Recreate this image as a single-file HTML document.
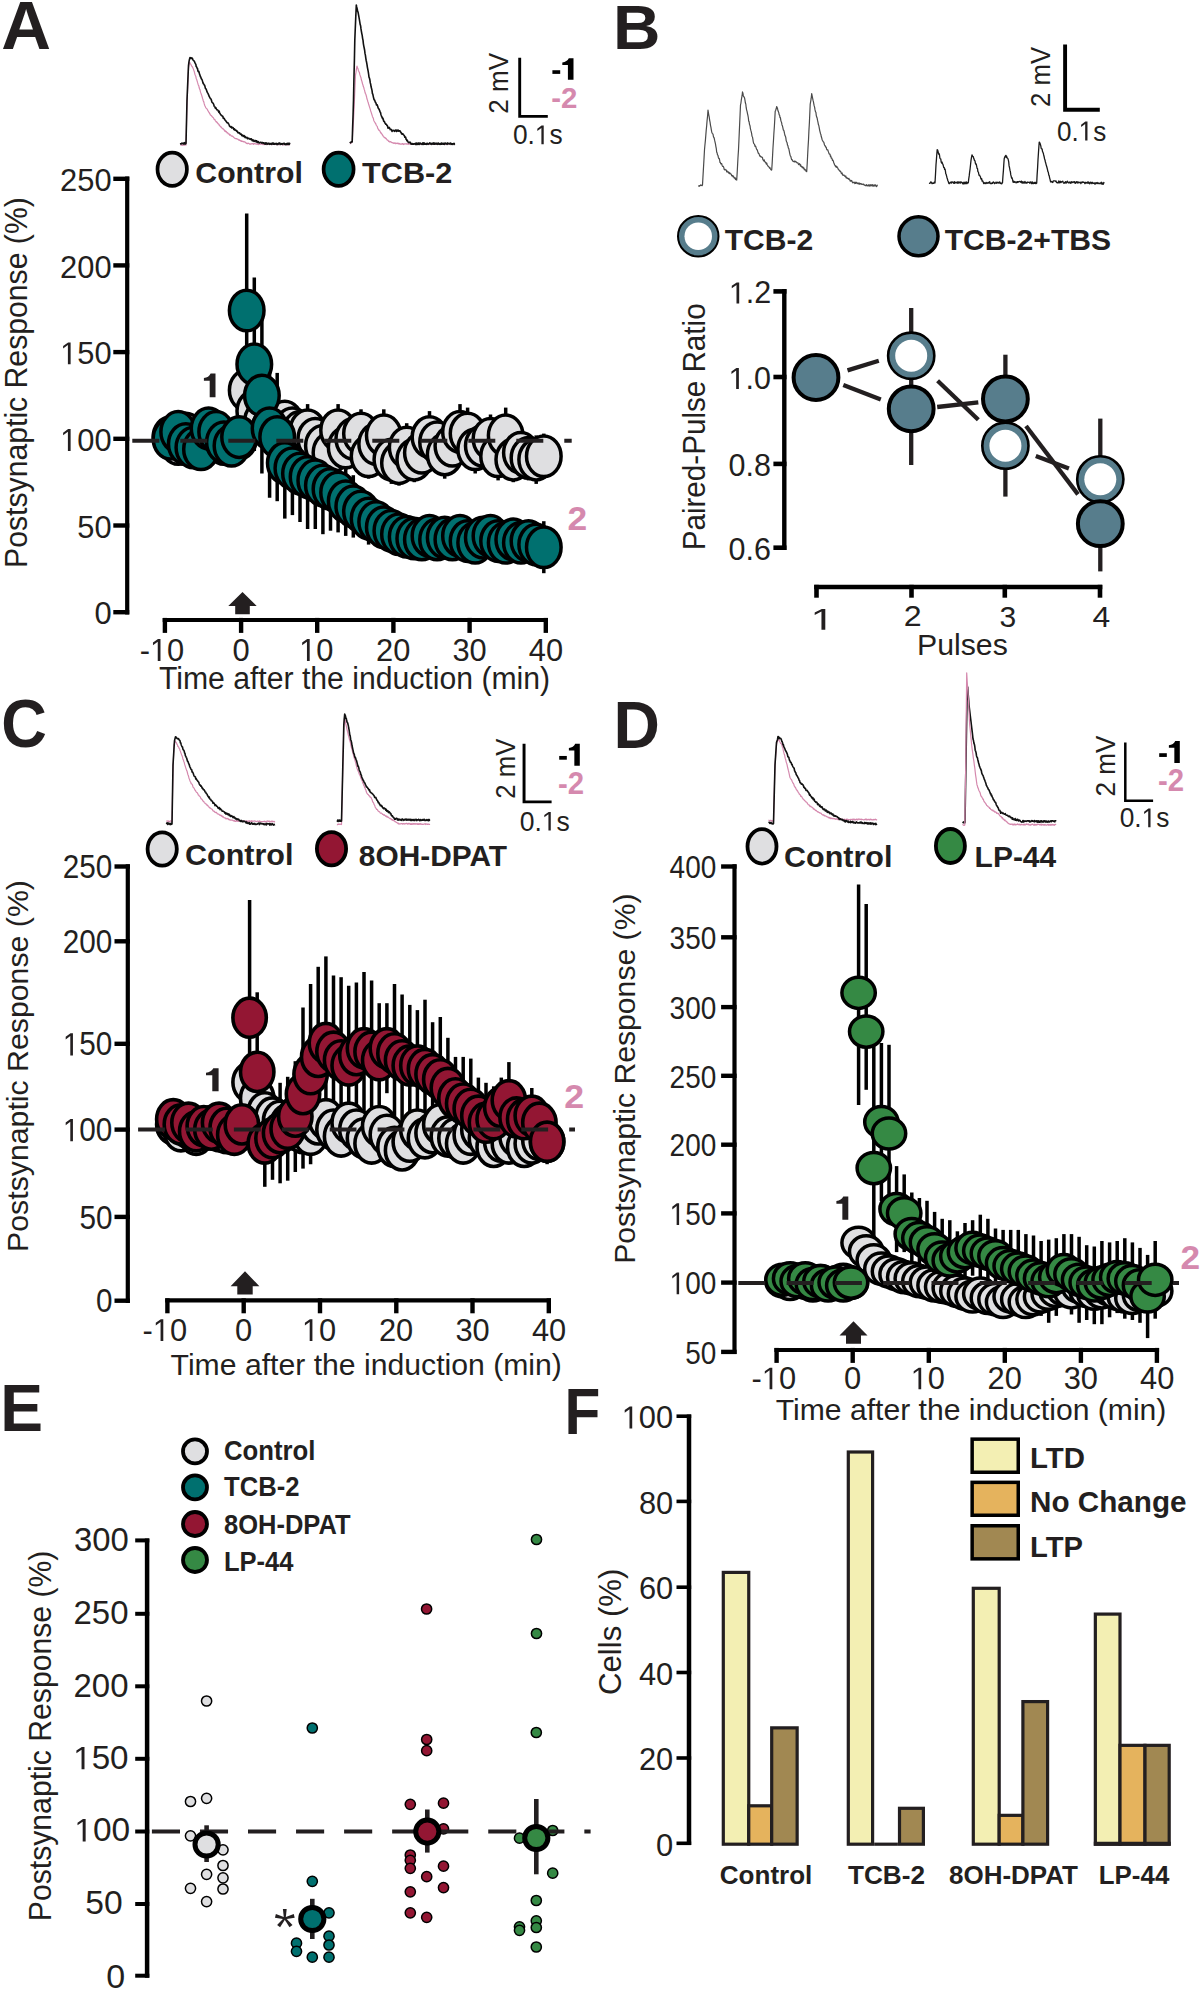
<!DOCTYPE html>
<html><head><meta charset="utf-8"><style>
html,body{margin:0;padding:0;background:#fff;}
svg{display:block;font-family:"Liberation Sans",sans-serif;}
</style></head><body>
<svg width="1200" height="1991" viewBox="0 0 1200 1991">
<rect width="1200" height="1991" fill="#fff"/>
<text x="1.3" y="49.2" font-size="68" font-weight="bold" textLength="49.8" lengthAdjust="spacingAndGlyphs" fill="#231f20">A</text>
<path d="M180.5,145.5 L180.9,145.4 L181.3,144.6 L181.8,144.6 L182.2,145.3 L182.6,145.2 L183.0,145.2 L183.5,144.8 L183.9,145.1 L184.3,145.1 L184.7,145.1 L185.2,144.7 L185.6,144.9 L186.0,145.0 L186.5,125.0 L187.0,105.1 L187.5,92.8 L188.0,80.3 L188.5,67.9 L189.0,65.0 L189.5,62.0 L189.9,62.7 L190.4,63.8 L190.8,64.2 L191.2,65.0 L191.6,66.1 L192.1,66.4 L192.5,67.1 L192.9,67.9 L193.3,68.9 L193.8,70.3 L194.2,71.3 L194.6,72.8 L195.0,74.5 L195.4,75.5 L195.8,76.3 L196.2,78.4 L196.7,79.6 L197.1,80.9 L197.5,82.4 L197.9,83.6 L198.3,85.0 L198.8,85.9 L199.2,87.8 L199.6,89.1 L200.0,89.7 L200.4,91.6 L200.8,92.9 L201.2,94.0 L201.7,95.4 L202.1,96.7 L202.5,98.4 L202.9,99.3 L203.3,101.0 L203.8,101.9 L204.2,103.7 L204.6,105.1 L205.0,106.0 L205.4,106.7 L205.8,107.8 L206.2,108.2 L206.7,108.7 L207.1,109.1 L207.5,109.8 L207.9,110.9 L208.3,111.0 L208.8,112.4 L209.2,112.4 L209.6,113.7 L210.0,113.8 L210.4,115.0 L210.8,115.2 L211.2,115.5 L211.7,116.0 L212.1,116.7 L212.5,117.1 L212.9,117.3 L213.3,117.7 L213.8,118.5 L214.2,119.4 L214.6,119.6 L215.0,119.6 L215.4,120.8 L215.8,121.2 L216.2,121.9 L216.7,121.7 L217.1,122.7 L217.5,122.6 L217.9,123.7 L218.3,123.8 L218.8,124.2 L219.2,125.4 L219.6,125.1 L220.0,126.0 L220.4,126.8 L220.8,126.6 L221.2,127.0 L221.7,128.0 L222.1,128.0 L222.5,128.7 L222.9,128.4 L223.3,129.2 L223.8,129.4 L224.2,130.3 L224.6,130.2 L225.0,131.5 L225.4,130.9 L225.8,131.9 L226.2,131.5 L226.7,132.1 L227.1,133.0 L227.5,132.7 L227.9,133.0 L228.3,133.9 L228.8,133.9 L229.2,133.9 L229.6,135.2 L230.0,134.7 L230.4,134.8 L230.8,135.3 L231.2,135.9 L231.7,136.2 L232.1,135.9 L232.5,136.3 L232.9,136.3 L233.3,136.9 L233.8,137.5 L234.2,137.7 L234.6,138.2 L235.0,138.3 L235.4,138.6 L235.8,138.6 L236.2,138.6 L236.7,138.6 L237.1,139.2 L237.5,139.1 L237.9,139.1 L238.3,139.6 L238.8,140.2 L239.2,139.7 L239.6,140.4 L240.0,140.4 L240.4,140.7 L240.8,140.5 L241.2,141.5 L241.7,140.9 L242.1,141.4 L242.5,141.4 L242.9,141.2 L243.3,141.9 L243.8,141.6 L244.2,141.7 L244.6,141.9 L245.0,142.2 L245.4,142.2 L245.8,142.9 L246.2,142.9 L246.7,143.5 L247.1,143.6 L247.5,143.7 L247.9,143.1 L248.3,143.4 L248.8,143.4 L249.2,143.8 L249.6,144.0 L250.0,144.3 L250.4,144.2 L250.8,143.8 L251.2,143.9 L251.6,144.0 L252.0,143.5 L252.4,143.6 L252.8,143.9 L253.2,143.7 L253.6,144.3 L254.0,143.8 L254.4,143.7 L254.8,143.7 L255.2,143.8 L255.6,143.8 L256.0,144.1 L256.4,144.0 L256.8,143.9 L257.2,144.2 L257.6,143.8 L258.0,144.5 L258.4,144.6 L258.8,144.3 L259.2,144.0 L259.6,144.1 L260.0,144.2 L260.4,143.7 L260.8,144.1 L261.2,144.2 L261.6,143.8 L262.0,143.7 L262.4,144.5 L262.8,144.0 L263.2,144.2 L263.6,144.6 L264.0,144.3 L264.4,144.0 L264.8,144.7 L265.2,144.1 L265.6,143.7 L266.0,144.4 L266.4,143.8 L266.8,144.0 L267.2,144.6 L267.6,144.4 L268.0,143.7 L268.4,144.2 L268.8,144.1 L269.2,144.2 L269.6,144.0 L270.0,144.3 L270.4,143.8 L270.8,144.0 L271.2,144.1 L271.6,144.7 L272.0,143.9 L272.4,144.5 L272.8,144.0 L273.2,144.4 L273.6,144.2 L274.0,144.3 L274.4,144.6 L274.8,144.2 L275.2,143.9 L275.6,143.9 L276.0,143.9 L276.4,144.7 L276.8,144.5 L277.2,144.8 L277.6,144.5 L278.0,143.9 L278.4,144.5 L278.8,144.6 L279.2,144.6 L279.6,144.4 L280.0,144.2 L280.4,144.3 L280.8,144.7 L281.2,144.2 L281.6,144.4 L282.0,144.4 L282.4,144.9 L282.8,144.7 L283.2,144.8 L283.6,144.8 L284.0,144.2 L284.4,144.2 L284.8,144.4 L285.2,144.2 L285.6,144.4 L286.0,144.6 L286.4,144.9 L286.8,144.5 L287.2,144.8 L287.6,144.1 L288.0,144.3 L288.4,145.0 L288.8,144.1 L289.2,144.4 L289.6,144.1 L290.0,144.5" fill="none" stroke="#d589ae" stroke-width="1.2" stroke-linejoin="round"/>
<path d="M180.5,142.9 L180.9,144.1 L181.3,143.9 L181.8,143.1 L182.2,143.5 L182.6,143.4 L183.0,143.7 L183.5,144.0 L183.9,142.9 L184.3,142.7 L184.7,144.0 L185.2,143.4 L185.6,143.9 L186.0,143.3 L186.5,121.7 L187.0,100.1 L187.5,88.2 L188.0,76.8 L188.5,65.6 L189.0,61.7 L189.5,59.2 L190.0,57.6 L190.4,58.5 L190.8,57.8 L191.2,57.8 L191.7,58.4 L192.1,58.0 L192.5,58.6 L192.9,59.6 L193.3,60.3 L193.8,60.6 L194.2,61.2 L194.6,61.9 L195.0,62.9 L195.4,63.7 L195.8,64.2 L196.2,66.5 L196.7,67.1 L197.1,68.2 L197.5,68.5 L197.9,70.8 L198.3,71.6 L198.8,71.4 L199.2,72.7 L199.6,74.4 L200.0,75.3 L200.4,76.7 L200.8,76.9 L201.2,78.5 L201.7,79.3 L202.1,79.7 L202.5,81.1 L202.9,82.6 L203.3,83.6 L203.8,84.0 L204.2,85.1 L204.6,85.3 L205.0,86.6 L205.4,88.4 L205.8,88.7 L206.2,89.2 L206.7,90.7 L207.1,91.9 L207.5,92.8 L207.9,93.2 L208.3,94.2 L208.8,95.3 L209.2,96.6 L209.6,97.1 L210.0,97.8 L210.4,98.7 L210.8,98.7 L211.2,99.5 L211.7,101.3 L212.1,102.5 L212.5,102.6 L212.9,103.1 L213.3,103.5 L213.8,104.8 L214.2,106.3 L214.6,106.7 L215.0,107.1 L215.4,108.1 L215.8,107.6 L216.2,108.5 L216.7,109.7 L217.1,109.6 L217.5,109.9 L217.9,110.1 L218.3,111.1 L218.8,112.2 L219.2,111.2 L219.6,113.0 L220.0,113.5 L220.4,114.2 L220.8,114.6 L221.2,115.2 L221.7,115.4 L222.1,116.0 L222.5,116.4 L222.9,116.4 L223.3,118.3 L223.8,118.4 L224.2,118.4 L224.6,119.4 L225.0,120.0 L225.4,120.3 L225.8,120.8 L226.2,121.6 L226.7,122.2 L227.1,122.7 L227.5,122.9 L227.9,122.7 L228.3,123.6 L228.8,124.0 L229.2,125.1 L229.6,126.1 L230.0,126.5 L230.4,126.8 L230.8,127.2 L231.2,126.6 L231.7,127.9 L232.1,127.9 L232.5,127.3 L232.9,127.6 L233.3,127.9 L233.8,129.4 L234.2,128.9 L234.6,129.0 L235.0,130.2 L235.4,130.1 L235.8,130.0 L236.2,130.5 L236.7,131.4 L237.1,131.1 L237.5,131.6 L237.9,132.7 L238.3,132.6 L238.8,132.7 L239.2,133.3 L239.6,132.9 L240.0,133.8 L240.4,134.1 L240.8,134.0 L241.2,134.1 L241.7,135.6 L242.1,135.3 L242.5,135.0 L242.9,135.9 L243.3,136.5 L243.8,135.5 L244.2,135.7 L244.6,136.2 L245.0,137.4 L245.4,136.6 L245.8,137.7 L246.2,137.8 L246.7,137.7 L247.1,137.4 L247.5,138.8 L247.9,138.6 L248.3,138.4 L248.8,138.1 L249.2,138.9 L249.6,138.7 L250.0,139.1 L250.4,138.9 L250.8,139.5 L251.2,138.8 L251.7,139.3 L252.1,140.6 L252.5,140.6 L252.9,139.9 L253.3,140.9 L253.8,140.2 L254.2,141.4 L254.6,141.2 L255.0,140.9 L255.4,140.7 L255.8,140.5 L256.2,142.0 L256.7,140.8 L257.1,142.1 L257.5,142.5 L257.9,142.0 L258.3,141.5 L258.8,142.7 L259.2,143.0 L259.6,142.7 L260.0,142.5 L260.4,142.4 L260.8,142.4 L261.2,142.3 L261.7,143.1 L262.1,142.8 L262.5,142.5 L262.9,142.5 L263.3,143.4 L263.8,142.9 L264.2,143.3 L264.6,143.1 L265.0,144.1 L265.4,144.1 L265.8,142.7 L266.2,143.0 L266.6,143.3 L267.0,144.3 L267.4,144.0 L267.8,143.3 L268.2,143.1 L268.6,143.9 L269.0,144.1 L269.4,144.3 L269.8,143.3 L270.2,144.2 L270.6,143.9 L271.0,143.6 L271.5,144.4 L271.9,143.2 L272.3,144.0 L272.7,143.0 L273.1,143.1 L273.5,144.3 L273.9,143.2 L274.3,144.1 L274.7,143.9 L275.1,144.2 L275.5,143.5 L275.9,143.5 L276.3,143.4 L276.7,144.3 L277.1,143.9 L277.5,144.5 L277.9,144.4 L278.3,143.2 L278.7,143.9 L279.1,143.1 L279.5,143.1 L279.9,143.1 L280.3,144.4 L280.7,144.3 L281.1,144.3 L281.5,143.6 L281.9,144.0 L282.3,144.3 L282.7,143.7 L283.1,144.0 L283.5,143.4 L284.0,143.2 L284.4,143.5 L284.8,144.5 L285.2,144.0 L285.6,144.6 L286.0,143.9 L286.4,143.6 L286.8,144.4 L287.2,144.5 L287.6,143.2 L288.0,144.2 L288.4,143.3 L288.8,143.4 L289.2,144.6 L289.6,143.3 L290.0,144.0" fill="none" stroke="#111" stroke-width="1.6" stroke-linejoin="round"/>
<path d="M349.8,143.7 L350.2,143.7 L350.6,143.2 L351.0,143.1 L351.4,142.8 L351.8,141.9 L352.2,141.9 L352.6,134.1 L353.1,126.0 L353.6,117.9 L354.0,110.1 L354.5,98.3 L355.0,86.7 L355.5,75.0 L356.0,72.2 L356.5,68.7 L357.0,66.2 L357.5,67.8 L358.0,68.8 L358.4,70.4 L358.9,71.6 L359.4,72.4 L359.8,74.4 L360.2,75.6 L360.6,76.7 L361.0,77.8 L361.4,80.0 L361.8,80.9 L362.2,82.5 L362.6,84.0 L363.0,85.2 L363.4,86.8 L363.8,87.6 L364.2,89.4 L364.6,90.4 L365.0,92.3 L365.4,93.6 L365.8,94.1 L366.2,95.5 L366.6,97.0 L367.0,99.1 L367.4,99.9 L367.8,101.5 L368.2,102.5 L368.6,104.0 L369.0,105.3 L369.4,106.6 L369.9,108.1 L370.3,109.4 L370.7,111.0 L371.1,112.1 L371.6,113.7 L372.0,114.9 L372.4,116.4 L372.8,117.4 L373.3,118.2 L373.7,120.2 L374.1,121.1 L374.5,121.8 L374.9,122.3 L375.3,123.2 L375.7,123.5 L376.1,124.9 L376.5,125.5 L376.9,126.0 L377.3,126.6 L377.7,128.2 L378.1,129.1 L378.5,129.0 L378.9,130.3 L379.3,130.4 L379.7,130.7 L380.1,131.4 L380.5,132.5 L380.9,133.1 L381.3,132.9 L381.7,134.0 L382.1,134.0 L382.5,135.2 L382.9,135.4 L383.3,136.5 L383.7,137.0 L384.1,136.9 L384.5,137.8 L384.9,137.5 L385.3,137.7 L385.7,138.6 L386.1,138.4 L386.5,139.0 L386.9,139.6 L387.3,140.2 L387.7,140.2 L388.1,140.4 L388.5,141.4 L389.0,141.1 L389.4,141.9 L389.8,142.0 L390.3,141.6 L390.7,141.9 L391.2,142.1 L391.6,142.4 L392.0,142.6 L392.5,142.7 L392.9,142.9 L393.3,143.3 L393.7,142.9 L394.2,142.9 L394.6,143.3 L395.0,142.9 L395.4,143.0 L395.8,143.8 L396.2,143.4 L396.7,143.5 L397.1,143.0 L397.5,143.5 L397.9,143.7 L398.3,143.2 L398.7,143.9 L399.2,144.0 L399.6,143.5 L400.0,144.1 L400.4,144.0 L400.8,144.2 L401.2,143.9 L401.6,144.2 L402.0,144.2 L402.4,143.5 L402.8,143.6 L403.2,144.2 L403.6,144.5 L404.0,143.8 L404.4,144.0 L404.8,144.1 L405.2,143.8 L405.6,143.9 L406.0,143.8 L406.4,143.9 L406.8,144.1 L407.2,143.8 L407.6,143.9 L408.0,144.3 L408.4,143.5 L408.8,144.1 L409.2,144.2 L409.6,143.8 L410.0,143.7 L410.4,144.3 L410.8,143.7 L411.2,143.7 L411.6,143.9 L412.0,144.2 L412.4,143.6 L412.8,143.8 L413.2,143.8 L413.6,144.3 L414.1,143.9 L414.5,144.4 L414.9,143.7 L415.3,143.8 L415.7,144.2 L416.1,144.4 L416.5,144.0 L416.9,143.7 L417.3,143.6 L417.7,144.0 L418.1,143.7 L418.5,144.3 L418.9,144.3 L419.3,143.7 L419.7,143.8 L420.1,144.3 L420.5,144.1 L420.9,144.3 L421.3,143.8 L421.7,143.6 L422.1,143.8 L422.5,144.3 L422.9,143.8 L423.3,143.8 L423.7,143.9 L424.1,143.9 L424.5,143.9 L424.9,144.4 L425.3,143.7 L425.7,143.5 L426.1,144.4 L426.5,144.4 L426.9,144.5 L427.3,143.9 L427.7,144.5 L428.1,144.4 L428.5,143.7 L428.9,144.2 L429.3,144.3 L429.7,144.2 L430.1,144.0 L430.5,143.8 L430.9,143.8 L431.3,143.7 L431.7,143.6 L432.1,144.1 L432.5,143.8 L432.9,144.3 L433.3,143.5 L433.7,144.4 L434.1,144.2 L434.5,144.4 L434.9,144.4 L435.3,144.4 L435.7,144.1 L436.1,143.5 L436.5,144.2 L436.9,143.7 L437.3,143.8 L437.7,144.2 L438.1,144.0 L438.5,143.9 L438.9,144.4 L439.3,144.1 L439.7,143.8 L440.1,143.8 L440.5,144.4 L440.9,144.0 L441.4,144.3 L441.8,143.9 L442.2,143.7 L442.6,144.0 L443.0,144.3 L443.4,143.7 L443.8,144.3 L444.2,144.4 L444.6,144.3 L445.0,144.3 L445.4,143.5 L445.8,144.1 L446.2,144.4 L446.6,143.5 L447.0,143.8 L447.4,143.8 L447.8,144.0 L448.2,143.9 L448.6,144.0 L449.0,144.3 L449.4,143.5 L449.8,143.6 L450.2,143.6 L450.6,143.6 L451.0,143.6 L451.4,144.5 L451.8,144.4 L452.2,143.6 L452.6,144.0 L453.0,143.8 L453.4,143.8 L453.8,143.9 L454.2,144.1 L454.6,144.1 L455.0,144.0" fill="none" stroke="#d589ae" stroke-width="1.2" stroke-linejoin="round"/>
<path d="M349.8,143.1 L350.2,142.6 L350.6,142.8 L351.0,142.1 L351.4,141.7 L351.8,141.9 L352.2,141.9 L352.6,128.0 L353.1,114.0 L353.5,99.9 L353.9,80.0 L354.4,59.9 L354.8,39.9 L355.3,28.0 L355.8,16.1 L356.3,5.0 L356.7,7.0 L357.2,9.0 L357.6,11.2 L358.1,12.3 L358.5,14.6 L359.0,17.3 L359.4,19.6 L359.8,22.2 L360.2,24.6 L360.6,25.7 L361.0,28.9 L361.4,31.4 L361.8,33.6 L362.2,35.4 L362.6,38.3 L363.0,40.1 L363.4,43.8 L363.8,46.1 L364.2,48.0 L364.6,50.0 L365.0,53.4 L365.4,55.2 L365.8,58.1 L366.2,60.5 L366.6,62.3 L367.0,64.6 L367.4,67.3 L367.8,69.4 L368.2,71.4 L368.6,74.0 L369.0,77.2 L369.4,78.0 L369.9,80.0 L370.3,82.9 L370.7,84.3 L371.1,86.8 L371.6,88.7 L372.0,90.4 L372.4,93.5 L372.8,94.2 L373.3,96.6 L373.7,98.2 L374.1,99.7 L374.5,99.9 L374.9,100.9 L375.3,102.3 L375.7,102.4 L376.1,103.6 L376.5,104.9 L376.9,104.5 L377.3,105.2 L377.7,106.3 L378.1,107.9 L378.5,108.5 L378.9,108.8 L379.3,109.9 L379.7,110.7 L380.1,112.1 L380.5,112.4 L380.9,114.4 L381.3,115.6 L381.7,116.7 L382.1,117.3 L382.5,118.6 L382.9,118.1 L383.3,119.5 L383.7,121.2 L384.1,121.5 L384.5,121.6 L384.9,123.1 L385.3,123.2 L385.7,124.2 L386.1,124.0 L386.5,124.4 L386.9,125.5 L387.3,125.6 L387.7,126.7 L388.1,128.2 L388.5,127.6 L389.0,127.4 L389.4,127.8 L389.8,128.4 L390.3,129.7 L390.7,129.4 L391.2,129.6 L391.6,129.6 L392.0,131.4 L392.5,130.8 L392.9,130.8 L393.3,130.5 L393.7,130.4 L394.1,130.6 L394.6,131.3 L395.0,130.4 L395.4,130.1 L395.8,130.8 L396.2,130.3 L396.6,131.5 L397.0,130.0 L397.5,130.6 L397.9,130.9 L398.3,130.2 L398.7,131.1 L399.1,130.7 L399.5,130.7 L399.9,131.4 L400.3,131.2 L400.7,132.2 L401.1,132.4 L401.5,133.8 L402.0,134.1 L402.4,134.0 L402.8,133.7 L403.2,134.5 L403.6,134.9 L404.0,135.2 L404.4,135.7 L404.8,137.3 L405.2,136.8 L405.7,137.3 L406.1,139.3 L406.5,139.4 L406.9,140.7 L407.4,140.4 L407.8,141.8 L408.2,142.0 L408.6,142.5 L409.0,142.6 L409.5,142.4 L409.9,142.0 L410.3,142.4 L410.7,143.7 L411.2,143.9 L411.6,144.2 L412.0,143.4 L412.4,144.0 L412.8,144.2 L413.2,143.9 L413.6,144.2 L414.0,143.7 L414.4,143.9 L414.8,144.0 L415.2,143.3 L415.6,144.4 L416.0,144.4 L416.4,143.0 L416.8,144.5 L417.2,144.4 L417.6,144.0 L418.0,143.0 L418.4,144.3 L418.8,143.1 L419.2,144.4 L419.6,144.0 L420.0,143.0 L420.4,143.2 L420.8,143.9 L421.2,143.8 L421.6,144.1 L422.0,144.4 L422.4,143.2 L422.9,142.9 L423.3,144.4 L423.7,142.9 L424.1,144.3 L424.5,143.1 L424.9,144.2 L425.3,144.2 L425.7,144.3 L426.1,143.8 L426.5,144.3 L426.9,143.2 L427.3,144.0 L427.7,143.4 L428.1,144.3 L428.5,144.1 L428.9,143.7 L429.3,143.7 L429.7,142.9 L430.1,143.0 L430.5,143.9 L430.9,143.7 L431.3,144.3 L431.7,143.9 L432.1,143.1 L432.5,143.5 L432.9,144.1 L433.3,143.7 L433.7,142.9 L434.1,144.2 L434.5,144.2 L434.9,143.0 L435.3,143.8 L435.7,143.5 L436.1,144.2 L436.5,143.4 L436.9,143.3 L437.3,143.7 L437.7,144.4 L438.1,143.1 L438.5,143.1 L438.9,143.9 L439.3,144.3 L439.7,143.7 L440.1,143.6 L440.5,144.3 L440.9,144.1 L441.3,143.0 L441.7,144.3 L442.1,143.2 L442.5,143.4 L442.9,144.2 L443.3,143.6 L443.7,144.2 L444.1,143.2 L444.6,144.3 L445.0,143.2 L445.4,143.1 L445.8,143.7 L446.2,143.4 L446.6,143.8 L447.0,144.3 L447.4,144.0 L447.8,142.9 L448.2,143.4 L448.6,143.8 L449.0,143.7 L449.4,144.0 L449.8,143.7 L450.2,143.0 L450.6,143.3 L451.0,144.3 L451.4,143.5 L451.8,144.1 L452.2,144.5 L452.6,143.9 L453.0,144.0 L453.4,143.9 L453.8,143.4 L454.2,144.4 L454.6,143.6 L455.0,143.7" fill="none" stroke="#111" stroke-width="1.6" stroke-linejoin="round"/>
<path d="M519.7,57.8 L519.7,116.4 L547.8,116.4" fill="none" stroke="#000" stroke-width="2.9"/>
<text x="508.0" y="113.7" font-size="28" transform="rotate(-90 508.0 113.7)" textLength="60.7" lengthAdjust="spacingAndGlyphs" fill="#231f20">2 mV</text>
<text x="512.9" y="144.2" font-size="27" textLength="49.7" lengthAdjust="spacingAndGlyphs" fill="#231f20">0. s</text>
<path d="M541.40,144.20 L541.40,127.89 L537.32,130.88 L537.32,128.64 L541.59,125.62 L543.72,125.62 L543.72,144.20 Z" fill="#231f20"/>
<rect x="552.40" y="70.23" width="7.81" height="3.66" fill="#000"/>
<path d="M573.50,58.30 L573.50,79.80 L567.91,79.80 L567.91,64.97 L562.32,64.97 L562.32,62.49 Q567.01,61.95 568.80,58.30 Z" fill="#000"/>
<text x="551.2" y="108.2" font-size="30" font-weight="bold" textLength="26.2" lengthAdjust="spacingAndGlyphs" fill="#d589ae">-2</text>
<ellipse cx="172.2" cy="169.2" rx="14.7" ry="16.6" fill="#dfdfe1" stroke="#000" stroke-width="3.7"/>
<text x="195.3" y="182.5" font-size="30" font-weight="bold" textLength="107.5" lengthAdjust="spacingAndGlyphs" fill="#231f20">Control</text>
<ellipse cx="338.6" cy="169.2" rx="15.0" ry="16.6" fill="#00706f" stroke="#000" stroke-width="3.7"/>
<text x="362.1" y="182.5" font-size="30" font-weight="bold" textLength="90.2" lengthAdjust="spacingAndGlyphs" fill="#231f20">TCB-2</text>
<line x1="127.2" y1="176.6" x2="127.2" y2="614.4" stroke="#000" stroke-width="4.2"/>
<line x1="113.3" y1="178.8" x2="129.3" y2="178.8" stroke="#000" stroke-width="4.4"/>
<line x1="113.3" y1="265.4" x2="129.3" y2="265.4" stroke="#000" stroke-width="4.4"/>
<line x1="113.3" y1="352.1" x2="129.3" y2="352.1" stroke="#000" stroke-width="4.4"/>
<line x1="113.3" y1="438.8" x2="129.3" y2="438.8" stroke="#000" stroke-width="4.4"/>
<line x1="113.3" y1="525.5" x2="129.3" y2="525.5" stroke="#000" stroke-width="4.4"/>
<line x1="113.3" y1="612.2" x2="129.3" y2="612.2" stroke="#000" stroke-width="4.4"/>
<line x1="162.7" y1="620.0" x2="548.0" y2="620.0" stroke="#000" stroke-width="4.2"/>
<line x1="164.9" y1="617.9" x2="164.9" y2="632.9" stroke="#000" stroke-width="4.4"/>
<line x1="241.1" y1="617.9" x2="241.1" y2="632.9" stroke="#000" stroke-width="4.4"/>
<line x1="317.2" y1="617.9" x2="317.2" y2="632.9" stroke="#000" stroke-width="4.4"/>
<line x1="393.4" y1="617.9" x2="393.4" y2="632.9" stroke="#000" stroke-width="4.4"/>
<line x1="469.6" y1="617.9" x2="469.6" y2="632.9" stroke="#000" stroke-width="4.4"/>
<line x1="545.8" y1="617.9" x2="545.8" y2="632.9" stroke="#000" stroke-width="4.4"/>
<text x="60.1" y="190.9" font-size="31.8" textLength="51.5" lengthAdjust="spacingAndGlyphs" fill="#231f20">250</text>
<text x="60.1" y="277.6" font-size="31.8" textLength="51.5" lengthAdjust="spacingAndGlyphs" fill="#231f20">200</text>
<text x="60.1" y="364.3" font-size="31.8" textLength="51.5" lengthAdjust="spacingAndGlyphs" fill="#231f20"> 50</text>
<path d="M67.90,364.27 L67.90,345.06 L63.11,348.59 L63.11,345.95 L68.12,342.39 L70.62,342.39 L70.62,364.27 Z" fill="#231f20"/>
<text x="60.1" y="451.0" font-size="31.8" textLength="51.5" lengthAdjust="spacingAndGlyphs" fill="#231f20"> 00</text>
<path d="M67.90,450.96 L67.90,431.75 L63.11,435.28 L63.11,432.64 L68.12,429.08 L70.62,429.08 L70.62,450.96 Z" fill="#231f20"/>
<text x="77.3" y="537.6" font-size="31.8" textLength="34.3" lengthAdjust="spacingAndGlyphs" fill="#231f20">50</text>
<text x="94.4" y="624.3" font-size="31.8" textLength="17.2" lengthAdjust="spacingAndGlyphs" fill="#231f20">0</text>
<text x="139.7" y="660.9" font-size="31.8" textLength="44.6" lengthAdjust="spacingAndGlyphs" fill="#231f20">- 0</text>
<path d="M157.75,660.90 L157.75,641.69 L152.97,645.22 L152.97,642.58 L157.98,639.02 L160.48,639.02 L160.48,660.90 Z" fill="#231f20"/>
<text x="232.5" y="660.9" font-size="31.8" textLength="17.2" lengthAdjust="spacingAndGlyphs" fill="#231f20">0</text>
<text x="299.2" y="660.9" font-size="31.8" textLength="34.3" lengthAdjust="spacingAndGlyphs" fill="#231f20"> 0</text>
<path d="M306.96,660.90 L306.96,641.69 L302.17,645.22 L302.17,642.58 L307.19,639.02 L309.69,639.02 L309.69,660.90 Z" fill="#231f20"/>
<text x="376.1" y="660.9" font-size="31.8" textLength="34.3" lengthAdjust="spacingAndGlyphs" fill="#231f20">20</text>
<text x="452.4" y="660.9" font-size="31.8" textLength="34.3" lengthAdjust="spacingAndGlyphs" fill="#231f20">30</text>
<text x="528.8" y="660.9" font-size="31.8" textLength="34.3" lengthAdjust="spacingAndGlyphs" fill="#231f20">40</text>
<text x="27.4" y="567.9" font-size="32" transform="rotate(-90 27.4 567.9)" textLength="370.7" lengthAdjust="spacingAndGlyphs" fill="#231f20">Postsynaptic Response (%)</text>
<text x="158.9" y="688.8" font-size="30.8" textLength="391.2" lengthAdjust="spacingAndGlyphs" fill="#231f20">Time after the induction (min)</text>
<path d="M242.5,592.0 L256.7,606.0 L249.8,606.0 L249.8,614.3 L235.2,614.3 L235.2,606.0 L228.3,606.0 Z" fill="#231f20"/>
<line x1="170.5" y1="430.2" x2="170.5" y2="444.0" stroke="#000" stroke-width="3.5"/>
<line x1="178.2" y1="437.1" x2="178.2" y2="451.0" stroke="#000" stroke-width="3.5"/>
<line x1="185.8" y1="426.7" x2="185.8" y2="440.6" stroke="#000" stroke-width="3.5"/>
<line x1="193.4" y1="433.6" x2="193.4" y2="447.5" stroke="#000" stroke-width="3.5"/>
<line x1="201.0" y1="438.8" x2="201.0" y2="452.7" stroke="#000" stroke-width="3.5"/>
<line x1="208.6" y1="424.9" x2="208.6" y2="438.8" stroke="#000" stroke-width="3.5"/>
<line x1="216.2" y1="431.9" x2="216.2" y2="445.8" stroke="#000" stroke-width="3.5"/>
<line x1="223.9" y1="437.1" x2="223.9" y2="451.0" stroke="#000" stroke-width="3.5"/>
<line x1="231.5" y1="433.6" x2="231.5" y2="447.5" stroke="#000" stroke-width="3.5"/>
<line x1="239.1" y1="431.9" x2="239.1" y2="445.8" stroke="#000" stroke-width="3.5"/>
<line x1="246.7" y1="369.5" x2="246.7" y2="411.1" stroke="#000" stroke-width="3.5"/>
<line x1="254.3" y1="393.7" x2="254.3" y2="428.4" stroke="#000" stroke-width="3.5"/>
<line x1="261.9" y1="405.9" x2="261.9" y2="437.1" stroke="#000" stroke-width="3.5"/>
<line x1="269.6" y1="411.1" x2="269.6" y2="445.8" stroke="#000" stroke-width="3.5"/>
<line x1="277.2" y1="405.9" x2="277.2" y2="444.0" stroke="#000" stroke-width="3.5"/>
<line x1="284.8" y1="400.7" x2="284.8" y2="442.3" stroke="#000" stroke-width="3.5"/>
<line x1="292.4" y1="405.9" x2="292.4" y2="451.0" stroke="#000" stroke-width="3.5"/>
<line x1="300.0" y1="409.3" x2="300.0" y2="454.4" stroke="#000" stroke-width="3.5"/>
<line x1="307.6" y1="404.1" x2="307.6" y2="456.2" stroke="#000" stroke-width="3.5"/>
<line x1="315.3" y1="416.3" x2="315.3" y2="461.4" stroke="#000" stroke-width="3.5"/>
<line x1="322.9" y1="424.9" x2="322.9" y2="466.6" stroke="#000" stroke-width="3.5"/>
<line x1="330.5" y1="430.2" x2="330.5" y2="475.2" stroke="#000" stroke-width="3.5"/>
<line x1="338.1" y1="404.1" x2="338.1" y2="456.2" stroke="#000" stroke-width="3.5"/>
<line x1="345.7" y1="424.9" x2="345.7" y2="470.0" stroke="#000" stroke-width="3.5"/>
<line x1="353.3" y1="418.0" x2="353.3" y2="459.6" stroke="#000" stroke-width="3.5"/>
<line x1="361.0" y1="409.3" x2="361.0" y2="457.9" stroke="#000" stroke-width="3.5"/>
<line x1="368.6" y1="433.6" x2="368.6" y2="478.7" stroke="#000" stroke-width="3.5"/>
<line x1="376.2" y1="423.2" x2="376.2" y2="464.8" stroke="#000" stroke-width="3.5"/>
<line x1="383.8" y1="409.3" x2="383.8" y2="461.4" stroke="#000" stroke-width="3.5"/>
<line x1="391.4" y1="435.4" x2="391.4" y2="483.9" stroke="#000" stroke-width="3.5"/>
<line x1="399.0" y1="440.6" x2="399.0" y2="485.6" stroke="#000" stroke-width="3.5"/>
<line x1="406.7" y1="423.2" x2="406.7" y2="471.8" stroke="#000" stroke-width="3.5"/>
<line x1="414.3" y1="437.1" x2="414.3" y2="482.2" stroke="#000" stroke-width="3.5"/>
<line x1="421.9" y1="428.4" x2="421.9" y2="477.0" stroke="#000" stroke-width="3.5"/>
<line x1="429.5" y1="411.1" x2="429.5" y2="463.1" stroke="#000" stroke-width="3.5"/>
<line x1="437.1" y1="419.7" x2="437.1" y2="464.8" stroke="#000" stroke-width="3.5"/>
<line x1="444.7" y1="430.2" x2="444.7" y2="478.7" stroke="#000" stroke-width="3.5"/>
<line x1="452.4" y1="423.2" x2="452.4" y2="468.3" stroke="#000" stroke-width="3.5"/>
<line x1="460.0" y1="404.1" x2="460.0" y2="459.6" stroke="#000" stroke-width="3.5"/>
<line x1="467.6" y1="407.6" x2="467.6" y2="459.6" stroke="#000" stroke-width="3.5"/>
<line x1="475.2" y1="424.9" x2="475.2" y2="473.5" stroke="#000" stroke-width="3.5"/>
<line x1="482.8" y1="423.2" x2="482.8" y2="468.3" stroke="#000" stroke-width="3.5"/>
<line x1="490.5" y1="414.5" x2="490.5" y2="463.1" stroke="#000" stroke-width="3.5"/>
<line x1="498.1" y1="431.9" x2="498.1" y2="480.4" stroke="#000" stroke-width="3.5"/>
<line x1="505.7" y1="407.6" x2="505.7" y2="463.1" stroke="#000" stroke-width="3.5"/>
<line x1="513.3" y1="437.1" x2="513.3" y2="482.2" stroke="#000" stroke-width="3.5"/>
<line x1="520.9" y1="428.4" x2="520.9" y2="477.0" stroke="#000" stroke-width="3.5"/>
<line x1="528.5" y1="435.4" x2="528.5" y2="480.4" stroke="#000" stroke-width="3.5"/>
<line x1="536.2" y1="435.4" x2="536.2" y2="483.9" stroke="#000" stroke-width="3.5"/>
<line x1="543.8" y1="433.6" x2="543.8" y2="478.7" stroke="#000" stroke-width="3.5"/>
<line x1="170.5" y1="431.9" x2="170.5" y2="445.8" stroke="#000" stroke-width="3.5"/>
<line x1="178.2" y1="424.9" x2="178.2" y2="438.8" stroke="#000" stroke-width="3.5"/>
<line x1="185.8" y1="437.1" x2="185.8" y2="451.0" stroke="#000" stroke-width="3.5"/>
<line x1="193.4" y1="440.6" x2="193.4" y2="454.4" stroke="#000" stroke-width="3.5"/>
<line x1="201.0" y1="442.3" x2="201.0" y2="456.2" stroke="#000" stroke-width="3.5"/>
<line x1="208.6" y1="421.5" x2="208.6" y2="435.4" stroke="#000" stroke-width="3.5"/>
<line x1="216.2" y1="424.9" x2="216.2" y2="438.8" stroke="#000" stroke-width="3.5"/>
<line x1="223.9" y1="435.4" x2="223.9" y2="449.2" stroke="#000" stroke-width="3.5"/>
<line x1="231.5" y1="438.8" x2="231.5" y2="452.7" stroke="#000" stroke-width="3.5"/>
<line x1="239.1" y1="430.2" x2="239.1" y2="444.0" stroke="#000" stroke-width="3.5"/>
<line x1="246.7" y1="213.4" x2="246.7" y2="407.6" stroke="#000" stroke-width="3.5"/>
<line x1="254.3" y1="277.6" x2="254.3" y2="451.0" stroke="#000" stroke-width="3.5"/>
<line x1="261.9" y1="317.5" x2="261.9" y2="473.5" stroke="#000" stroke-width="3.5"/>
<line x1="269.6" y1="359.1" x2="269.6" y2="497.8" stroke="#000" stroke-width="3.5"/>
<line x1="277.2" y1="372.9" x2="277.2" y2="501.2" stroke="#000" stroke-width="3.5"/>
<line x1="284.8" y1="407.6" x2="284.8" y2="518.6" stroke="#000" stroke-width="3.5"/>
<line x1="292.4" y1="421.5" x2="292.4" y2="515.1" stroke="#000" stroke-width="3.5"/>
<line x1="300.0" y1="424.9" x2="300.0" y2="522.0" stroke="#000" stroke-width="3.5"/>
<line x1="307.6" y1="424.9" x2="307.6" y2="529.0" stroke="#000" stroke-width="3.5"/>
<line x1="315.3" y1="431.9" x2="315.3" y2="529.0" stroke="#000" stroke-width="3.5"/>
<line x1="322.9" y1="437.1" x2="322.9" y2="534.2" stroke="#000" stroke-width="3.5"/>
<line x1="330.5" y1="447.5" x2="330.5" y2="530.7" stroke="#000" stroke-width="3.5"/>
<line x1="338.1" y1="452.7" x2="338.1" y2="532.4" stroke="#000" stroke-width="3.5"/>
<line x1="345.7" y1="466.6" x2="345.7" y2="535.9" stroke="#000" stroke-width="3.5"/>
<line x1="353.3" y1="475.2" x2="353.3" y2="537.6" stroke="#000" stroke-width="3.5"/>
<line x1="361.0" y1="487.4" x2="361.0" y2="535.9" stroke="#000" stroke-width="3.5"/>
<line x1="368.6" y1="492.6" x2="368.6" y2="544.6" stroke="#000" stroke-width="3.5"/>
<line x1="376.2" y1="501.2" x2="376.2" y2="542.8" stroke="#000" stroke-width="3.5"/>
<line x1="383.8" y1="508.2" x2="383.8" y2="546.3" stroke="#000" stroke-width="3.5"/>
<line x1="391.4" y1="511.6" x2="391.4" y2="549.8" stroke="#000" stroke-width="3.5"/>
<line x1="399.0" y1="516.8" x2="399.0" y2="551.5" stroke="#000" stroke-width="3.5"/>
<line x1="406.7" y1="519.4" x2="406.7" y2="554.1" stroke="#000" stroke-width="3.5"/>
<line x1="414.3" y1="521.2" x2="414.3" y2="555.9" stroke="#000" stroke-width="3.5"/>
<line x1="421.9" y1="523.8" x2="421.9" y2="555.0" stroke="#000" stroke-width="3.5"/>
<line x1="429.5" y1="520.3" x2="429.5" y2="551.5" stroke="#000" stroke-width="3.5"/>
<line x1="437.1" y1="525.5" x2="437.1" y2="553.3" stroke="#000" stroke-width="3.5"/>
<line x1="444.7" y1="523.8" x2="444.7" y2="551.5" stroke="#000" stroke-width="3.5"/>
<line x1="452.4" y1="525.5" x2="452.4" y2="553.3" stroke="#000" stroke-width="3.5"/>
<line x1="460.0" y1="522.0" x2="460.0" y2="549.8" stroke="#000" stroke-width="3.5"/>
<line x1="467.6" y1="529.0" x2="467.6" y2="553.3" stroke="#000" stroke-width="3.5"/>
<line x1="475.2" y1="530.7" x2="475.2" y2="555.0" stroke="#000" stroke-width="3.5"/>
<line x1="482.8" y1="525.5" x2="482.8" y2="549.8" stroke="#000" stroke-width="3.5"/>
<line x1="490.5" y1="523.8" x2="490.5" y2="548.0" stroke="#000" stroke-width="3.5"/>
<line x1="498.1" y1="529.0" x2="498.1" y2="553.3" stroke="#000" stroke-width="3.5"/>
<line x1="505.7" y1="530.7" x2="505.7" y2="555.0" stroke="#000" stroke-width="3.5"/>
<line x1="513.3" y1="527.2" x2="513.3" y2="551.5" stroke="#000" stroke-width="3.5"/>
<line x1="520.9" y1="530.7" x2="520.9" y2="555.0" stroke="#000" stroke-width="3.5"/>
<line x1="528.5" y1="529.0" x2="528.5" y2="553.3" stroke="#000" stroke-width="3.5"/>
<line x1="536.2" y1="527.2" x2="536.2" y2="561.9" stroke="#000" stroke-width="3.5"/>
<line x1="543.8" y1="521.2" x2="543.8" y2="573.2" stroke="#000" stroke-width="3.5"/>
<ellipse cx="170.5" cy="437.1" rx="17.3" ry="20.3" fill="#dfdfe1" stroke="#000" stroke-width="3.5"/>
<ellipse cx="178.2" cy="444.0" rx="17.3" ry="20.3" fill="#dfdfe1" stroke="#000" stroke-width="3.5"/>
<ellipse cx="185.8" cy="433.6" rx="17.3" ry="20.3" fill="#dfdfe1" stroke="#000" stroke-width="3.5"/>
<ellipse cx="193.4" cy="440.6" rx="17.3" ry="20.3" fill="#dfdfe1" stroke="#000" stroke-width="3.5"/>
<ellipse cx="201.0" cy="445.8" rx="17.3" ry="20.3" fill="#dfdfe1" stroke="#000" stroke-width="3.5"/>
<ellipse cx="208.6" cy="431.9" rx="17.3" ry="20.3" fill="#dfdfe1" stroke="#000" stroke-width="3.5"/>
<ellipse cx="216.2" cy="438.8" rx="17.3" ry="20.3" fill="#dfdfe1" stroke="#000" stroke-width="3.5"/>
<ellipse cx="223.9" cy="444.0" rx="17.3" ry="20.3" fill="#dfdfe1" stroke="#000" stroke-width="3.5"/>
<ellipse cx="231.5" cy="440.6" rx="17.3" ry="20.3" fill="#dfdfe1" stroke="#000" stroke-width="3.5"/>
<ellipse cx="239.1" cy="438.8" rx="17.3" ry="20.3" fill="#dfdfe1" stroke="#000" stroke-width="3.5"/>
<ellipse cx="246.7" cy="390.3" rx="17.3" ry="20.3" fill="#dfdfe1" stroke="#000" stroke-width="3.5"/>
<ellipse cx="254.3" cy="411.1" rx="17.3" ry="20.3" fill="#dfdfe1" stroke="#000" stroke-width="3.5"/>
<ellipse cx="261.9" cy="421.5" rx="17.3" ry="20.3" fill="#dfdfe1" stroke="#000" stroke-width="3.5"/>
<ellipse cx="269.6" cy="428.4" rx="17.3" ry="20.3" fill="#dfdfe1" stroke="#000" stroke-width="3.5"/>
<ellipse cx="277.2" cy="424.9" rx="17.3" ry="20.3" fill="#dfdfe1" stroke="#000" stroke-width="3.5"/>
<ellipse cx="284.8" cy="421.5" rx="17.3" ry="20.3" fill="#dfdfe1" stroke="#000" stroke-width="3.5"/>
<ellipse cx="292.4" cy="428.4" rx="17.3" ry="20.3" fill="#dfdfe1" stroke="#000" stroke-width="3.5"/>
<ellipse cx="300.0" cy="431.9" rx="17.3" ry="20.3" fill="#dfdfe1" stroke="#000" stroke-width="3.5"/>
<ellipse cx="307.6" cy="430.2" rx="17.3" ry="20.3" fill="#dfdfe1" stroke="#000" stroke-width="3.5"/>
<ellipse cx="315.3" cy="438.8" rx="17.3" ry="20.3" fill="#dfdfe1" stroke="#000" stroke-width="3.5"/>
<ellipse cx="322.9" cy="445.8" rx="17.3" ry="20.3" fill="#dfdfe1" stroke="#000" stroke-width="3.5"/>
<ellipse cx="330.5" cy="452.7" rx="17.3" ry="20.3" fill="#dfdfe1" stroke="#000" stroke-width="3.5"/>
<ellipse cx="338.1" cy="430.2" rx="17.3" ry="20.3" fill="#dfdfe1" stroke="#000" stroke-width="3.5"/>
<ellipse cx="345.7" cy="447.5" rx="17.3" ry="20.3" fill="#dfdfe1" stroke="#000" stroke-width="3.5"/>
<ellipse cx="353.3" cy="438.8" rx="17.3" ry="20.3" fill="#dfdfe1" stroke="#000" stroke-width="3.5"/>
<ellipse cx="361.0" cy="433.6" rx="17.3" ry="20.3" fill="#dfdfe1" stroke="#000" stroke-width="3.5"/>
<ellipse cx="368.6" cy="456.2" rx="17.3" ry="20.3" fill="#dfdfe1" stroke="#000" stroke-width="3.5"/>
<ellipse cx="376.2" cy="444.0" rx="17.3" ry="20.3" fill="#dfdfe1" stroke="#000" stroke-width="3.5"/>
<ellipse cx="383.8" cy="435.4" rx="17.3" ry="20.3" fill="#dfdfe1" stroke="#000" stroke-width="3.5"/>
<ellipse cx="391.4" cy="459.6" rx="17.3" ry="20.3" fill="#dfdfe1" stroke="#000" stroke-width="3.5"/>
<ellipse cx="399.0" cy="463.1" rx="17.3" ry="20.3" fill="#dfdfe1" stroke="#000" stroke-width="3.5"/>
<ellipse cx="406.7" cy="447.5" rx="17.3" ry="20.3" fill="#dfdfe1" stroke="#000" stroke-width="3.5"/>
<ellipse cx="414.3" cy="459.6" rx="17.3" ry="20.3" fill="#dfdfe1" stroke="#000" stroke-width="3.5"/>
<ellipse cx="421.9" cy="452.7" rx="17.3" ry="20.3" fill="#dfdfe1" stroke="#000" stroke-width="3.5"/>
<ellipse cx="429.5" cy="437.1" rx="17.3" ry="20.3" fill="#dfdfe1" stroke="#000" stroke-width="3.5"/>
<ellipse cx="437.1" cy="442.3" rx="17.3" ry="20.3" fill="#dfdfe1" stroke="#000" stroke-width="3.5"/>
<ellipse cx="444.7" cy="454.4" rx="17.3" ry="20.3" fill="#dfdfe1" stroke="#000" stroke-width="3.5"/>
<ellipse cx="452.4" cy="445.8" rx="17.3" ry="20.3" fill="#dfdfe1" stroke="#000" stroke-width="3.5"/>
<ellipse cx="460.0" cy="431.9" rx="17.3" ry="20.3" fill="#dfdfe1" stroke="#000" stroke-width="3.5"/>
<ellipse cx="467.6" cy="433.6" rx="17.3" ry="20.3" fill="#dfdfe1" stroke="#000" stroke-width="3.5"/>
<ellipse cx="475.2" cy="449.2" rx="17.3" ry="20.3" fill="#dfdfe1" stroke="#000" stroke-width="3.5"/>
<ellipse cx="482.8" cy="445.8" rx="17.3" ry="20.3" fill="#dfdfe1" stroke="#000" stroke-width="3.5"/>
<ellipse cx="490.5" cy="438.8" rx="17.3" ry="20.3" fill="#dfdfe1" stroke="#000" stroke-width="3.5"/>
<ellipse cx="498.1" cy="456.2" rx="17.3" ry="20.3" fill="#dfdfe1" stroke="#000" stroke-width="3.5"/>
<ellipse cx="505.7" cy="435.4" rx="17.3" ry="20.3" fill="#dfdfe1" stroke="#000" stroke-width="3.5"/>
<ellipse cx="513.3" cy="459.6" rx="17.3" ry="20.3" fill="#dfdfe1" stroke="#000" stroke-width="3.5"/>
<ellipse cx="520.9" cy="452.7" rx="17.3" ry="20.3" fill="#dfdfe1" stroke="#000" stroke-width="3.5"/>
<ellipse cx="528.5" cy="457.9" rx="17.3" ry="20.3" fill="#dfdfe1" stroke="#000" stroke-width="3.5"/>
<ellipse cx="536.2" cy="459.6" rx="17.3" ry="20.3" fill="#dfdfe1" stroke="#000" stroke-width="3.5"/>
<ellipse cx="543.8" cy="456.2" rx="17.3" ry="20.3" fill="#dfdfe1" stroke="#000" stroke-width="3.5"/>
<ellipse cx="170.5" cy="438.8" rx="17.3" ry="20.3" fill="#00706f" stroke="#000" stroke-width="3.5"/>
<ellipse cx="178.2" cy="431.9" rx="17.3" ry="20.3" fill="#00706f" stroke="#000" stroke-width="3.5"/>
<ellipse cx="185.8" cy="444.0" rx="17.3" ry="20.3" fill="#00706f" stroke="#000" stroke-width="3.5"/>
<ellipse cx="193.4" cy="447.5" rx="17.3" ry="20.3" fill="#00706f" stroke="#000" stroke-width="3.5"/>
<ellipse cx="201.0" cy="449.2" rx="17.3" ry="20.3" fill="#00706f" stroke="#000" stroke-width="3.5"/>
<ellipse cx="208.6" cy="428.4" rx="17.3" ry="20.3" fill="#00706f" stroke="#000" stroke-width="3.5"/>
<ellipse cx="216.2" cy="431.9" rx="17.3" ry="20.3" fill="#00706f" stroke="#000" stroke-width="3.5"/>
<ellipse cx="223.9" cy="442.3" rx="17.3" ry="20.3" fill="#00706f" stroke="#000" stroke-width="3.5"/>
<ellipse cx="231.5" cy="445.8" rx="17.3" ry="20.3" fill="#00706f" stroke="#000" stroke-width="3.5"/>
<ellipse cx="239.1" cy="437.1" rx="17.3" ry="20.3" fill="#00706f" stroke="#000" stroke-width="3.5"/>
<ellipse cx="246.7" cy="310.5" rx="17.3" ry="20.3" fill="#00706f" stroke="#000" stroke-width="3.5"/>
<ellipse cx="254.3" cy="364.3" rx="17.3" ry="20.3" fill="#00706f" stroke="#000" stroke-width="3.5"/>
<ellipse cx="261.9" cy="395.5" rx="17.3" ry="20.3" fill="#00706f" stroke="#000" stroke-width="3.5"/>
<ellipse cx="269.6" cy="428.4" rx="17.3" ry="20.3" fill="#00706f" stroke="#000" stroke-width="3.5"/>
<ellipse cx="277.2" cy="437.1" rx="17.3" ry="20.3" fill="#00706f" stroke="#000" stroke-width="3.5"/>
<ellipse cx="284.8" cy="463.1" rx="17.3" ry="20.3" fill="#00706f" stroke="#000" stroke-width="3.5"/>
<ellipse cx="292.4" cy="468.3" rx="17.3" ry="20.3" fill="#00706f" stroke="#000" stroke-width="3.5"/>
<ellipse cx="300.0" cy="473.5" rx="17.3" ry="20.3" fill="#00706f" stroke="#000" stroke-width="3.5"/>
<ellipse cx="307.6" cy="477.0" rx="17.3" ry="20.3" fill="#00706f" stroke="#000" stroke-width="3.5"/>
<ellipse cx="315.3" cy="480.4" rx="17.3" ry="20.3" fill="#00706f" stroke="#000" stroke-width="3.5"/>
<ellipse cx="322.9" cy="485.6" rx="17.3" ry="20.3" fill="#00706f" stroke="#000" stroke-width="3.5"/>
<ellipse cx="330.5" cy="489.1" rx="17.3" ry="20.3" fill="#00706f" stroke="#000" stroke-width="3.5"/>
<ellipse cx="338.1" cy="492.6" rx="17.3" ry="20.3" fill="#00706f" stroke="#000" stroke-width="3.5"/>
<ellipse cx="345.7" cy="501.2" rx="17.3" ry="20.3" fill="#00706f" stroke="#000" stroke-width="3.5"/>
<ellipse cx="353.3" cy="506.4" rx="17.3" ry="20.3" fill="#00706f" stroke="#000" stroke-width="3.5"/>
<ellipse cx="361.0" cy="511.6" rx="17.3" ry="20.3" fill="#00706f" stroke="#000" stroke-width="3.5"/>
<ellipse cx="368.6" cy="518.6" rx="17.3" ry="20.3" fill="#00706f" stroke="#000" stroke-width="3.5"/>
<ellipse cx="376.2" cy="522.0" rx="17.3" ry="20.3" fill="#00706f" stroke="#000" stroke-width="3.5"/>
<ellipse cx="383.8" cy="527.2" rx="17.3" ry="20.3" fill="#00706f" stroke="#000" stroke-width="3.5"/>
<ellipse cx="391.4" cy="530.7" rx="17.3" ry="20.3" fill="#00706f" stroke="#000" stroke-width="3.5"/>
<ellipse cx="399.0" cy="534.2" rx="17.3" ry="20.3" fill="#00706f" stroke="#000" stroke-width="3.5"/>
<ellipse cx="406.7" cy="536.8" rx="17.3" ry="20.3" fill="#00706f" stroke="#000" stroke-width="3.5"/>
<ellipse cx="414.3" cy="538.5" rx="17.3" ry="20.3" fill="#00706f" stroke="#000" stroke-width="3.5"/>
<ellipse cx="421.9" cy="539.4" rx="17.3" ry="20.3" fill="#00706f" stroke="#000" stroke-width="3.5"/>
<ellipse cx="429.5" cy="535.9" rx="17.3" ry="20.3" fill="#00706f" stroke="#000" stroke-width="3.5"/>
<ellipse cx="437.1" cy="539.4" rx="17.3" ry="20.3" fill="#00706f" stroke="#000" stroke-width="3.5"/>
<ellipse cx="444.7" cy="537.6" rx="17.3" ry="20.3" fill="#00706f" stroke="#000" stroke-width="3.5"/>
<ellipse cx="452.4" cy="539.4" rx="17.3" ry="20.3" fill="#00706f" stroke="#000" stroke-width="3.5"/>
<ellipse cx="460.0" cy="535.9" rx="17.3" ry="20.3" fill="#00706f" stroke="#000" stroke-width="3.5"/>
<ellipse cx="467.6" cy="541.1" rx="17.3" ry="20.3" fill="#00706f" stroke="#000" stroke-width="3.5"/>
<ellipse cx="475.2" cy="542.8" rx="17.3" ry="20.3" fill="#00706f" stroke="#000" stroke-width="3.5"/>
<ellipse cx="482.8" cy="537.6" rx="17.3" ry="20.3" fill="#00706f" stroke="#000" stroke-width="3.5"/>
<ellipse cx="490.5" cy="535.9" rx="17.3" ry="20.3" fill="#00706f" stroke="#000" stroke-width="3.5"/>
<ellipse cx="498.1" cy="541.1" rx="17.3" ry="20.3" fill="#00706f" stroke="#000" stroke-width="3.5"/>
<ellipse cx="505.7" cy="542.8" rx="17.3" ry="20.3" fill="#00706f" stroke="#000" stroke-width="3.5"/>
<ellipse cx="513.3" cy="539.4" rx="17.3" ry="20.3" fill="#00706f" stroke="#000" stroke-width="3.5"/>
<ellipse cx="520.9" cy="542.8" rx="17.3" ry="20.3" fill="#00706f" stroke="#000" stroke-width="3.5"/>
<ellipse cx="528.5" cy="541.1" rx="17.3" ry="20.3" fill="#00706f" stroke="#000" stroke-width="3.5"/>
<ellipse cx="536.2" cy="544.6" rx="17.3" ry="20.3" fill="#00706f" stroke="#000" stroke-width="3.5"/>
<ellipse cx="543.8" cy="547.2" rx="17.3" ry="20.3" fill="#00706f" stroke="#000" stroke-width="3.5"/>
<line x1="132.3" y1="440.8" x2="571.7" y2="440.8" stroke="#231f20" stroke-width="3.9" stroke-dasharray="27 21"/>
<path d="M215.50,373.50 L215.50,397.20 L209.70,397.20 L209.70,380.85 L203.90,380.85 L203.90,378.12 Q208.77,377.53 210.63,373.50 Z" fill="#231f20"/>
<text x="567.5" y="529.6" font-size="34" font-weight="bold" textLength="19.7" lengthAdjust="spacingAndGlyphs" fill="#d589ae">2</text>
<text x="613.1" y="48.5" font-size="63" font-weight="bold" textLength="47.4" lengthAdjust="spacingAndGlyphs" fill="#231f20">B</text>
<path d="M698.3,185.7 L698.7,185.8 L699.1,186.4 L699.6,185.5 L700.0,185.5 L700.4,185.6 L700.8,184.8 L701.2,185.3 L701.7,185.4 L702.1,185.6 L702.5,184.9 L702.9,177.9 L703.3,170.9 L703.7,164.1 L704.1,157.1 L704.5,149.8 L704.9,145.3 L705.4,140.4 L705.8,135.4 L706.2,130.4 L706.7,125.4 L707.1,120.4 L707.6,115.7 L708.0,110.0 L708.4,112.6 L708.8,115.0 L709.2,116.9 L709.6,120.0 L710.1,122.3 L710.5,125.3 L710.9,127.1 L711.3,129.6 L711.7,131.7 L712.1,133.0 L712.5,133.6 L713.0,134.2 L713.4,136.5 L713.8,137.4 L714.2,138.1 L714.6,140.2 L715.0,141.9 L715.5,144.1 L715.9,146.6 L716.3,148.6 L716.7,152.2 L717.1,152.8 L717.5,154.8 L717.9,155.2 L718.4,157.5 L718.8,158.6 L719.2,158.3 L719.6,159.9 L720.0,162.4 L720.4,162.3 L720.8,163.9 L721.2,163.6 L721.7,163.7 L722.1,165.4 L722.5,166.4 L722.9,166.1 L723.3,166.5 L723.8,167.6 L724.2,169.5 L724.6,169.8 L725.0,169.3 L725.4,169.9 L725.8,169.9 L726.3,170.1 L726.7,171.8 L727.1,171.0 L727.5,172.0 L727.9,172.1 L728.4,171.9 L728.8,173.2 L729.2,172.5 L729.6,173.7 L730.0,173.1 L730.4,173.9 L730.9,173.9 L731.3,174.3 L731.7,175.8 L732.1,176.0 L732.5,175.5 L733.0,176.9 L733.4,176.1 L733.8,176.9 L734.2,178.1 L734.6,178.2 L735.0,177.6 L735.5,179.6 L735.9,178.7 L736.3,179.1 L736.7,180.1 L737.2,172.4 L737.6,164.9 L738.0,157.3 L738.5,149.9 L738.9,141.0 L739.3,131.9 L739.7,123.0 L740.1,114.0 L740.5,104.9 L740.9,103.3 L741.3,100.0 L741.7,97.6 L742.1,95.7 L742.5,91.9 L742.9,93.1 L743.3,95.7 L743.8,96.8 L744.2,97.0 L744.6,98.2 L745.0,100.4 L745.4,103.1 L745.8,104.0 L746.2,107.7 L746.6,109.8 L747.1,111.6 L747.5,113.6 L747.9,115.3 L748.3,117.5 L748.7,121.1 L749.1,121.7 L749.5,124.5 L750.0,125.7 L750.4,128.6 L750.8,130.2 L751.2,131.6 L751.6,133.3 L752.0,136.2 L752.5,137.0 L752.9,139.3 L753.3,141.8 L753.7,143.3 L754.1,143.8 L754.5,144.2 L755.0,146.3 L755.4,146.0 L755.8,146.6 L756.2,148.1 L756.6,149.3 L757.0,149.6 L757.5,150.8 L757.9,152.1 L758.3,153.4 L758.7,153.2 L759.1,154.1 L759.6,155.6 L760.0,156.3 L760.4,156.2 L760.8,156.8 L761.2,157.1 L761.6,156.9 L762.1,157.2 L762.5,157.7 L762.9,159.8 L763.3,160.0 L763.7,161.0 L764.2,159.8 L764.6,161.4 L765.0,161.7 L765.4,162.6 L765.8,162.4 L766.3,164.2 L766.7,163.0 L767.1,164.4 L767.5,165.2 L767.9,166.1 L768.4,166.3 L768.8,166.7 L769.2,167.4 L769.6,168.2 L770.0,167.7 L770.4,168.8 L770.9,169.7 L771.3,170.1 L771.7,170.0 L772.2,162.6 L772.6,155.1 L773.0,147.5 L773.5,140.0 L773.9,133.0 L774.4,126.0 L774.8,119.0 L775.2,111.2 L775.7,110.2 L776.2,108.8 L776.7,106.5 L777.1,107.6 L777.5,108.4 L777.9,110.5 L778.3,111.6 L778.8,112.8 L779.2,114.9 L779.6,115.0 L780.0,117.6 L780.4,117.7 L780.8,120.2 L781.2,121.5 L781.6,122.6 L782.0,124.9 L782.5,126.1 L782.9,127.8 L783.3,129.9 L783.7,130.2 L784.1,131.3 L784.5,133.4 L785.0,135.6 L785.4,136.2 L785.8,137.7 L786.2,140.6 L786.6,141.7 L787.1,142.8 L787.5,145.2 L787.9,145.7 L788.3,147.9 L788.8,148.6 L789.2,150.6 L789.6,152.8 L790.0,154.5 L790.4,156.0 L790.9,156.7 L791.3,158.6 L791.7,159.7 L792.1,159.6 L792.5,160.4 L792.9,161.2 L793.4,161.5 L793.8,161.4 L794.2,162.0 L794.6,161.0 L795.0,161.1 L795.4,161.8 L795.8,161.7 L796.2,161.8 L796.6,162.3 L797.1,162.9 L797.5,162.9 L797.9,162.8 L798.3,163.9 L798.7,164.6 L799.1,164.0 L799.5,163.7 L799.9,164.1 L800.3,166.0 L800.7,164.9 L801.1,166.5 L801.5,166.6 L801.9,166.6 L802.3,167.8 L802.7,166.8 L803.1,167.4 L803.5,168.4 L803.9,168.0 L804.3,169.9 L804.7,169.2 L805.1,169.5 L805.5,169.7 L805.9,171.1 L806.3,171.2 L806.7,171.7 L807.2,163.8 L807.6,156.0 L808.0,148.1 L808.5,140.1 L808.9,131.1 L809.4,122.5 L809.8,113.6 L810.2,104.1 L810.7,101.3 L811.2,98.2 L811.7,93.6 L812.1,95.7 L812.5,97.7 L813.0,100.2 L813.4,101.7 L813.8,103.8 L814.2,105.9 L814.6,107.1 L815.0,109.7 L815.5,111.8 L815.9,112.2 L816.3,115.6 L816.7,117.1 L817.1,117.8 L817.5,120.2 L818.0,122.3 L818.4,124.6 L818.8,125.5 L819.2,127.6 L819.6,130.0 L820.0,131.6 L820.5,133.7 L820.9,134.6 L821.3,136.8 L821.7,137.8 L822.1,139.5 L822.5,140.5 L822.9,141.1 L823.4,142.0 L823.8,142.0 L824.2,144.0 L824.6,145.0 L825.0,145.9 L825.4,145.9 L825.8,147.2 L826.2,147.2 L826.6,149.1 L827.1,149.8 L827.5,149.8 L827.9,150.1 L828.3,151.6 L828.7,152.6 L829.1,153.8 L829.6,154.2 L830.0,154.2 L830.4,156.4 L830.8,155.9 L831.2,158.1 L831.6,157.8 L832.1,158.9 L832.5,160.5 L832.9,160.2 L833.3,161.0 L833.7,162.5 L834.2,163.7 L834.6,164.8 L835.0,165.3 L835.4,166.3 L835.8,166.0 L836.2,167.3 L836.7,166.3 L837.1,167.0 L837.5,168.0 L837.9,168.1 L838.3,169.4 L838.7,169.7 L839.1,170.0 L839.6,171.1 L840.0,171.1 L840.4,171.2 L840.8,171.8 L841.2,173.1 L841.6,173.7 L842.1,173.0 L842.5,174.6 L842.9,175.3 L843.3,175.0 L843.7,175.4 L844.1,175.1 L844.5,176.0 L844.9,176.2 L845.3,176.7 L845.7,175.9 L846.1,177.9 L846.5,177.4 L846.9,177.5 L847.3,178.5 L847.7,178.4 L848.1,178.6 L848.5,179.2 L848.9,178.4 L849.3,179.6 L849.7,179.6 L850.1,180.9 L850.5,181.2 L850.9,180.3 L851.3,181.0 L851.7,180.6 L852.1,181.5 L852.5,182.5 L852.9,182.9 L853.3,182.5 L853.7,182.3 L854.1,182.1 L854.5,183.0 L854.9,183.6 L855.3,182.3 L855.7,183.5 L856.1,182.2 L856.5,182.6 L856.9,182.8 L857.3,183.7 L857.7,183.1 L858.1,183.3 L858.5,183.8 L858.9,183.0 L859.4,184.2 L859.8,183.2 L860.2,184.0 L860.6,183.6 L861.0,183.6 L861.4,184.3 L861.8,184.2 L862.2,184.2 L862.6,184.3 L863.0,184.6 L863.4,184.0 L863.8,184.2 L864.2,185.1 L864.6,185.2 L865.0,185.1 L865.4,185.7 L865.8,185.3 L866.2,185.7 L866.6,184.6 L867.0,185.6 L867.4,185.7 L867.8,185.9 L868.2,184.9 L868.6,184.9 L869.0,186.0 L869.4,184.8 L869.8,186.2 L870.2,186.0 L870.6,184.7 L871.0,184.9 L871.5,185.8 L871.9,185.0 L872.3,184.7 L872.7,186.1 L873.1,185.4 L873.5,186.1 L873.9,184.9 L874.3,185.4 L874.7,186.0 L875.1,184.8 L875.5,185.1 L875.9,186.0 L876.3,186.5 L876.7,186.6 L877.1,185.1 L877.5,185.8" fill="none" stroke="#4a4a4a" stroke-width="1.2" stroke-linejoin="round"/>
<path d="M929.2,182.9 L929.6,183.3 L930.0,183.4 L930.4,182.2 L930.9,181.9 L931.3,182.7 L931.7,182.5 L932.1,183.7 L932.5,183.4 L932.9,183.2 L933.3,183.1 L933.8,183.4 L934.2,182.2 L934.6,182.9 L935.0,182.9 L935.5,174.2 L936.0,164.8 L936.4,159.9 L936.8,154.3 L937.2,149.6 L937.7,150.2 L938.1,151.7 L938.5,154.0 L939.0,153.5 L939.5,155.0 L939.9,158.2 L940.3,158.7 L940.8,159.1 L941.2,162.1 L941.6,163.0 L942.1,162.1 L942.5,163.8 L942.9,164.2 L943.3,165.6 L943.7,167.3 L944.2,167.3 L944.6,169.4 L945.0,169.0 L945.4,170.8 L945.8,173.8 L946.2,174.5 L946.6,176.1 L947.1,178.0 L947.5,179.3 L947.9,180.7 L948.3,181.5 L948.7,183.0 L949.1,183.5 L949.5,183.6 L949.9,182.9 L950.3,182.2 L950.7,182.3 L951.1,183.0 L951.5,183.0 L951.9,181.7 L952.3,182.0 L952.7,182.3 L953.1,182.6 L953.5,183.3 L953.9,182.6 L954.3,181.6 L954.7,183.4 L955.1,182.5 L955.5,182.7 L955.9,182.1 L956.3,182.5 L956.7,182.5 L957.1,183.3 L957.5,181.9 L957.9,182.8 L958.3,182.0 L958.7,183.2 L959.1,181.8 L959.5,182.3 L959.9,182.4 L960.3,183.1 L960.7,181.8 L961.1,182.7 L961.5,182.2 L961.9,182.4 L962.3,182.8 L962.7,183.9 L963.1,182.8 L963.5,183.9 L963.9,182.2 L964.3,183.8 L964.7,182.6 L965.1,182.2 L965.5,183.5 L965.9,183.8 L966.3,181.9 L966.7,182.5 L967.1,183.6 L967.5,182.6 L967.9,182.4 L968.3,182.8 L968.7,179.2 L969.2,175.9 L969.6,172.4 L970.1,168.8 L970.5,165.0 L971.0,160.4 L971.5,157.4 L972.0,154.8 L972.4,155.9 L972.8,156.5 L973.3,156.6 L973.7,158.3 L974.1,159.2 L974.5,160.5 L975.0,160.8 L975.4,163.3 L975.8,164.2 L976.2,164.0 L976.6,165.8 L977.1,168.5 L977.5,168.7 L977.9,171.6 L978.4,172.1 L978.8,174.0 L979.2,175.5 L979.6,175.1 L980.0,176.0 L980.4,176.7 L980.8,178.4 L981.2,179.2 L981.7,178.7 L982.1,181.1 L982.5,180.8 L982.9,181.2 L983.3,182.4 L983.7,183.6 L984.1,182.7 L984.5,182.8 L984.9,183.5 L985.3,183.6 L985.7,183.1 L986.1,182.4 L986.5,182.8 L986.9,183.5 L987.3,183.2 L987.7,182.8 L988.1,182.3 L988.5,182.3 L988.9,183.2 L989.3,182.8 L989.7,181.6 L990.1,183.1 L990.5,183.6 L990.9,183.4 L991.3,183.6 L991.7,183.6 L992.1,182.8 L992.5,183.4 L992.9,182.5 L993.3,181.9 L993.7,182.4 L994.1,182.4 L994.5,183.7 L994.9,183.2 L995.3,182.9 L995.7,183.1 L996.1,182.0 L996.5,182.9 L996.9,183.3 L997.3,182.6 L997.7,182.3 L998.1,182.7 L998.5,182.5 L998.9,183.3 L999.3,182.1 L999.7,182.0 L1000.1,182.5 L1000.5,183.4 L1000.9,183.5 L1001.3,183.3 L1001.7,183.9 L1002.1,182.7 L1002.5,182.8 L1002.9,176.8 L1003.4,170.6 L1003.8,164.3 L1004.2,158.7 L1004.7,157.1 L1005.3,156.1 L1005.8,155.4 L1006.2,157.5 L1006.6,156.1 L1007.0,157.6 L1007.5,158.1 L1007.9,158.6 L1008.3,159.9 L1008.7,161.9 L1009.1,165.9 L1009.5,167.5 L1010.0,170.4 L1010.4,171.8 L1010.8,174.9 L1011.2,176.4 L1011.6,178.0 L1012.0,177.8 L1012.5,179.4 L1012.9,181.4 L1013.3,182.4 L1013.7,181.1 L1014.1,181.8 L1014.5,182.3 L1014.9,181.6 L1015.3,182.2 L1015.7,182.2 L1016.1,182.9 L1016.5,182.0 L1016.9,182.3 L1017.3,181.6 L1017.7,182.5 L1018.1,181.6 L1018.5,182.0 L1018.9,181.7 L1019.4,181.6 L1019.8,181.3 L1020.2,181.5 L1020.6,182.2 L1021.0,181.6 L1021.4,181.1 L1021.8,182.8 L1022.2,181.7 L1022.6,183.2 L1023.0,182.5 L1023.4,182.0 L1023.8,183.1 L1024.2,183.2 L1024.6,181.9 L1025.0,181.5 L1025.4,182.7 L1025.8,183.1 L1026.2,182.7 L1026.6,183.1 L1027.0,182.3 L1027.4,182.7 L1027.8,182.0 L1028.2,182.3 L1028.6,182.3 L1029.0,182.3 L1029.4,182.4 L1029.8,183.3 L1030.2,181.9 L1030.6,182.0 L1031.1,182.1 L1031.5,183.7 L1031.9,182.8 L1032.3,181.8 L1032.7,183.5 L1033.1,183.6 L1033.5,183.5 L1033.9,182.5 L1034.3,183.4 L1034.7,182.5 L1035.1,182.1 L1035.5,183.7 L1035.9,183.7 L1036.3,182.3 L1036.7,183.2 L1037.1,175.1 L1037.6,167.6 L1038.0,159.8 L1038.4,153.8 L1038.8,147.7 L1039.2,142.2 L1039.6,142.4 L1040.0,143.3 L1040.4,144.5 L1040.8,145.9 L1041.2,148.3 L1041.7,148.9 L1042.1,148.9 L1042.5,151.4 L1042.9,152.2 L1043.3,153.2 L1043.7,155.0 L1044.2,157.0 L1044.6,159.0 L1045.0,160.0 L1045.4,162.0 L1045.8,163.3 L1046.3,165.3 L1046.7,166.5 L1047.1,168.0 L1047.5,169.7 L1047.9,171.7 L1048.3,172.2 L1048.8,175.1 L1049.2,175.7 L1049.6,178.0 L1050.0,179.1 L1050.4,181.2 L1050.8,182.1 L1051.2,181.6 L1051.6,181.5 L1052.0,182.0 L1052.4,182.3 L1052.8,182.5 L1053.2,181.0 L1053.6,180.8 L1054.0,180.9 L1054.4,180.9 L1054.8,180.8 L1055.2,180.8 L1055.6,181.3 L1056.0,181.0 L1056.4,182.3 L1056.8,182.1 L1057.2,182.9 L1057.6,182.9 L1058.0,182.5 L1058.4,182.9 L1058.8,180.9 L1059.2,181.4 L1059.6,182.9 L1060.0,181.9 L1060.4,181.3 L1060.8,182.6 L1061.2,181.8 L1061.6,182.1 L1062.0,181.6 L1062.4,181.5 L1062.8,181.2 L1063.2,182.3 L1063.6,183.1 L1064.0,183.2 L1064.5,182.7 L1064.9,183.1 L1065.3,181.8 L1065.7,181.7 L1066.1,183.1 L1066.5,182.4 L1066.9,182.6 L1067.3,181.1 L1067.7,181.6 L1068.1,182.2 L1068.5,182.7 L1068.9,183.0 L1069.3,182.8 L1069.7,181.9 L1070.1,182.0 L1070.5,183.1 L1070.9,183.4 L1071.3,182.3 L1071.7,181.7 L1072.1,182.6 L1072.5,182.4 L1072.9,182.1 L1073.3,181.8 L1073.7,182.1 L1074.1,182.6 L1074.5,181.6 L1074.9,182.5 L1075.3,183.4 L1075.7,183.0 L1076.1,181.9 L1076.5,182.3 L1076.9,181.6 L1077.3,183.0 L1077.7,182.8 L1078.1,181.8 L1078.5,182.6 L1078.9,182.8 L1079.3,182.7 L1079.7,182.3 L1080.1,182.2 L1080.5,182.3 L1080.9,183.7 L1081.3,182.2 L1081.7,182.6 L1082.1,182.6 L1082.5,181.9 L1082.9,182.4 L1083.3,182.0 L1083.7,182.3 L1084.1,182.4 L1084.5,182.4 L1084.9,183.7 L1085.3,182.3 L1085.7,182.4 L1086.1,183.1 L1086.5,182.5 L1086.9,182.8 L1087.3,183.1 L1087.7,181.9 L1088.1,183.2 L1088.5,182.0 L1088.9,182.3 L1089.3,183.5 L1089.7,183.9 L1090.1,183.3 L1090.5,182.2 L1091.0,182.8 L1091.4,182.4 L1091.8,183.7 L1092.2,182.4 L1092.6,182.3 L1093.0,183.3 L1093.4,183.3 L1093.8,183.2 L1094.2,183.0 L1094.6,184.0 L1095.0,182.9 L1095.4,184.0 L1095.8,182.8 L1096.2,183.0 L1096.6,182.8 L1097.0,183.6 L1097.4,183.6 L1097.8,182.5 L1098.2,183.2 L1098.6,183.6 L1099.0,183.1 L1099.4,183.5 L1099.8,183.4 L1100.2,183.7 L1100.6,182.9 L1101.0,182.8 L1101.4,182.2 L1101.8,184.1 L1102.2,183.9 L1102.6,183.0 L1103.0,184.3 L1103.4,184.2 L1103.8,182.5 L1104.2,183.3" fill="none" stroke="#1a1a1a" stroke-width="1.3" stroke-linejoin="round"/>
<path d="M1065.1,44.6 L1065.1,109.8 L1099.8,109.8" fill="none" stroke="#000" stroke-width="3.9"/>
<text x="1050.0" y="107.1" font-size="28" transform="rotate(-90 1050.0 107.1)" textLength="60.2" lengthAdjust="spacingAndGlyphs" fill="#231f20">2 mV</text>
<text x="1056.9" y="140.5" font-size="27.5" textLength="49.3" lengthAdjust="spacingAndGlyphs" fill="#231f20">0. s</text>
<path d="M1085.17,140.50 L1085.17,123.89 L1081.12,126.94 L1081.12,124.66 L1085.36,121.58 L1087.47,121.58 L1087.47,140.50 Z" fill="#231f20"/>
<circle cx="698.25" cy="236.25" r="20.25" fill="#577d8c" stroke="#000" stroke-width="2"/>
<circle cx="698.25" cy="236.25" r="13.75" fill="#fff"/>
<text x="724.7" y="249.5" font-size="30" font-weight="bold" textLength="88.5" lengthAdjust="spacingAndGlyphs" fill="#231f20">TCB-2</text>
<circle cx="918.5" cy="236.25" r="19.5" fill="#577d8c" stroke="#000" stroke-width="3.5"/>
<text x="944.7" y="249.5" font-size="30" font-weight="bold" textLength="166.5" lengthAdjust="spacingAndGlyphs" fill="#231f20">TCB-2+TBS</text>
<line x1="784.3" y1="289.1" x2="784.3" y2="550.0" stroke="#000" stroke-width="4.4"/>
<line x1="773.4" y1="291.4" x2="786.5" y2="291.4" stroke="#000" stroke-width="4.6"/>
<line x1="773.4" y1="377.0" x2="786.5" y2="377.0" stroke="#000" stroke-width="4.6"/>
<line x1="773.4" y1="463.9" x2="786.5" y2="463.9" stroke="#000" stroke-width="4.6"/>
<line x1="773.4" y1="547.7" x2="786.5" y2="547.7" stroke="#000" stroke-width="4.6"/>
<line x1="814.2" y1="587.0" x2="1102.3" y2="587.0" stroke="#000" stroke-width="4.4"/>
<line x1="816.5" y1="584.8" x2="816.5" y2="597.7" stroke="#000" stroke-width="4.6"/>
<line x1="911.5" y1="584.8" x2="911.5" y2="597.7" stroke="#000" stroke-width="4.6"/>
<line x1="1004.8" y1="584.8" x2="1004.8" y2="597.7" stroke="#000" stroke-width="4.6"/>
<line x1="1100.0" y1="584.8" x2="1100.0" y2="597.7" stroke="#000" stroke-width="4.6"/>
<text x="728.8" y="303.4" font-size="30.5" textLength="42.4" lengthAdjust="spacingAndGlyphs" fill="#231f20"> .2</text>
<path d="M736.50,303.39 L736.50,284.97 L731.77,288.35 L731.77,285.82 L736.73,282.41 L739.20,282.41 L739.20,303.39 Z" fill="#231f20"/>
<text x="728.5" y="389.0" font-size="30.5" textLength="42.4" lengthAdjust="spacingAndGlyphs" fill="#231f20"> .0</text>
<path d="M736.16,388.99 L736.16,370.57 L731.43,373.95 L731.43,371.42 L736.39,368.01 L738.86,368.01 L738.86,388.99 Z" fill="#231f20"/>
<text x="728.6" y="475.9" font-size="30.5" textLength="42.4" lengthAdjust="spacingAndGlyphs" fill="#231f20">0.8</text>
<text x="728.6" y="559.7" font-size="30.5" textLength="42.4" lengthAdjust="spacingAndGlyphs" fill="#231f20">0.6</text>
<text x="705.0" y="550.3" font-size="31.8" transform="rotate(-90 705.0 550.3)" textLength="246.9" lengthAdjust="spacingAndGlyphs" fill="#231f20">Paired-Pulse Ratio</text>
<text x="810.5" y="629.7" font-size="30" textLength="24.2" lengthAdjust="spacingAndGlyphs" fill="#231f20"> </text>
<path d="M821.46,629.70 L821.46,611.58 L814.70,614.91 L814.70,612.41 L821.77,609.06 L825.30,609.06 L825.30,629.70 Z" fill="#231f20"/>
<text x="903.7" y="625.7" font-size="30" textLength="17.9" lengthAdjust="spacingAndGlyphs" fill="#231f20">2</text>
<text x="999.4" y="626.7" font-size="30" textLength="16.7" lengthAdjust="spacingAndGlyphs" fill="#231f20">3</text>
<text x="1092.6" y="627.0" font-size="30" textLength="17.7" lengthAdjust="spacingAndGlyphs" fill="#231f20">4</text>
<text x="917.0" y="655.0" font-size="30" textLength="90.8" lengthAdjust="spacingAndGlyphs" fill="#231f20">Pulses</text>
<line x1="847.5" y1="370.4" x2="878.8" y2="360.8" stroke="#231f20" stroke-width="4.3"/>
<line x1="843.3" y1="385.0" x2="880.8" y2="399.6" stroke="#231f20" stroke-width="4.3"/>
<line x1="937.6" y1="380.7" x2="978.3" y2="419.7" stroke="#231f20" stroke-width="4.3"/>
<line x1="937.2" y1="407.0" x2="978.3" y2="402.3" stroke="#231f20" stroke-width="4.3"/>
<line x1="1035.8" y1="456.0" x2="1068.9" y2="468.6" stroke="#231f20" stroke-width="4.3"/>
<line x1="1026.0" y1="426.0" x2="1078.0" y2="494.4" stroke="#231f20" stroke-width="4.3"/>
<line x1="911.2" y1="308.0" x2="911.2" y2="355.8" stroke="#231f20" stroke-width="4.3"/>
<line x1="911.2" y1="355.8" x2="911.2" y2="465.0" stroke="#231f20" stroke-width="4.3"/>
<line x1="1005.4" y1="354.7" x2="1005.4" y2="445.7" stroke="#231f20" stroke-width="4.3"/>
<line x1="1005.4" y1="399.0" x2="1005.4" y2="496.6" stroke="#231f20" stroke-width="4.3"/>
<line x1="1100.3" y1="418.6" x2="1100.3" y2="523.7" stroke="#231f20" stroke-width="4.3"/>
<line x1="1100.3" y1="479.3" x2="1100.3" y2="571.4" stroke="#231f20" stroke-width="4.3"/>
<circle cx="911.2" cy="355.75" r="23.1" fill="#577d8c" stroke="#000" stroke-width="2.6"/>
<circle cx="911.2" cy="355.75" r="16" fill="#fff"/>
<circle cx="1005.4" cy="445.7" r="23.1" fill="#577d8c" stroke="#000" stroke-width="2.6"/>
<circle cx="1005.4" cy="445.7" r="16" fill="#fff"/>
<circle cx="1100.3" cy="479.3" r="23.1" fill="#577d8c" stroke="#000" stroke-width="2.6"/>
<circle cx="1100.3" cy="479.3" r="16" fill="#fff"/>
<circle cx="816" cy="377.5" r="22.4" fill="#577d8c" stroke="#000" stroke-width="4"/>
<circle cx="911.2" cy="408.8" r="22.4" fill="#577d8c" stroke="#000" stroke-width="4"/>
<circle cx="1005.4" cy="399" r="22.4" fill="#577d8c" stroke="#000" stroke-width="4"/>
<circle cx="1100.3" cy="523.7" r="22.4" fill="#577d8c" stroke="#000" stroke-width="4"/>
<text x="1.2" y="747.3" font-size="68" font-weight="bold" textLength="45.6" lengthAdjust="spacingAndGlyphs" fill="#231f20">C</text>
<path d="M166.5,820.7 L166.9,821.2 L167.3,821.2 L167.8,821.1 L168.2,820.9 L168.6,821.5 L169.0,821.5 L169.5,821.3 L169.9,821.3 L170.3,821.1 L170.7,820.9 L171.2,821.3 L171.6,821.5 L172.0,821.4 L172.5,795.8 L173.0,769.9 L173.5,757.4 L174.0,744.5 L174.5,743.2 L175.0,740.7 L175.4,741.7 L175.8,742.2 L176.2,742.4 L176.7,743.5 L177.1,744.5 L177.5,744.9 L177.9,746.5 L178.3,746.7 L178.8,747.3 L179.2,748.7 L179.6,748.8 L180.0,750.4 L180.4,751.2 L180.8,752.6 L181.2,753.6 L181.7,755.0 L182.1,755.9 L182.5,757.0 L182.9,759.1 L183.3,759.7 L183.8,761.5 L184.2,762.2 L184.6,764.2 L185.0,765.4 L185.4,766.6 L185.8,767.9 L186.2,769.1 L186.7,770.6 L187.1,771.3 L187.5,773.0 L187.9,774.7 L188.3,775.4 L188.8,777.4 L189.2,778.7 L189.6,779.6 L190.0,780.9 L190.4,781.7 L190.8,782.4 L191.2,783.7 L191.7,783.9 L192.1,784.3 L192.5,785.1 L192.9,786.5 L193.3,787.5 L193.8,787.7 L194.2,788.5 L194.6,789.3 L195.0,790.2 L195.4,790.3 L195.8,791.3 L196.2,791.8 L196.7,792.5 L197.1,792.6 L197.5,793.2 L197.9,793.9 L198.3,795.1 L198.8,795.1 L199.2,795.9 L199.6,796.2 L200.0,796.6 L200.4,797.1 L200.8,798.3 L201.2,798.8 L201.7,798.9 L202.1,799.7 L202.5,800.2 L202.9,800.9 L203.3,801.5 L203.8,801.4 L204.2,802.5 L204.6,803.0 L205.0,803.1 L205.4,803.8 L205.8,803.8 L206.2,804.1 L206.7,804.4 L207.1,805.5 L207.5,805.2 L207.9,805.5 L208.3,806.6 L208.8,807.0 L209.2,807.1 L209.6,807.9 L210.0,807.6 L210.4,808.1 L210.8,808.5 L211.2,808.9 L211.7,809.0 L212.1,809.2 L212.5,809.8 L212.9,810.7 L213.3,811.2 L213.8,811.2 L214.2,811.3 L214.6,811.4 L215.0,812.5 L215.4,812.3 L215.8,812.7 L216.2,812.3 L216.7,812.7 L217.1,813.6 L217.5,813.8 L217.9,814.1 L218.3,814.1 L218.8,814.2 L219.2,814.6 L219.6,815.1 L220.0,814.8 L220.4,815.3 L220.8,815.3 L221.2,816.0 L221.7,815.5 L222.1,816.4 L222.5,817.0 L222.9,816.3 L223.3,817.1 L223.8,817.4 L224.2,817.9 L224.6,817.8 L225.0,817.8 L225.4,818.1 L225.8,818.8 L226.2,818.9 L226.7,818.3 L227.1,818.4 L227.5,818.6 L227.9,818.7 L228.3,819.3 L228.8,819.1 L229.2,820.0 L229.6,820.0 L230.0,819.6 L230.4,820.1 L230.8,820.0 L231.2,820.2 L231.7,820.1 L232.1,820.1 L232.5,820.2 L232.9,820.5 L233.3,820.9 L233.8,820.8 L234.2,820.4 L234.6,821.1 L235.0,821.4 L235.4,821.3 L235.8,821.3 L236.2,820.5 L236.6,821.0 L237.0,820.6 L237.4,821.3 L237.8,820.7 L238.2,821.3 L238.6,820.8 L239.0,821.2 L239.4,820.9 L239.8,820.6 L240.2,821.0 L240.6,820.9 L241.0,821.5 L241.4,820.9 L241.8,821.1 L242.2,821.1 L242.6,821.5 L243.0,820.7 L243.4,821.2 L243.8,821.1 L244.2,821.3 L244.6,821.6 L245.0,820.9 L245.4,821.3 L245.8,821.2 L246.2,821.2 L246.6,820.7 L247.0,821.5 L247.4,821.6 L247.8,821.0 L248.2,821.0 L248.6,821.7 L249.0,820.8 L249.4,820.8 L249.8,820.8 L250.2,821.5 L250.6,821.5 L251.0,821.1 L251.4,821.3 L251.8,820.7 L252.2,821.4 L252.6,821.2 L253.0,821.2 L253.4,821.1 L253.8,821.1 L254.2,821.0 L254.6,820.8 L255.0,821.2 L255.4,821.0 L255.8,821.5 L256.2,821.6 L256.6,821.5 L257.0,821.2 L257.4,821.0 L257.8,821.2 L258.2,821.3 L258.6,821.4 L259.0,821.8 L259.4,820.9 L259.8,821.3 L260.2,821.3 L260.6,821.5 L261.0,821.7 L261.4,821.6 L261.8,821.5 L262.2,821.6 L262.6,821.5 L263.0,821.7 L263.4,821.6 L263.8,821.5 L264.2,821.1 L264.6,821.8 L265.0,821.3 L265.4,821.5 L265.8,821.7 L266.2,821.9 L266.6,821.9 L267.0,820.9 L267.4,821.2 L267.8,821.2 L268.2,821.3 L268.6,821.1 L269.0,821.5 L269.4,821.0 L269.8,821.2 L270.2,821.9 L270.6,821.7 L271.0,821.4 L271.4,821.1 L271.8,821.9 L272.2,821.7 L272.6,821.2 L273.0,821.3 L273.4,821.6 L273.8,821.7 L274.2,821.3 L274.6,821.9 L275.0,821.5" fill="none" stroke="#d589ae" stroke-width="1.2" stroke-linejoin="round"/>
<path d="M166.5,824.2 L166.9,823.0 L167.3,822.8 L167.8,824.4 L168.2,823.1 L168.6,823.1 L169.0,824.0 L169.5,823.5 L169.9,824.4 L170.3,823.4 L170.7,824.6 L171.2,823.6 L171.6,824.1 L172.0,824.1 L172.5,794.6 L173.0,765.1 L173.5,756.7 L174.0,748.2 L174.5,740.6 L175.0,738.6 L175.5,736.7 L175.9,736.7 L176.4,738.0 L176.8,737.8 L177.2,738.6 L177.6,738.5 L178.1,739.0 L178.5,738.6 L179.0,739.7 L179.5,740.3 L180.0,740.6 L180.4,742.8 L180.8,742.9 L181.2,744.7 L181.7,746.1 L182.1,746.7 L182.5,746.9 L182.9,749.1 L183.3,749.9 L183.8,750.2 L184.2,751.1 L184.6,753.0 L185.0,753.3 L185.4,755.8 L185.8,756.2 L186.2,757.3 L186.7,758.2 L187.1,759.7 L187.5,761.2 L187.9,761.3 L188.3,762.5 L188.8,763.9 L189.2,764.5 L189.6,766.1 L190.0,767.1 L190.4,767.7 L190.8,768.9 L191.2,769.5 L191.7,769.7 L192.1,772.0 L192.5,771.8 L192.9,772.7 L193.3,773.5 L193.8,775.2 L194.2,776.1 L194.6,776.2 L195.0,776.8 L195.4,777.0 L195.8,779.0 L196.2,778.5 L196.7,779.7 L197.1,780.1 L197.5,780.7 L197.9,781.4 L198.3,781.8 L198.8,782.3 L199.2,783.7 L199.6,784.8 L200.0,785.2 L200.4,785.0 L200.8,786.3 L201.2,785.8 L201.7,786.9 L202.1,788.0 L202.5,788.7 L202.9,788.4 L203.3,789.6 L203.8,789.5 L204.2,790.0 L204.6,790.6 L205.0,791.8 L205.4,792.1 L205.8,792.3 L206.2,793.4 L206.7,793.9 L207.1,794.1 L207.5,795.5 L207.9,796.2 L208.3,796.5 L208.8,797.7 L209.2,796.9 L209.6,798.3 L210.0,799.2 L210.4,799.2 L210.8,799.5 L211.2,800.8 L211.7,800.9 L212.1,801.1 L212.5,801.3 L212.9,803.2 L213.3,802.8 L213.8,802.9 L214.2,803.5 L214.6,804.1 L215.0,805.6 L215.4,804.8 L215.8,805.3 L216.2,805.4 L216.7,806.3 L217.1,806.2 L217.5,806.8 L217.9,807.7 L218.3,808.3 L218.8,808.5 L219.2,807.6 L219.6,808.5 L220.0,809.6 L220.4,808.6 L220.8,809.2 L221.2,810.0 L221.7,810.1 L222.1,811.1 L222.5,811.3 L222.9,811.3 L223.3,811.3 L223.8,811.6 L224.2,812.0 L224.6,812.0 L225.0,813.3 L225.4,812.7 L225.8,814.0 L226.2,813.9 L226.7,813.1 L227.1,814.0 L227.5,814.4 L227.9,813.7 L228.3,814.6 L228.8,814.1 L229.2,815.5 L229.6,814.5 L230.0,815.7 L230.4,816.5 L230.8,816.5 L231.2,815.7 L231.7,816.4 L232.1,816.0 L232.5,816.5 L232.9,817.5 L233.3,817.7 L233.8,816.6 L234.2,817.4 L234.6,818.0 L235.0,817.5 L235.4,818.7 L235.8,819.0 L236.2,818.7 L236.7,818.6 L237.1,819.6 L237.5,819.3 L237.9,819.0 L238.3,819.3 L238.8,819.3 L239.2,820.6 L239.6,820.3 L240.0,820.8 L240.4,821.1 L240.8,821.5 L241.2,820.4 L241.7,820.8 L242.1,821.7 L242.5,821.7 L242.9,821.2 L243.3,821.7 L243.8,821.1 L244.2,821.2 L244.6,821.2 L245.0,821.8 L245.4,821.7 L245.8,822.3 L246.2,823.1 L246.7,821.9 L247.1,822.7 L247.5,823.3 L247.9,823.0 L248.3,823.0 L248.8,823.6 L249.2,822.5 L249.6,824.1 L250.0,823.8 L250.4,824.0 L250.8,824.1 L251.2,822.9 L251.6,822.9 L252.0,823.1 L252.4,823.6 L252.8,824.3 L253.2,824.3 L253.6,823.5 L254.0,823.9 L254.4,824.1 L254.8,823.4 L255.2,824.5 L255.6,824.4 L256.0,824.1 L256.5,824.4 L256.9,824.3 L257.3,824.0 L257.7,823.5 L258.1,823.5 L258.5,823.4 L258.9,823.1 L259.3,824.6 L259.7,823.6 L260.1,823.1 L260.5,823.6 L260.9,823.3 L261.3,823.9 L261.7,823.7 L262.1,823.5 L262.5,824.0 L262.9,823.9 L263.3,823.8 L263.7,824.5 L264.1,823.8 L264.5,824.1 L264.9,824.7 L265.3,824.8 L265.7,823.9 L266.1,823.4 L266.5,824.9 L266.9,824.2 L267.3,823.7 L267.7,823.6 L268.1,823.8 L268.5,823.9 L269.0,823.7 L269.4,823.6 L269.8,825.1 L270.2,824.8 L270.6,823.7 L271.0,824.3 L271.4,824.8 L271.8,824.4 L272.2,823.7 L272.6,824.1 L273.0,824.2 L273.4,825.1 L273.8,824.6 L274.2,824.4 L274.6,824.7 L275.0,824.5" fill="none" stroke="#111" stroke-width="1.6" stroke-linejoin="round"/>
<path d="M336.9,824.6 L337.3,824.7 L337.7,824.6 L338.2,823.9 L338.6,824.4 L339.0,824.3 L339.4,824.4 L339.8,824.0 L340.2,824.1 L340.7,824.4 L341.1,824.2 L341.5,824.5 L342.0,802.2 L342.5,779.9 L343.1,755.0 L343.7,730.0 L344.1,724.0 L344.5,718.1 L344.9,719.6 L345.3,721.2 L345.8,723.8 L346.2,725.5 L346.6,727.4 L347.0,729.3 L347.5,731.5 L347.9,732.8 L348.3,735.1 L348.7,736.3 L349.1,738.2 L349.6,740.0 L350.0,741.3 L350.4,742.7 L350.8,744.8 L351.2,746.7 L351.6,748.3 L352.1,749.8 L352.5,751.7 L352.9,752.9 L353.3,754.4 L353.7,756.0 L354.2,758.0 L354.6,758.9 L355.0,760.3 L355.4,761.8 L355.8,763.2 L356.2,765.0 L356.7,766.8 L357.1,768.5 L357.5,769.5 L357.9,770.6 L358.3,771.5 L358.8,772.5 L359.2,774.0 L359.6,774.7 L360.0,775.5 L360.4,776.3 L360.8,778.0 L361.3,778.9 L361.7,780.0 L362.1,780.4 L362.5,781.8 L362.9,783.3 L363.4,784.0 L363.8,785.5 L364.2,785.8 L364.6,787.7 L365.0,787.8 L365.4,789.3 L365.9,790.0 L366.3,791.8 L366.7,792.8 L367.1,793.6 L367.5,793.9 L367.9,794.5 L368.4,794.6 L368.8,795.6 L369.2,795.8 L369.6,795.9 L370.0,797.1 L370.4,797.0 L370.8,797.3 L371.2,797.7 L371.7,799.0 L372.1,799.6 L372.5,801.3 L372.9,802.2 L373.3,802.4 L373.7,803.2 L374.1,804.6 L374.6,805.1 L375.0,806.4 L375.4,807.6 L375.8,808.0 L376.2,808.5 L376.6,809.4 L377.1,809.4 L377.5,809.7 L377.9,810.7 L378.3,811.0 L378.7,811.5 L379.1,811.7 L379.6,811.8 L380.0,812.5 L380.4,813.1 L380.8,813.1 L381.2,813.0 L381.7,813.3 L382.1,813.7 L382.5,814.3 L382.9,814.3 L383.3,814.5 L383.7,815.1 L384.2,814.6 L384.6,815.4 L385.0,815.3 L385.4,815.8 L385.8,816.3 L386.3,816.0 L386.7,817.0 L387.1,816.3 L387.5,817.1 L387.9,817.3 L388.3,817.2 L388.8,817.8 L389.2,818.0 L389.6,818.2 L390.0,818.7 L390.4,818.3 L390.9,818.9 L391.3,819.5 L391.7,819.1 L392.1,820.1 L392.5,819.7 L392.9,820.4 L393.4,820.2 L393.8,820.7 L394.2,820.9 L394.6,820.8 L395.0,821.7 L395.4,821.7 L395.9,822.2 L396.3,822.3 L396.7,822.6 L397.1,822.8 L397.5,822.8 L397.9,823.6 L398.3,823.1 L398.8,824.1 L399.2,824.1 L399.6,823.8 L400.0,824.0 L400.4,823.9 L400.8,823.9 L401.2,823.6 L401.6,823.6 L402.0,823.6 L402.4,823.6 L402.8,824.3 L403.2,823.7 L403.6,823.7 L404.0,823.7 L404.4,824.1 L404.8,823.8 L405.2,823.9 L405.6,823.6 L406.0,823.6 L406.4,823.4 L406.8,823.6 L407.2,823.6 L407.6,824.2 L408.0,823.9 L408.4,823.5 L408.8,823.9 L409.2,823.5 L409.6,824.0 L410.0,823.9 L410.4,824.3 L410.8,823.7 L411.2,824.3 L411.6,823.7 L412.0,824.4 L412.4,824.1 L412.8,823.5 L413.2,824.3 L413.6,823.7 L414.0,823.8 L414.4,823.6 L414.8,824.3 L415.2,823.6 L415.6,824.2 L416.0,823.9 L416.4,824.2 L416.8,823.8 L417.2,823.6 L417.6,824.4 L418.0,824.2 L418.4,823.7 L418.8,824.5 L419.2,824.5 L419.6,823.7 L420.0,823.6 L420.4,824.2 L420.8,823.7 L421.2,824.3 L421.6,824.0 L422.0,824.3 L422.4,824.2 L422.8,824.4 L423.2,824.4 L423.6,824.2 L424.0,824.2 L424.4,823.9 L424.8,823.8 L425.2,823.7 L425.6,824.5 L426.0,823.8 L426.4,824.1 L426.8,824.0 L427.2,824.3 L427.6,824.2 L428.0,824.5 L428.4,824.1 L428.8,824.0 L429.2,824.3 L429.6,824.4 L430.0,824.2" fill="none" stroke="#d589ae" stroke-width="1.2" stroke-linejoin="round"/>
<path d="M336.9,820.8 L337.3,821.1 L337.7,820.1 L338.2,821.4 L338.6,820.2 L339.0,821.0 L339.4,820.1 L339.8,821.2 L340.2,820.3 L340.7,821.2 L341.1,821.3 L341.5,821.1 L342.0,800.5 L342.5,780.1 L342.9,761.8 L343.4,743.2 L343.8,725.0 L344.2,719.5 L344.7,714.1 L345.1,715.0 L345.5,716.1 L345.9,718.5 L346.3,718.4 L346.7,720.8 L347.1,722.3 L347.5,722.5 L347.9,724.1 L348.3,725.4 L348.7,728.0 L349.1,729.9 L349.5,733.0 L349.9,735.3 L350.3,736.5 L350.7,739.7 L351.1,740.6 L351.6,742.6 L352.0,745.5 L352.5,747.7 L352.9,749.7 L353.4,752.0 L353.8,753.8 L354.2,754.0 L354.6,756.0 L355.0,757.5 L355.4,757.4 L355.9,759.3 L356.3,760.0 L356.7,761.2 L357.1,762.9 L357.5,764.5 L357.9,766.2 L358.3,766.1 L358.8,767.9 L359.2,770.0 L359.6,770.9 L360.0,771.7 L360.4,772.5 L360.8,774.4 L361.3,775.0 L361.7,776.9 L362.1,778.1 L362.5,778.6 L362.9,780.0 L363.4,780.3 L363.8,781.2 L364.2,782.6 L364.6,782.5 L365.0,783.3 L365.4,784.7 L365.9,785.3 L366.3,786.9 L366.7,786.7 L367.1,787.4 L367.5,787.4 L367.9,788.5 L368.4,788.8 L368.8,789.5 L369.2,790.5 L369.6,789.9 L370.0,791.9 L370.4,791.9 L370.8,792.6 L371.2,792.7 L371.7,793.2 L372.1,793.5 L372.5,793.9 L372.9,794.2 L373.3,794.8 L373.7,795.3 L374.1,795.8 L374.6,797.3 L375.0,797.6 L375.4,797.8 L375.8,797.3 L376.2,798.4 L376.6,799.5 L377.1,800.4 L377.5,800.6 L377.9,801.6 L378.3,802.7 L378.7,802.4 L379.1,803.2 L379.6,804.5 L380.0,804.4 L380.4,805.8 L380.8,805.6 L381.2,805.3 L381.7,806.3 L382.1,806.1 L382.5,807.5 L382.9,808.0 L383.3,807.8 L383.7,808.7 L384.2,808.0 L384.6,808.7 L385.0,808.6 L385.4,808.7 L385.8,810.3 L386.3,809.4 L386.7,811.1 L387.1,810.8 L387.5,811.4 L387.9,810.7 L388.3,812.4 L388.8,812.6 L389.2,811.8 L389.6,812.2 L390.0,812.7 L390.4,813.8 L390.9,813.6 L391.3,815.2 L391.7,815.2 L392.1,816.1 L392.5,815.9 L392.9,817.0 L393.4,817.2 L393.8,818.0 L394.2,818.1 L394.6,819.2 L395.0,819.0 L395.4,819.2 L395.9,818.5 L396.3,818.4 L396.7,818.4 L397.1,818.5 L397.5,820.0 L397.9,819.0 L398.3,820.1 L398.8,819.2 L399.2,819.8 L399.6,819.2 L400.0,819.3 L400.4,820.0 L400.8,819.8 L401.2,820.4 L401.6,819.2 L402.0,819.3 L402.4,819.0 L402.8,819.2 L403.2,820.4 L403.6,819.8 L404.0,819.6 L404.4,819.4 L404.8,820.1 L405.2,820.0 L405.6,819.2 L406.0,819.0 L406.4,819.2 L406.8,820.2 L407.2,820.1 L407.6,819.3 L408.0,819.3 L408.4,819.4 L408.8,820.0 L409.2,820.2 L409.6,819.4 L410.0,819.5 L410.4,819.4 L410.8,820.5 L411.2,819.9 L411.6,820.5 L412.0,819.4 L412.4,820.0 L412.8,819.9 L413.2,820.5 L413.6,819.6 L414.0,819.4 L414.4,820.4 L414.8,820.6 L415.2,819.9 L415.6,819.6 L416.0,819.2 L416.4,819.8 L416.8,820.6 L417.2,819.7 L417.6,819.8 L418.0,820.0 L418.4,819.5 L418.8,819.3 L419.2,820.0 L419.6,820.7 L420.0,820.5 L420.4,819.6 L420.8,820.4 L421.2,820.5 L421.6,820.1 L422.0,819.7 L422.4,819.5 L422.8,820.3 L423.2,820.3 L423.6,819.5 L424.0,819.4 L424.4,819.4 L424.8,820.5 L425.2,820.6 L425.6,820.1 L426.0,820.2 L426.4,820.4 L426.8,819.5 L427.2,820.1 L427.6,820.0 L428.0,820.7 L428.4,819.5 L428.8,820.6 L429.2,819.5 L429.6,820.3 L430.0,820.1" fill="none" stroke="#111" stroke-width="1.6" stroke-linejoin="round"/>
<path d="M524.05,743.75 L524.05,801.85 L551.6,801.85" fill="none" stroke="#000" stroke-width="2.95"/>
<text x="514.8" y="798.7" font-size="28" transform="rotate(-90 514.8 798.7)" textLength="60.1" lengthAdjust="spacingAndGlyphs" fill="#231f20">2 mV</text>
<text x="519.7" y="830.5" font-size="27" textLength="50.1" lengthAdjust="spacingAndGlyphs" fill="#231f20">0. s</text>
<path d="M548.43,830.50 L548.43,814.19 L544.32,817.18 L544.32,814.94 L548.63,811.92 L550.77,811.92 L550.77,830.50 Z" fill="#231f20"/>
<rect x="559.20" y="755.96" width="7.62" height="3.74" fill="#000"/>
<path d="M579.80,743.75 L579.80,765.75 L574.34,765.75 L574.34,750.57 L568.88,750.57 L568.88,748.04 Q573.47,747.49 575.21,743.75 Z" fill="#000"/>
<text x="558.1" y="794.2" font-size="31" font-weight="bold" textLength="26.1" lengthAdjust="spacingAndGlyphs" fill="#d589ae">-2</text>
<ellipse cx="162.2" cy="849.0" rx="14.6" ry="16.6" fill="#dfdfe1" stroke="#000" stroke-width="3.8"/>
<text x="185.0" y="865.0" font-size="30" font-weight="bold" textLength="108.4" lengthAdjust="spacingAndGlyphs" fill="#231f20">Control</text>
<ellipse cx="331.5" cy="848.7" rx="14.6" ry="16.6" fill="#931633" stroke="#000" stroke-width="3.8"/>
<text x="358.8" y="866.2" font-size="30" font-weight="bold" textLength="148.2" lengthAdjust="spacingAndGlyphs" fill="#231f20">8OH-DPAT</text>
<line x1="127.8" y1="864.3" x2="127.8" y2="1302.9" stroke="#000" stroke-width="4.2"/>
<line x1="114.5" y1="866.5" x2="129.9" y2="866.5" stroke="#000" stroke-width="4.4"/>
<line x1="114.5" y1="941.3" x2="129.9" y2="941.3" stroke="#000" stroke-width="4.4"/>
<line x1="114.5" y1="1043.8" x2="129.9" y2="1043.8" stroke="#000" stroke-width="4.4"/>
<line x1="114.5" y1="1129.6" x2="129.9" y2="1129.6" stroke="#000" stroke-width="4.4"/>
<line x1="114.5" y1="1216.9" x2="129.9" y2="1216.9" stroke="#000" stroke-width="4.4"/>
<line x1="114.5" y1="1300.7" x2="129.9" y2="1300.7" stroke="#000" stroke-width="4.4"/>
<line x1="165.2" y1="1300.4" x2="551.0" y2="1300.4" stroke="#000" stroke-width="4.2"/>
<line x1="167.4" y1="1298.3" x2="167.4" y2="1313.3" stroke="#000" stroke-width="4.4"/>
<line x1="243.7" y1="1298.3" x2="243.7" y2="1313.3" stroke="#000" stroke-width="4.4"/>
<line x1="320.0" y1="1298.3" x2="320.0" y2="1313.3" stroke="#000" stroke-width="4.4"/>
<line x1="396.3" y1="1298.3" x2="396.3" y2="1313.3" stroke="#000" stroke-width="4.4"/>
<line x1="472.5" y1="1298.3" x2="472.5" y2="1313.3" stroke="#000" stroke-width="4.4"/>
<line x1="548.8" y1="1298.3" x2="548.8" y2="1313.3" stroke="#000" stroke-width="4.4"/>
<text x="62.8" y="878.1" font-size="32.3" textLength="49.6" lengthAdjust="spacingAndGlyphs" fill="#231f20">250</text>
<text x="62.8" y="952.9" font-size="32.3" textLength="49.6" lengthAdjust="spacingAndGlyphs" fill="#231f20">200</text>
<text x="62.8" y="1055.4" font-size="32.3" textLength="49.6" lengthAdjust="spacingAndGlyphs" fill="#231f20"> 50</text>
<path d="M70.30,1055.41 L70.30,1035.90 L65.69,1039.48 L65.69,1036.80 L70.52,1033.19 L72.93,1033.19 L72.93,1055.41 Z" fill="#231f20"/>
<text x="62.8" y="1141.2" font-size="32.3" textLength="49.6" lengthAdjust="spacingAndGlyphs" fill="#231f20"> 00</text>
<path d="M70.30,1141.21 L70.30,1121.70 L65.69,1125.28 L65.69,1122.60 L70.52,1118.99 L72.93,1118.99 L72.93,1141.21 Z" fill="#231f20"/>
<text x="79.4" y="1228.5" font-size="32.3" textLength="33.1" lengthAdjust="spacingAndGlyphs" fill="#231f20">50</text>
<text x="95.9" y="1312.3" font-size="32.3" textLength="16.5" lengthAdjust="spacingAndGlyphs" fill="#231f20">0</text>
<text x="142.5" y="1341.0" font-size="31.5" textLength="44.6" lengthAdjust="spacingAndGlyphs" fill="#231f20">- 0</text>
<path d="M160.57,1341.00 L160.57,1321.97 L155.78,1325.47 L155.78,1322.85 L160.80,1319.33 L163.30,1319.33 L163.30,1341.00 Z" fill="#231f20"/>
<text x="235.1" y="1341.0" font-size="31.5" textLength="17.2" lengthAdjust="spacingAndGlyphs" fill="#231f20">0</text>
<text x="301.9" y="1341.0" font-size="31.5" textLength="34.3" lengthAdjust="spacingAndGlyphs" fill="#231f20"> 0</text>
<path d="M309.69,1341.00 L309.69,1321.97 L304.90,1325.47 L304.90,1322.85 L309.92,1319.33 L312.42,1319.33 L312.42,1341.00 Z" fill="#231f20"/>
<text x="378.9" y="1341.0" font-size="31.5" textLength="34.3" lengthAdjust="spacingAndGlyphs" fill="#231f20">20</text>
<text x="455.4" y="1341.0" font-size="31.5" textLength="34.3" lengthAdjust="spacingAndGlyphs" fill="#231f20">30</text>
<text x="531.9" y="1341.0" font-size="31.5" textLength="34.3" lengthAdjust="spacingAndGlyphs" fill="#231f20">40</text>
<text x="28.0" y="1251.9" font-size="29.7" transform="rotate(-90 28.0 1251.9)" textLength="371.8" lengthAdjust="spacingAndGlyphs" fill="#231f20">Postsynaptic Response (%)</text>
<text x="170.6" y="1375.0" font-size="30" textLength="391.3" lengthAdjust="spacingAndGlyphs" fill="#231f20">Time after the induction (min)</text>
<path d="M245.0,1271.2 L259.4,1286.2 L252.7,1286.2 L252.7,1294.5 L237.3,1294.5 L237.3,1286.2 L230.6,1286.2 Z" fill="#231f20"/>
<line x1="173.3" y1="1117.5" x2="173.3" y2="1131.3" stroke="#000" stroke-width="3.5"/>
<line x1="180.9" y1="1124.4" x2="180.9" y2="1138.3" stroke="#000" stroke-width="3.5"/>
<line x1="188.5" y1="1120.9" x2="188.5" y2="1134.8" stroke="#000" stroke-width="3.5"/>
<line x1="196.2" y1="1127.9" x2="196.2" y2="1141.7" stroke="#000" stroke-width="3.5"/>
<line x1="203.8" y1="1122.7" x2="203.8" y2="1136.5" stroke="#000" stroke-width="3.5"/>
<line x1="211.4" y1="1119.2" x2="211.4" y2="1133.1" stroke="#000" stroke-width="3.5"/>
<line x1="219.1" y1="1124.4" x2="219.1" y2="1138.3" stroke="#000" stroke-width="3.5"/>
<line x1="226.7" y1="1126.1" x2="226.7" y2="1140.0" stroke="#000" stroke-width="3.5"/>
<line x1="234.3" y1="1120.9" x2="234.3" y2="1134.8" stroke="#000" stroke-width="3.5"/>
<line x1="241.9" y1="1122.7" x2="241.9" y2="1136.5" stroke="#000" stroke-width="3.5"/>
<line x1="249.6" y1="1061.5" x2="249.6" y2="1103.1" stroke="#000" stroke-width="3.5"/>
<line x1="257.2" y1="1081.1" x2="257.2" y2="1115.7" stroke="#000" stroke-width="3.5"/>
<line x1="264.8" y1="1096.7" x2="264.8" y2="1127.9" stroke="#000" stroke-width="3.5"/>
<line x1="272.5" y1="1101.9" x2="272.5" y2="1133.1" stroke="#000" stroke-width="3.5"/>
<line x1="280.1" y1="1105.4" x2="280.1" y2="1136.5" stroke="#000" stroke-width="3.5"/>
<line x1="287.7" y1="1107.1" x2="287.7" y2="1141.7" stroke="#000" stroke-width="3.5"/>
<line x1="295.3" y1="1112.3" x2="295.3" y2="1146.9" stroke="#000" stroke-width="3.5"/>
<line x1="303.0" y1="1115.7" x2="303.0" y2="1150.4" stroke="#000" stroke-width="3.5"/>
<line x1="310.6" y1="1114.0" x2="310.6" y2="1155.6" stroke="#000" stroke-width="3.5"/>
<line x1="318.2" y1="1103.6" x2="318.2" y2="1145.2" stroke="#000" stroke-width="3.5"/>
<line x1="325.9" y1="1098.4" x2="325.9" y2="1140.0" stroke="#000" stroke-width="3.5"/>
<line x1="333.5" y1="1110.5" x2="333.5" y2="1148.7" stroke="#000" stroke-width="3.5"/>
<line x1="341.1" y1="1117.5" x2="341.1" y2="1155.6" stroke="#000" stroke-width="3.5"/>
<line x1="348.7" y1="1101.9" x2="348.7" y2="1143.5" stroke="#000" stroke-width="3.5"/>
<line x1="356.4" y1="1108.8" x2="356.4" y2="1150.4" stroke="#000" stroke-width="3.5"/>
<line x1="364.0" y1="1117.5" x2="364.0" y2="1159.0" stroke="#000" stroke-width="3.5"/>
<line x1="371.6" y1="1124.4" x2="371.6" y2="1162.5" stroke="#000" stroke-width="3.5"/>
<line x1="379.2" y1="1105.4" x2="379.2" y2="1146.9" stroke="#000" stroke-width="3.5"/>
<line x1="386.9" y1="1115.7" x2="386.9" y2="1153.8" stroke="#000" stroke-width="3.5"/>
<line x1="394.5" y1="1126.1" x2="394.5" y2="1167.7" stroke="#000" stroke-width="3.5"/>
<line x1="402.1" y1="1131.3" x2="402.1" y2="1169.4" stroke="#000" stroke-width="3.5"/>
<line x1="409.8" y1="1120.9" x2="409.8" y2="1162.5" stroke="#000" stroke-width="3.5"/>
<line x1="417.4" y1="1108.8" x2="417.4" y2="1150.4" stroke="#000" stroke-width="3.5"/>
<line x1="425.0" y1="1119.2" x2="425.0" y2="1157.3" stroke="#000" stroke-width="3.5"/>
<line x1="432.6" y1="1112.3" x2="432.6" y2="1153.8" stroke="#000" stroke-width="3.5"/>
<line x1="440.3" y1="1105.4" x2="440.3" y2="1143.5" stroke="#000" stroke-width="3.5"/>
<line x1="447.9" y1="1117.5" x2="447.9" y2="1155.6" stroke="#000" stroke-width="3.5"/>
<line x1="455.5" y1="1117.5" x2="455.5" y2="1159.0" stroke="#000" stroke-width="3.5"/>
<line x1="463.2" y1="1124.4" x2="463.2" y2="1162.5" stroke="#000" stroke-width="3.5"/>
<line x1="470.8" y1="1115.7" x2="470.8" y2="1153.8" stroke="#000" stroke-width="3.5"/>
<line x1="478.4" y1="1112.3" x2="478.4" y2="1146.9" stroke="#000" stroke-width="3.5"/>
<line x1="486.0" y1="1119.2" x2="486.0" y2="1157.3" stroke="#000" stroke-width="3.5"/>
<line x1="493.7" y1="1127.9" x2="493.7" y2="1166.0" stroke="#000" stroke-width="3.5"/>
<line x1="501.3" y1="1124.4" x2="501.3" y2="1159.0" stroke="#000" stroke-width="3.5"/>
<line x1="508.9" y1="1122.7" x2="508.9" y2="1164.2" stroke="#000" stroke-width="3.5"/>
<line x1="516.6" y1="1117.5" x2="516.6" y2="1155.6" stroke="#000" stroke-width="3.5"/>
<line x1="524.2" y1="1129.6" x2="524.2" y2="1164.2" stroke="#000" stroke-width="3.5"/>
<line x1="531.8" y1="1124.4" x2="531.8" y2="1162.5" stroke="#000" stroke-width="3.5"/>
<line x1="539.4" y1="1122.7" x2="539.4" y2="1157.3" stroke="#000" stroke-width="3.5"/>
<line x1="547.1" y1="1122.7" x2="547.1" y2="1160.8" stroke="#000" stroke-width="3.5"/>
<line x1="173.3" y1="1110.5" x2="173.3" y2="1127.9" stroke="#000" stroke-width="3.5"/>
<line x1="180.9" y1="1115.7" x2="180.9" y2="1133.1" stroke="#000" stroke-width="3.5"/>
<line x1="188.5" y1="1114.0" x2="188.5" y2="1131.3" stroke="#000" stroke-width="3.5"/>
<line x1="196.2" y1="1122.7" x2="196.2" y2="1140.0" stroke="#000" stroke-width="3.5"/>
<line x1="203.8" y1="1117.5" x2="203.8" y2="1134.8" stroke="#000" stroke-width="3.5"/>
<line x1="211.4" y1="1120.9" x2="211.4" y2="1138.3" stroke="#000" stroke-width="3.5"/>
<line x1="219.1" y1="1114.0" x2="219.1" y2="1131.3" stroke="#000" stroke-width="3.5"/>
<line x1="226.7" y1="1119.2" x2="226.7" y2="1136.5" stroke="#000" stroke-width="3.5"/>
<line x1="234.3" y1="1126.1" x2="234.3" y2="1143.5" stroke="#000" stroke-width="3.5"/>
<line x1="241.9" y1="1115.7" x2="241.9" y2="1133.1" stroke="#000" stroke-width="3.5"/>
<line x1="249.6" y1="899.9" x2="249.6" y2="1135.5" stroke="#000" stroke-width="3.5"/>
<line x1="257.2" y1="992.3" x2="257.2" y2="1151.6" stroke="#000" stroke-width="3.5"/>
<line x1="264.8" y1="1100.2" x2="264.8" y2="1186.8" stroke="#000" stroke-width="3.5"/>
<line x1="272.5" y1="1096.7" x2="272.5" y2="1179.8" stroke="#000" stroke-width="3.5"/>
<line x1="280.1" y1="1082.8" x2="280.1" y2="1183.3" stroke="#000" stroke-width="3.5"/>
<line x1="287.7" y1="1076.8" x2="287.7" y2="1180.7" stroke="#000" stroke-width="3.5"/>
<line x1="295.3" y1="1061.2" x2="295.3" y2="1172.0" stroke="#000" stroke-width="3.5"/>
<line x1="303.0" y1="1007.5" x2="303.0" y2="1168.6" stroke="#000" stroke-width="3.5"/>
<line x1="310.6" y1="984.1" x2="310.6" y2="1164.2" stroke="#000" stroke-width="3.5"/>
<line x1="318.2" y1="966.8" x2="318.2" y2="1146.9" stroke="#000" stroke-width="3.5"/>
<line x1="325.9" y1="956.4" x2="325.9" y2="1129.6" stroke="#000" stroke-width="3.5"/>
<line x1="333.5" y1="975.5" x2="333.5" y2="1127.9" stroke="#000" stroke-width="3.5"/>
<line x1="341.1" y1="977.2" x2="341.1" y2="1143.5" stroke="#000" stroke-width="3.5"/>
<line x1="348.7" y1="985.8" x2="348.7" y2="1145.2" stroke="#000" stroke-width="3.5"/>
<line x1="356.4" y1="982.4" x2="356.4" y2="1127.9" stroke="#000" stroke-width="3.5"/>
<line x1="364.0" y1="972.0" x2="364.0" y2="1124.4" stroke="#000" stroke-width="3.5"/>
<line x1="371.6" y1="980.6" x2="371.6" y2="1122.7" stroke="#000" stroke-width="3.5"/>
<line x1="379.2" y1="1003.2" x2="379.2" y2="1117.5" stroke="#000" stroke-width="3.5"/>
<line x1="386.9" y1="1003.2" x2="386.9" y2="1093.2" stroke="#000" stroke-width="3.5"/>
<line x1="394.5" y1="984.1" x2="394.5" y2="1122.7" stroke="#000" stroke-width="3.5"/>
<line x1="402.1" y1="994.5" x2="402.1" y2="1126.1" stroke="#000" stroke-width="3.5"/>
<line x1="409.8" y1="1004.9" x2="409.8" y2="1126.1" stroke="#000" stroke-width="3.5"/>
<line x1="417.4" y1="1010.1" x2="417.4" y2="1120.9" stroke="#000" stroke-width="3.5"/>
<line x1="425.0" y1="999.7" x2="425.0" y2="1138.3" stroke="#000" stroke-width="3.5"/>
<line x1="432.6" y1="1022.2" x2="432.6" y2="1126.1" stroke="#000" stroke-width="3.5"/>
<line x1="440.3" y1="1017.0" x2="440.3" y2="1141.7" stroke="#000" stroke-width="3.5"/>
<line x1="447.9" y1="1037.8" x2="447.9" y2="1138.3" stroke="#000" stroke-width="3.5"/>
<line x1="455.5" y1="1056.9" x2="455.5" y2="1140.0" stroke="#000" stroke-width="3.5"/>
<line x1="463.2" y1="1056.9" x2="463.2" y2="1150.4" stroke="#000" stroke-width="3.5"/>
<line x1="470.8" y1="1058.6" x2="470.8" y2="1159.0" stroke="#000" stroke-width="3.5"/>
<line x1="478.4" y1="1077.6" x2="478.4" y2="1153.8" stroke="#000" stroke-width="3.5"/>
<line x1="486.0" y1="1082.8" x2="486.0" y2="1162.5" stroke="#000" stroke-width="3.5"/>
<line x1="493.7" y1="1086.3" x2="493.7" y2="1152.1" stroke="#000" stroke-width="3.5"/>
<line x1="501.3" y1="1077.6" x2="501.3" y2="1136.5" stroke="#000" stroke-width="3.5"/>
<line x1="508.9" y1="1062.1" x2="508.9" y2="1138.3" stroke="#000" stroke-width="3.5"/>
<line x1="516.6" y1="1088.0" x2="516.6" y2="1146.9" stroke="#000" stroke-width="3.5"/>
<line x1="524.2" y1="1093.2" x2="524.2" y2="1145.2" stroke="#000" stroke-width="3.5"/>
<line x1="531.8" y1="1088.0" x2="531.8" y2="1143.5" stroke="#000" stroke-width="3.5"/>
<line x1="539.4" y1="1098.4" x2="539.4" y2="1146.9" stroke="#000" stroke-width="3.5"/>
<line x1="547.1" y1="1119.2" x2="547.1" y2="1164.2" stroke="#000" stroke-width="3.5"/>
<ellipse cx="173.3" cy="1124.4" rx="16.7" ry="19.6" fill="#dfdfe1" stroke="#000" stroke-width="3.6"/>
<ellipse cx="180.9" cy="1131.3" rx="16.7" ry="19.6" fill="#dfdfe1" stroke="#000" stroke-width="3.6"/>
<ellipse cx="188.5" cy="1127.9" rx="16.7" ry="19.6" fill="#dfdfe1" stroke="#000" stroke-width="3.6"/>
<ellipse cx="196.2" cy="1134.8" rx="16.7" ry="19.6" fill="#dfdfe1" stroke="#000" stroke-width="3.6"/>
<ellipse cx="203.8" cy="1129.6" rx="16.7" ry="19.6" fill="#dfdfe1" stroke="#000" stroke-width="3.6"/>
<ellipse cx="211.4" cy="1126.1" rx="16.7" ry="19.6" fill="#dfdfe1" stroke="#000" stroke-width="3.6"/>
<ellipse cx="219.1" cy="1131.3" rx="16.7" ry="19.6" fill="#dfdfe1" stroke="#000" stroke-width="3.6"/>
<ellipse cx="226.7" cy="1133.1" rx="16.7" ry="19.6" fill="#dfdfe1" stroke="#000" stroke-width="3.6"/>
<ellipse cx="234.3" cy="1127.9" rx="16.7" ry="19.6" fill="#dfdfe1" stroke="#000" stroke-width="3.6"/>
<ellipse cx="241.9" cy="1129.6" rx="16.7" ry="19.6" fill="#dfdfe1" stroke="#000" stroke-width="3.6"/>
<ellipse cx="249.6" cy="1082.3" rx="16.7" ry="19.6" fill="#dfdfe1" stroke="#000" stroke-width="3.6"/>
<ellipse cx="257.2" cy="1098.4" rx="16.7" ry="19.6" fill="#dfdfe1" stroke="#000" stroke-width="3.6"/>
<ellipse cx="264.8" cy="1112.3" rx="16.7" ry="19.6" fill="#dfdfe1" stroke="#000" stroke-width="3.6"/>
<ellipse cx="272.5" cy="1117.5" rx="16.7" ry="19.6" fill="#dfdfe1" stroke="#000" stroke-width="3.6"/>
<ellipse cx="280.1" cy="1120.9" rx="16.7" ry="19.6" fill="#dfdfe1" stroke="#000" stroke-width="3.6"/>
<ellipse cx="287.7" cy="1124.4" rx="16.7" ry="19.6" fill="#dfdfe1" stroke="#000" stroke-width="3.6"/>
<ellipse cx="295.3" cy="1129.6" rx="16.7" ry="19.6" fill="#dfdfe1" stroke="#000" stroke-width="3.6"/>
<ellipse cx="303.0" cy="1133.1" rx="16.7" ry="19.6" fill="#dfdfe1" stroke="#000" stroke-width="3.6"/>
<ellipse cx="310.6" cy="1134.8" rx="16.7" ry="19.6" fill="#dfdfe1" stroke="#000" stroke-width="3.6"/>
<ellipse cx="318.2" cy="1124.4" rx="16.7" ry="19.6" fill="#dfdfe1" stroke="#000" stroke-width="3.6"/>
<ellipse cx="325.9" cy="1119.2" rx="16.7" ry="19.6" fill="#dfdfe1" stroke="#000" stroke-width="3.6"/>
<ellipse cx="333.5" cy="1129.6" rx="16.7" ry="19.6" fill="#dfdfe1" stroke="#000" stroke-width="3.6"/>
<ellipse cx="341.1" cy="1136.5" rx="16.7" ry="19.6" fill="#dfdfe1" stroke="#000" stroke-width="3.6"/>
<ellipse cx="348.7" cy="1122.7" rx="16.7" ry="19.6" fill="#dfdfe1" stroke="#000" stroke-width="3.6"/>
<ellipse cx="356.4" cy="1129.6" rx="16.7" ry="19.6" fill="#dfdfe1" stroke="#000" stroke-width="3.6"/>
<ellipse cx="364.0" cy="1138.3" rx="16.7" ry="19.6" fill="#dfdfe1" stroke="#000" stroke-width="3.6"/>
<ellipse cx="371.6" cy="1143.5" rx="16.7" ry="19.6" fill="#dfdfe1" stroke="#000" stroke-width="3.6"/>
<ellipse cx="379.2" cy="1126.1" rx="16.7" ry="19.6" fill="#dfdfe1" stroke="#000" stroke-width="3.6"/>
<ellipse cx="386.9" cy="1134.8" rx="16.7" ry="19.6" fill="#dfdfe1" stroke="#000" stroke-width="3.6"/>
<ellipse cx="394.5" cy="1146.9" rx="16.7" ry="19.6" fill="#dfdfe1" stroke="#000" stroke-width="3.6"/>
<ellipse cx="402.1" cy="1150.4" rx="16.7" ry="19.6" fill="#dfdfe1" stroke="#000" stroke-width="3.6"/>
<ellipse cx="409.8" cy="1141.7" rx="16.7" ry="19.6" fill="#dfdfe1" stroke="#000" stroke-width="3.6"/>
<ellipse cx="417.4" cy="1129.6" rx="16.7" ry="19.6" fill="#dfdfe1" stroke="#000" stroke-width="3.6"/>
<ellipse cx="425.0" cy="1138.3" rx="16.7" ry="19.6" fill="#dfdfe1" stroke="#000" stroke-width="3.6"/>
<ellipse cx="432.6" cy="1133.1" rx="16.7" ry="19.6" fill="#dfdfe1" stroke="#000" stroke-width="3.6"/>
<ellipse cx="440.3" cy="1124.4" rx="16.7" ry="19.6" fill="#dfdfe1" stroke="#000" stroke-width="3.6"/>
<ellipse cx="447.9" cy="1136.5" rx="16.7" ry="19.6" fill="#dfdfe1" stroke="#000" stroke-width="3.6"/>
<ellipse cx="455.5" cy="1138.3" rx="16.7" ry="19.6" fill="#dfdfe1" stroke="#000" stroke-width="3.6"/>
<ellipse cx="463.2" cy="1143.5" rx="16.7" ry="19.6" fill="#dfdfe1" stroke="#000" stroke-width="3.6"/>
<ellipse cx="470.8" cy="1134.8" rx="16.7" ry="19.6" fill="#dfdfe1" stroke="#000" stroke-width="3.6"/>
<ellipse cx="478.4" cy="1129.6" rx="16.7" ry="19.6" fill="#dfdfe1" stroke="#000" stroke-width="3.6"/>
<ellipse cx="486.0" cy="1138.3" rx="16.7" ry="19.6" fill="#dfdfe1" stroke="#000" stroke-width="3.6"/>
<ellipse cx="493.7" cy="1146.9" rx="16.7" ry="19.6" fill="#dfdfe1" stroke="#000" stroke-width="3.6"/>
<ellipse cx="501.3" cy="1141.7" rx="16.7" ry="19.6" fill="#dfdfe1" stroke="#000" stroke-width="3.6"/>
<ellipse cx="508.9" cy="1143.5" rx="16.7" ry="19.6" fill="#dfdfe1" stroke="#000" stroke-width="3.6"/>
<ellipse cx="516.6" cy="1136.5" rx="16.7" ry="19.6" fill="#dfdfe1" stroke="#000" stroke-width="3.6"/>
<ellipse cx="524.2" cy="1146.9" rx="16.7" ry="19.6" fill="#dfdfe1" stroke="#000" stroke-width="3.6"/>
<ellipse cx="531.8" cy="1143.5" rx="16.7" ry="19.6" fill="#dfdfe1" stroke="#000" stroke-width="3.6"/>
<ellipse cx="539.4" cy="1140.0" rx="16.7" ry="19.6" fill="#dfdfe1" stroke="#000" stroke-width="3.6"/>
<ellipse cx="547.1" cy="1141.7" rx="16.7" ry="19.6" fill="#dfdfe1" stroke="#000" stroke-width="3.6"/>
<ellipse cx="173.3" cy="1119.2" rx="16.7" ry="19.6" fill="#931633" stroke="#000" stroke-width="3.6"/>
<ellipse cx="180.9" cy="1124.4" rx="16.7" ry="19.6" fill="#931633" stroke="#000" stroke-width="3.6"/>
<ellipse cx="188.5" cy="1122.7" rx="16.7" ry="19.6" fill="#931633" stroke="#000" stroke-width="3.6"/>
<ellipse cx="196.2" cy="1131.3" rx="16.7" ry="19.6" fill="#931633" stroke="#000" stroke-width="3.6"/>
<ellipse cx="203.8" cy="1126.1" rx="16.7" ry="19.6" fill="#931633" stroke="#000" stroke-width="3.6"/>
<ellipse cx="211.4" cy="1129.6" rx="16.7" ry="19.6" fill="#931633" stroke="#000" stroke-width="3.6"/>
<ellipse cx="219.1" cy="1122.7" rx="16.7" ry="19.6" fill="#931633" stroke="#000" stroke-width="3.6"/>
<ellipse cx="226.7" cy="1127.9" rx="16.7" ry="19.6" fill="#931633" stroke="#000" stroke-width="3.6"/>
<ellipse cx="234.3" cy="1134.8" rx="16.7" ry="19.6" fill="#931633" stroke="#000" stroke-width="3.6"/>
<ellipse cx="241.9" cy="1124.4" rx="16.7" ry="19.6" fill="#931633" stroke="#000" stroke-width="3.6"/>
<ellipse cx="249.6" cy="1017.7" rx="16.7" ry="19.6" fill="#931633" stroke="#000" stroke-width="3.6"/>
<ellipse cx="257.2" cy="1071.9" rx="16.7" ry="19.6" fill="#931633" stroke="#000" stroke-width="3.6"/>
<ellipse cx="264.8" cy="1143.5" rx="16.7" ry="19.6" fill="#931633" stroke="#000" stroke-width="3.6"/>
<ellipse cx="272.5" cy="1138.3" rx="16.7" ry="19.6" fill="#931633" stroke="#000" stroke-width="3.6"/>
<ellipse cx="280.1" cy="1133.1" rx="16.7" ry="19.6" fill="#931633" stroke="#000" stroke-width="3.6"/>
<ellipse cx="287.7" cy="1128.7" rx="16.7" ry="19.6" fill="#931633" stroke="#000" stroke-width="3.6"/>
<ellipse cx="295.3" cy="1116.6" rx="16.7" ry="19.6" fill="#931633" stroke="#000" stroke-width="3.6"/>
<ellipse cx="303.0" cy="1094.1" rx="16.7" ry="19.6" fill="#931633" stroke="#000" stroke-width="3.6"/>
<ellipse cx="310.6" cy="1074.2" rx="16.7" ry="19.6" fill="#931633" stroke="#000" stroke-width="3.6"/>
<ellipse cx="318.2" cy="1056.9" rx="16.7" ry="19.6" fill="#931633" stroke="#000" stroke-width="3.6"/>
<ellipse cx="325.9" cy="1043.0" rx="16.7" ry="19.6" fill="#931633" stroke="#000" stroke-width="3.6"/>
<ellipse cx="333.5" cy="1051.7" rx="16.7" ry="19.6" fill="#931633" stroke="#000" stroke-width="3.6"/>
<ellipse cx="341.1" cy="1060.3" rx="16.7" ry="19.6" fill="#931633" stroke="#000" stroke-width="3.6"/>
<ellipse cx="348.7" cy="1065.5" rx="16.7" ry="19.6" fill="#931633" stroke="#000" stroke-width="3.6"/>
<ellipse cx="356.4" cy="1055.1" rx="16.7" ry="19.6" fill="#931633" stroke="#000" stroke-width="3.6"/>
<ellipse cx="364.0" cy="1048.2" rx="16.7" ry="19.6" fill="#931633" stroke="#000" stroke-width="3.6"/>
<ellipse cx="371.6" cy="1051.7" rx="16.7" ry="19.6" fill="#931633" stroke="#000" stroke-width="3.6"/>
<ellipse cx="379.2" cy="1060.3" rx="16.7" ry="19.6" fill="#931633" stroke="#000" stroke-width="3.6"/>
<ellipse cx="386.9" cy="1048.2" rx="16.7" ry="19.6" fill="#931633" stroke="#000" stroke-width="3.6"/>
<ellipse cx="394.5" cy="1053.4" rx="16.7" ry="19.6" fill="#931633" stroke="#000" stroke-width="3.6"/>
<ellipse cx="402.1" cy="1060.3" rx="16.7" ry="19.6" fill="#931633" stroke="#000" stroke-width="3.6"/>
<ellipse cx="409.8" cy="1065.5" rx="16.7" ry="19.6" fill="#931633" stroke="#000" stroke-width="3.6"/>
<ellipse cx="417.4" cy="1065.5" rx="16.7" ry="19.6" fill="#931633" stroke="#000" stroke-width="3.6"/>
<ellipse cx="425.0" cy="1069.0" rx="16.7" ry="19.6" fill="#931633" stroke="#000" stroke-width="3.6"/>
<ellipse cx="432.6" cy="1074.2" rx="16.7" ry="19.6" fill="#931633" stroke="#000" stroke-width="3.6"/>
<ellipse cx="440.3" cy="1079.4" rx="16.7" ry="19.6" fill="#931633" stroke="#000" stroke-width="3.6"/>
<ellipse cx="447.9" cy="1088.0" rx="16.7" ry="19.6" fill="#931633" stroke="#000" stroke-width="3.6"/>
<ellipse cx="455.5" cy="1098.4" rx="16.7" ry="19.6" fill="#931633" stroke="#000" stroke-width="3.6"/>
<ellipse cx="463.2" cy="1103.6" rx="16.7" ry="19.6" fill="#931633" stroke="#000" stroke-width="3.6"/>
<ellipse cx="470.8" cy="1108.8" rx="16.7" ry="19.6" fill="#931633" stroke="#000" stroke-width="3.6"/>
<ellipse cx="478.4" cy="1115.7" rx="16.7" ry="19.6" fill="#931633" stroke="#000" stroke-width="3.6"/>
<ellipse cx="486.0" cy="1122.7" rx="16.7" ry="19.6" fill="#931633" stroke="#000" stroke-width="3.6"/>
<ellipse cx="493.7" cy="1119.2" rx="16.7" ry="19.6" fill="#931633" stroke="#000" stroke-width="3.6"/>
<ellipse cx="501.3" cy="1107.1" rx="16.7" ry="19.6" fill="#931633" stroke="#000" stroke-width="3.6"/>
<ellipse cx="508.9" cy="1100.2" rx="16.7" ry="19.6" fill="#931633" stroke="#000" stroke-width="3.6"/>
<ellipse cx="516.6" cy="1117.5" rx="16.7" ry="19.6" fill="#931633" stroke="#000" stroke-width="3.6"/>
<ellipse cx="524.2" cy="1119.2" rx="16.7" ry="19.6" fill="#931633" stroke="#000" stroke-width="3.6"/>
<ellipse cx="531.8" cy="1115.7" rx="16.7" ry="19.6" fill="#931633" stroke="#000" stroke-width="3.6"/>
<ellipse cx="539.4" cy="1122.7" rx="16.7" ry="19.6" fill="#931633" stroke="#000" stroke-width="3.6"/>
<ellipse cx="547.1" cy="1141.7" rx="16.7" ry="19.6" fill="#931633" stroke="#000" stroke-width="3.6"/>
<line x1="138.1" y1="1129.5" x2="575.0" y2="1129.5" stroke="#231f20" stroke-width="3.9" stroke-dasharray="26.8 21.1"/>
<path d="M218.60,1068.20 L218.60,1091.20 L212.30,1091.20 L212.30,1075.33 L206.00,1075.33 L206.00,1072.68 Q211.29,1072.11 213.31,1068.20 Z" fill="#231f20"/>
<text x="564.3" y="1108.4" font-size="34" font-weight="bold" textLength="19.9" lengthAdjust="spacingAndGlyphs" fill="#d589ae">2</text>
<text x="613.6" y="747.7" font-size="67.5" font-weight="bold" textLength="46.4" lengthAdjust="spacingAndGlyphs" fill="#231f20">D</text>
<path d="M768.5,820.0 L768.9,820.2 L769.3,820.5 L769.8,820.8 L770.2,820.3 L770.6,820.3 L771.0,820.5 L771.4,821.0 L771.8,820.5 L772.2,821.1 L772.7,821.1 L773.1,820.6 L773.5,821.0 L773.9,804.0 L774.4,787.0 L774.8,770.1 L775.2,763.7 L775.6,757.4 L776.1,751.3 L776.5,744.9 L777.0,742.7 L777.5,740.8 L778.0,738.9 L778.4,740.1 L778.8,739.9 L779.2,740.5 L779.6,741.5 L780.0,742.0 L780.4,743.1 L780.8,743.5 L781.2,743.7 L781.6,744.1 L782.0,745.3 L782.4,747.2 L782.9,748.0 L783.3,750.4 L783.7,752.2 L784.1,753.7 L784.6,755.0 L785.0,757.3 L785.4,758.9 L785.8,760.0 L786.2,762.1 L786.7,763.4 L787.1,764.9 L787.5,766.8 L787.9,768.5 L788.3,770.2 L788.8,772.1 L789.2,774.0 L789.6,775.8 L790.0,777.5 L790.4,778.3 L790.8,779.0 L791.2,779.3 L791.7,780.0 L792.1,781.3 L792.5,782.0 L792.9,783.0 L793.3,783.3 L793.8,784.2 L794.2,785.8 L794.6,786.3 L795.0,787.2 L795.4,787.3 L795.8,788.2 L796.2,789.4 L796.7,789.8 L797.1,790.8 L797.5,790.7 L797.9,791.6 L798.3,792.6 L798.8,792.9 L799.2,794.0 L799.6,794.4 L800.0,794.6 L800.4,795.1 L800.8,796.5 L801.2,796.1 L801.7,796.7 L802.1,797.3 L802.5,798.2 L802.9,798.9 L803.3,799.0 L803.8,799.5 L804.2,800.3 L804.6,800.3 L805.0,800.9 L805.4,801.5 L805.8,802.0 L806.2,801.8 L806.7,802.3 L807.1,802.7 L807.5,803.7 L807.9,804.1 L808.3,804.8 L808.8,805.0 L809.2,804.9 L809.6,805.8 L810.0,806.5 L810.4,806.2 L810.8,806.2 L811.2,806.9 L811.7,807.1 L812.1,807.3 L812.5,807.5 L812.9,808.0 L813.3,809.0 L813.8,808.5 L814.2,809.4 L814.6,809.4 L815.0,809.7 L815.4,810.6 L815.8,810.3 L816.2,810.4 L816.7,811.0 L817.1,811.4 L817.5,811.5 L817.9,812.1 L818.3,811.9 L818.8,812.3 L819.2,812.7 L819.6,812.7 L820.0,813.2 L820.4,813.2 L820.8,813.1 L821.2,813.4 L821.7,814.3 L822.1,814.5 L822.5,814.9 L822.9,814.9 L823.3,815.1 L823.8,814.9 L824.2,815.9 L824.6,815.4 L825.0,815.9 L825.4,815.8 L825.8,816.2 L826.2,816.3 L826.7,816.6 L827.1,817.0 L827.5,817.0 L827.9,816.9 L828.3,817.6 L828.8,817.7 L829.2,818.0 L829.6,817.4 L830.0,818.1 L830.4,818.5 L830.8,817.9 L831.2,818.0 L831.7,818.6 L832.1,818.3 L832.5,818.4 L832.9,818.9 L833.3,818.6 L833.8,818.4 L834.2,818.5 L834.6,818.8 L835.0,819.2 L835.4,818.9 L835.8,819.4 L836.2,818.7 L836.7,818.9 L837.1,819.3 L837.5,819.2 L837.9,819.3 L838.3,819.8 L838.8,819.2 L839.2,819.1 L839.6,819.0 L840.0,819.5 L840.4,819.3 L840.8,819.5 L841.2,819.0 L841.6,819.0 L842.0,819.4 L842.4,819.8 L842.8,819.3 L843.2,819.9 L843.6,819.6 L844.0,819.4 L844.4,819.8 L844.8,819.2 L845.2,819.6 L845.6,819.8 L846.0,819.5 L846.4,819.3 L846.8,819.1 L847.2,819.6 L847.6,819.2 L848.0,819.4 L848.4,819.5 L848.8,819.9 L849.2,819.7 L849.7,819.5 L850.1,819.9 L850.5,819.3 L850.9,819.4 L851.3,819.7 L851.7,819.6 L852.1,819.2 L852.5,819.4 L852.9,819.8 L853.3,819.2 L853.7,819.7 L854.1,819.0 L854.5,820.0 L854.9,819.7 L855.3,819.3 L855.7,820.0 L856.1,819.8 L856.5,819.1 L856.9,819.2 L857.3,819.5 L857.7,820.0 L858.1,819.1 L858.5,819.0 L858.9,819.3 L859.3,819.0 L859.7,819.4 L860.1,819.5 L860.5,819.4 L860.9,819.1 L861.3,819.0 L861.7,819.8 L862.1,819.4 L862.5,819.5 L862.9,819.5 L863.3,819.7 L863.7,819.9 L864.1,819.8 L864.5,819.7 L864.9,819.3 L865.3,819.2 L865.7,819.1 L866.1,819.9 L866.5,819.1 L866.9,819.6 L867.3,819.9 L867.8,819.3 L868.2,819.4 L868.6,819.4 L869.0,819.9 L869.4,819.7 L869.8,819.8 L870.2,819.0 L870.6,819.7 L871.0,819.5 L871.4,819.4 L871.8,819.8 L872.2,819.7 L872.6,819.9 L873.0,819.7 L873.4,819.9 L873.8,819.4 L874.2,819.6 L874.6,819.8 L875.0,819.5 L875.4,819.1 L875.8,819.6 L876.2,819.9 L876.6,819.9 L877.0,819.5" fill="none" stroke="#d589ae" stroke-width="1.2" stroke-linejoin="round"/>
<path d="M768.5,821.8 L768.9,822.1 L769.3,822.4 L769.8,823.4 L770.2,822.8 L770.6,823.3 L771.0,822.4 L771.4,823.1 L771.8,823.7 L772.2,823.3 L772.7,824.0 L773.1,824.0 L773.5,823.5 L774.0,803.8 L774.5,784.6 L775.0,764.9 L775.5,757.2 L776.0,749.7 L776.5,742.5 L777.0,740.9 L777.5,739.4 L778.0,736.5 L778.4,736.7 L778.9,737.1 L779.3,738.8 L779.7,737.8 L780.1,738.2 L780.6,738.4 L781.0,738.8 L781.4,739.7 L781.8,741.2 L782.2,741.8 L782.6,743.0 L783.0,744.9 L783.4,744.7 L783.8,746.7 L784.2,747.5 L784.6,748.2 L785.0,749.1 L785.4,750.4 L785.8,751.1 L786.2,751.6 L786.7,752.7 L787.1,753.6 L787.5,754.8 L787.9,756.8 L788.3,756.9 L788.8,757.3 L789.2,759.0 L789.6,760.5 L790.0,760.9 L790.4,762.2 L790.8,762.0 L791.2,762.8 L791.7,764.6 L792.1,764.4 L792.5,765.7 L792.9,766.6 L793.3,767.2 L793.8,767.8 L794.2,768.5 L794.6,770.9 L795.0,771.3 L795.4,772.6 L795.8,772.8 L796.2,774.5 L796.7,775.2 L797.1,775.8 L797.5,776.5 L797.9,777.4 L798.3,777.9 L798.8,779.1 L799.2,780.5 L799.6,780.6 L800.0,782.6 L800.4,782.5 L800.8,783.2 L801.2,784.0 L801.7,784.2 L802.1,783.9 L802.5,784.6 L802.9,784.7 L803.3,785.2 L803.8,787.2 L804.2,787.1 L804.6,788.3 L805.0,788.4 L805.4,788.3 L805.8,789.9 L806.2,790.4 L806.7,790.3 L807.1,790.2 L807.5,791.2 L807.9,791.5 L808.3,792.5 L808.8,792.6 L809.2,794.2 L809.6,795.2 L810.0,794.5 L810.4,795.9 L810.8,796.1 L811.2,796.5 L811.7,797.7 L812.1,797.3 L812.5,798.5 L812.9,797.8 L813.3,799.7 L813.8,799.0 L814.2,799.2 L814.6,801.1 L815.0,801.4 L815.4,801.7 L815.8,802.3 L816.2,802.1 L816.7,802.0 L817.1,802.8 L817.5,804.2 L817.9,804.7 L818.3,803.9 L818.8,804.7 L819.2,805.1 L819.6,806.2 L820.0,805.2 L820.4,806.9 L820.8,806.3 L821.2,807.1 L821.7,806.7 L822.1,807.0 L822.5,808.6 L822.9,808.3 L823.3,809.4 L823.8,809.6 L824.2,809.7 L824.6,809.0 L825.0,810.1 L825.4,811.0 L825.8,810.5 L826.2,810.1 L826.7,810.5 L827.1,812.0 L827.5,812.3 L827.9,811.3 L828.3,811.7 L828.8,812.6 L829.2,812.5 L829.6,812.2 L830.0,813.8 L830.4,813.4 L830.8,813.3 L831.2,813.0 L831.7,814.0 L832.1,814.7 L832.5,814.0 L832.9,814.1 L833.3,815.4 L833.8,815.9 L834.2,815.3 L834.6,815.7 L835.0,816.2 L835.4,816.3 L835.8,815.9 L836.2,816.4 L836.7,816.5 L837.1,816.8 L837.5,816.8 L837.9,817.6 L838.3,817.6 L838.8,818.8 L839.2,818.2 L839.6,819.5 L840.0,819.5 L840.4,818.8 L840.8,818.8 L841.2,819.6 L841.7,819.6 L842.1,819.9 L842.5,819.4 L842.9,820.2 L843.3,820.7 L843.8,820.4 L844.2,820.3 L844.6,821.5 L845.0,820.7 L845.4,821.9 L845.8,821.5 L846.2,820.5 L846.7,821.2 L847.1,820.9 L847.5,822.0 L847.9,821.5 L848.3,821.0 L848.8,822.5 L849.2,822.3 L849.6,822.1 L850.0,822.1 L850.4,821.3 L850.8,822.8 L851.2,821.8 L851.6,822.2 L852.0,822.1 L852.4,822.1 L852.8,821.4 L853.2,822.9 L853.6,822.3 L854.0,822.1 L854.4,822.9 L854.8,822.9 L855.2,822.7 L855.6,823.1 L856.0,822.2 L856.4,821.8 L856.9,822.3 L857.3,822.7 L857.7,823.0 L858.1,823.0 L858.5,822.8 L858.9,822.8 L859.3,823.0 L859.7,822.8 L860.1,822.0 L860.5,822.9 L860.9,822.4 L861.3,822.2 L861.7,823.0 L862.1,823.4 L862.5,822.6 L862.9,823.2 L863.3,823.2 L863.7,823.3 L864.1,823.6 L864.5,823.4 L864.9,822.4 L865.3,823.3 L865.7,822.9 L866.1,823.1 L866.5,823.5 L866.9,822.7 L867.3,823.5 L867.7,824.0 L868.1,822.7 L868.5,823.9 L868.9,823.7 L869.3,823.3 L869.7,823.9 L870.1,822.8 L870.6,823.0 L871.0,824.3 L871.4,823.8 L871.8,823.1 L872.2,823.0 L872.6,823.6 L873.0,823.8 L873.4,824.5 L873.8,823.3 L874.2,824.0 L874.6,823.7 L875.0,823.9 L875.4,824.6 L875.8,823.3 L876.2,824.5 L876.6,824.3 L877.0,824.0" fill="none" stroke="#111" stroke-width="1.6" stroke-linejoin="round"/>
<path d="M962.4,822.1 L962.8,822.3 L963.3,822.7 L963.7,821.9 L964.1,822.6 L964.6,823.0 L965.0,822.6 L965.5,791.1 L966.0,760.0 L966.5,730.0 L967.0,700.0 L967.7,687.1 L968.1,693.0 L968.6,699.0 L969.0,705.1 L969.4,708.4 L969.8,711.6 L970.2,715.0 L970.6,718.4 L971.0,721.6 L971.4,725.1 L971.8,728.4 L972.2,731.6 L972.6,735.1 L973.0,739.0 L973.5,740.6 L973.9,743.1 L974.4,744.4 L974.8,746.5 L975.2,750.2 L975.7,751.4 L976.1,752.9 L976.5,755.7 L976.9,757.1 L977.4,757.7 L977.8,759.7 L978.2,761.3 L978.6,763.0 L979.0,764.2 L979.4,766.1 L979.8,766.9 L980.2,768.1 L980.6,768.9 L981.0,769.9 L981.4,770.9 L981.8,773.3 L982.2,774.2 L982.6,775.0 L983.0,775.4 L983.4,776.6 L983.8,777.6 L984.2,779.1 L984.6,779.8 L985.1,781.3 L985.5,782.3 L985.9,783.4 L986.3,785.2 L986.7,785.8 L987.1,786.6 L987.5,787.3 L988.0,788.4 L988.4,789.6 L988.8,789.7 L989.2,790.1 L989.6,791.6 L990.0,792.3 L990.4,793.8 L990.8,793.5 L991.3,795.6 L991.7,795.1 L992.1,796.7 L992.5,797.4 L992.9,798.0 L993.3,799.6 L993.7,800.1 L994.1,800.0 L994.5,801.3 L995.0,802.2 L995.4,802.1 L995.8,802.9 L996.2,804.5 L996.6,805.5 L997.0,805.8 L997.4,806.5 L997.8,807.4 L998.2,807.8 L998.7,809.5 L999.1,810.4 L999.5,810.4 L999.9,810.4 L1000.3,811.8 L1000.7,813.2 L1001.1,812.5 L1001.5,812.3 L1002.0,812.5 L1002.4,813.4 L1002.8,813.4 L1003.2,813.0 L1003.6,813.6 L1004.0,813.9 L1004.5,814.3 L1004.9,814.2 L1005.3,813.7 L1005.7,814.6 L1006.1,815.0 L1006.5,815.2 L1006.9,815.3 L1007.4,815.3 L1007.8,815.5 L1008.2,816.3 L1008.6,816.2 L1009.0,816.6 L1009.4,816.1 L1009.8,816.2 L1010.2,816.8 L1010.7,817.5 L1011.1,817.8 L1011.5,817.5 L1011.9,817.7 L1012.3,819.2 L1012.7,817.9 L1013.1,819.4 L1013.5,819.3 L1013.9,819.1 L1014.3,819.9 L1014.8,819.5 L1015.2,818.6 L1015.6,820.2 L1016.0,819.5 L1016.4,820.4 L1016.8,820.4 L1017.2,819.4 L1017.6,819.4 L1018.0,819.5 L1018.4,820.8 L1018.8,821.0 L1019.2,820.2 L1019.7,820.1 L1020.1,820.7 L1020.5,821.5 L1020.9,821.5 L1021.3,821.9 L1021.7,822.1 L1022.1,821.8 L1022.5,821.9 L1022.9,820.6 L1023.3,820.6 L1023.7,822.0 L1024.1,821.6 L1024.5,821.1 L1024.9,820.8 L1025.3,821.1 L1025.7,821.1 L1026.1,821.4 L1026.5,821.3 L1026.9,820.9 L1027.3,820.7 L1027.8,820.9 L1028.2,820.8 L1028.6,820.8 L1029.0,821.3 L1029.4,820.8 L1029.8,821.9 L1030.2,821.5 L1030.6,821.3 L1031.0,821.6 L1031.4,821.0 L1031.8,820.6 L1032.2,820.7 L1032.6,821.1 L1033.0,821.2 L1033.4,821.0 L1033.8,821.1 L1034.2,821.9 L1034.6,820.6 L1035.0,821.3 L1035.4,821.2 L1035.8,821.1 L1036.2,821.8 L1036.6,821.0 L1037.0,820.7 L1037.4,820.9 L1037.8,822.2 L1038.2,821.2 L1038.6,820.8 L1039.1,822.2 L1039.5,821.6 L1039.9,822.1 L1040.3,821.1 L1040.7,821.9 L1041.1,820.7 L1041.5,821.0 L1041.9,821.9 L1042.3,821.4 L1042.7,821.9 L1043.1,821.2 L1043.5,822.0 L1043.9,820.7 L1044.3,821.6 L1044.7,820.9 L1045.1,820.9 L1045.5,822.0 L1045.9,821.3 L1046.3,821.9 L1046.7,821.1 L1047.1,821.8 L1047.5,822.1 L1047.9,821.6 L1048.3,821.0 L1048.7,821.7 L1049.1,822.1 L1049.5,821.9 L1049.9,821.3 L1050.4,821.2 L1050.8,820.8 L1051.2,821.8 L1051.6,820.9 L1052.0,820.9 L1052.4,820.7 L1052.8,820.9 L1053.2,821.2 L1053.6,821.4 L1054.0,820.9 L1054.4,821.3 L1054.8,821.8 L1055.2,820.8 L1055.6,820.8 L1056.0,821.4" fill="none" stroke="#111" stroke-width="1.6" stroke-linejoin="round"/>
<path d="M962.4,824.5 L962.9,824.7 L963.4,825.1 L963.8,825.3 L964.3,825.4 L964.8,825.0 L965.3,792.6 L965.8,760.0 L966.2,716.5 L966.7,672.9 L967.2,681.4 L967.8,689.8 L968.3,698.2 L968.8,707.2 L969.2,716.2 L969.7,725.1 L970.1,728.9 L970.5,732.9 L970.9,736.9 L971.3,741.0 L971.7,745.4 L972.1,748.7 L972.6,752.2 L973.0,755.1 L973.4,758.5 L973.9,761.4 L974.3,764.8 L974.8,768.0 L975.2,771.7 L975.6,775.1 L976.1,778.4 L976.5,781.5 L977.0,784.9 L977.4,785.8 L977.8,787.6 L978.3,788.5 L978.7,789.8 L979.1,791.0 L979.5,791.5 L980.0,792.5 L980.4,793.8 L980.8,795.7 L981.2,796.3 L981.6,796.6 L982.1,797.8 L982.5,798.0 L982.9,799.4 L983.3,799.2 L983.8,800.7 L984.2,801.8 L984.6,801.9 L985.0,802.7 L985.4,803.0 L985.9,803.9 L986.3,804.6 L986.7,805.5 L987.1,805.5 L987.5,806.1 L987.9,806.2 L988.4,807.0 L988.8,807.2 L989.2,807.3 L989.6,808.5 L990.0,808.1 L990.4,808.7 L990.8,809.5 L991.3,809.6 L991.7,810.2 L992.1,810.1 L992.5,810.7 L992.9,810.0 L993.3,811.1 L993.7,810.9 L994.2,811.1 L994.6,811.9 L995.0,812.1 L995.4,811.9 L995.8,812.1 L996.2,812.3 L996.6,813.3 L997.1,813.2 L997.5,813.0 L997.9,813.6 L998.3,813.3 L998.7,813.9 L999.1,814.6 L999.6,815.6 L1000.0,815.9 L1000.4,816.0 L1000.8,816.6 L1001.2,816.5 L1001.7,817.4 L1002.1,818.2 L1002.5,817.6 L1002.9,819.0 L1003.4,819.4 L1003.8,819.1 L1004.2,820.1 L1004.6,820.6 L1005.0,819.9 L1005.4,820.6 L1005.9,821.1 L1006.3,821.7 L1006.7,821.4 L1007.1,822.3 L1007.5,822.6 L1007.9,823.1 L1008.3,823.3 L1008.8,823.7 L1009.2,823.8 L1009.6,824.0 L1010.0,824.3 L1010.4,824.2 L1010.8,824.3 L1011.2,824.3 L1011.6,824.2 L1012.0,823.9 L1012.4,824.2 L1012.8,824.9 L1013.2,824.1 L1013.6,824.9 L1014.0,824.8 L1014.4,824.3 L1014.8,824.0 L1015.2,824.8 L1015.6,824.9 L1016.0,824.2 L1016.4,824.6 L1016.8,824.7 L1017.2,824.5 L1017.6,823.9 L1018.0,824.1 L1018.4,824.7 L1018.8,824.6 L1019.2,824.6 L1019.6,824.2 L1020.0,824.9 L1020.4,824.8 L1020.8,824.4 L1021.2,824.9 L1021.6,824.2 L1022.0,824.5 L1022.4,824.5 L1022.8,825.0 L1023.2,825.0 L1023.6,824.3 L1024.0,824.8 L1024.4,824.2 L1024.8,825.0 L1025.2,825.0 L1025.6,824.7 L1026.0,824.0 L1026.4,824.3 L1026.8,824.1 L1027.2,824.5 L1027.6,824.0 L1028.0,824.0 L1028.4,824.1 L1028.8,825.0 L1029.2,824.7 L1029.6,825.0 L1030.0,825.1 L1030.4,824.6 L1030.8,825.0 L1031.2,824.5 L1031.6,824.7 L1032.0,824.2 L1032.4,824.5 L1032.8,824.1 L1033.2,824.6 L1033.6,825.2 L1034.0,825.2 L1034.4,824.9 L1034.8,824.1 L1035.2,825.2 L1035.6,824.7 L1036.0,824.8 L1036.4,824.5 L1036.8,825.0 L1037.2,824.4 L1037.6,824.2 L1038.0,824.6 L1038.4,824.3 L1038.8,824.3 L1039.2,824.3 L1039.6,824.9 L1040.0,824.9 L1040.4,824.4 L1040.8,824.9 L1041.2,824.1 L1041.6,825.2 L1042.0,824.4 L1042.4,824.7 L1042.8,824.6 L1043.2,825.2 L1043.6,824.7 L1044.0,824.3 L1044.4,825.2 L1044.8,824.9 L1045.2,824.5 L1045.6,825.0 L1046.0,825.2 L1046.4,825.1 L1046.8,825.1 L1047.2,824.6 L1047.6,824.5 L1048.0,824.3 L1048.4,825.3 L1048.8,824.5 L1049.2,824.7 L1049.6,825.2 L1050.0,824.4 L1050.4,825.3 L1050.8,824.9 L1051.2,824.4 L1051.6,825.2 L1052.0,825.1 L1052.4,824.3 L1052.8,824.8 L1053.2,825.1 L1053.6,824.6 L1054.0,824.7 L1054.4,825.3 L1054.8,824.5 L1055.2,824.6 L1055.6,824.4 L1056.0,824.9" fill="none" stroke="#d589ae" stroke-width="1.2" stroke-linejoin="round"/>
<path d="M1125.3,742.4 L1125.3,800.8 L1153.1,800.8" fill="none" stroke="#000" stroke-width="2.5"/>
<text x="1114.8" y="796.6" font-size="28" transform="rotate(-90 1114.8 796.6)" textLength="61.2" lengthAdjust="spacingAndGlyphs" fill="#231f20">2 mV</text>
<text x="1119.7" y="827.2" font-size="27" textLength="49.7" lengthAdjust="spacingAndGlyphs" fill="#231f20">0. s</text>
<path d="M1148.20,827.20 L1148.20,810.89 L1144.12,813.88 L1144.12,811.64 L1148.39,808.62 L1150.52,808.62 L1150.52,827.20 Z" fill="#231f20"/>
<rect x="1159.20" y="753.21" width="7.62" height="3.74" fill="#000"/>
<path d="M1179.80,741.00 L1179.80,763.00 L1174.34,763.00 L1174.34,747.82 L1168.88,747.82 L1168.88,745.29 Q1173.47,744.74 1175.21,741.00 Z" fill="#000"/>
<text x="1158.1" y="791.0" font-size="31" font-weight="bold" textLength="26.1" lengthAdjust="spacingAndGlyphs" fill="#d589ae">-2</text>
<ellipse cx="762.0" cy="846.4" rx="14.5" ry="17.2" fill="#dfdfe1" stroke="#000" stroke-width="3.8"/>
<text x="784.1" y="867.0" font-size="30" font-weight="bold" textLength="108.3" lengthAdjust="spacingAndGlyphs" fill="#231f20">Control</text>
<ellipse cx="950.4" cy="846.0" rx="14.5" ry="17.0" fill="#358944" stroke="#000" stroke-width="3.8"/>
<text x="974.6" y="867.0" font-size="30" font-weight="bold" textLength="81.6" lengthAdjust="spacingAndGlyphs" fill="#231f20">LP-44</text>
<line x1="734.5" y1="864.3" x2="734.5" y2="1354.1" stroke="#000" stroke-width="4.2"/>
<line x1="721.1" y1="866.5" x2="736.6" y2="866.5" stroke="#000" stroke-width="4.4"/>
<line x1="721.1" y1="937.3" x2="736.6" y2="937.3" stroke="#000" stroke-width="4.4"/>
<line x1="721.1" y1="1007.1" x2="736.6" y2="1007.1" stroke="#000" stroke-width="4.4"/>
<line x1="721.1" y1="1075.8" x2="736.6" y2="1075.8" stroke="#000" stroke-width="4.4"/>
<line x1="721.1" y1="1144.7" x2="736.6" y2="1144.7" stroke="#000" stroke-width="4.4"/>
<line x1="721.1" y1="1213.4" x2="736.6" y2="1213.4" stroke="#000" stroke-width="4.4"/>
<line x1="721.1" y1="1282.6" x2="736.6" y2="1282.6" stroke="#000" stroke-width="4.4"/>
<line x1="721.1" y1="1351.9" x2="736.6" y2="1351.9" stroke="#000" stroke-width="4.4"/>
<line x1="774.4" y1="1350.0" x2="1159.1" y2="1350.0" stroke="#000" stroke-width="4.2"/>
<line x1="776.6" y1="1347.9" x2="776.6" y2="1362.9" stroke="#000" stroke-width="4.4"/>
<line x1="852.7" y1="1347.9" x2="852.7" y2="1362.9" stroke="#000" stroke-width="4.4"/>
<line x1="928.8" y1="1347.9" x2="928.8" y2="1362.9" stroke="#000" stroke-width="4.4"/>
<line x1="1004.8" y1="1347.9" x2="1004.8" y2="1362.9" stroke="#000" stroke-width="4.4"/>
<line x1="1080.9" y1="1347.9" x2="1080.9" y2="1362.9" stroke="#000" stroke-width="4.4"/>
<line x1="1156.9" y1="1347.9" x2="1156.9" y2="1362.9" stroke="#000" stroke-width="4.4"/>
<text x="669.6" y="878.2" font-size="31.8" textLength="46.7" lengthAdjust="spacingAndGlyphs" fill="#231f20">400</text>
<text x="669.6" y="949.0" font-size="31.8" textLength="46.7" lengthAdjust="spacingAndGlyphs" fill="#231f20">350</text>
<text x="669.6" y="1018.8" font-size="31.8" textLength="46.7" lengthAdjust="spacingAndGlyphs" fill="#231f20">300</text>
<text x="669.6" y="1087.5" font-size="31.8" textLength="46.7" lengthAdjust="spacingAndGlyphs" fill="#231f20">250</text>
<text x="669.6" y="1156.4" font-size="31.8" textLength="46.7" lengthAdjust="spacingAndGlyphs" fill="#231f20">200</text>
<text x="669.6" y="1225.1" font-size="31.8" textLength="46.7" lengthAdjust="spacingAndGlyphs" fill="#231f20"> 50</text>
<path d="M676.64,1225.09 L676.64,1205.88 L672.29,1209.41 L672.29,1206.77 L676.84,1203.21 L679.11,1203.21 L679.11,1225.09 Z" fill="#231f20"/>
<text x="669.6" y="1294.3" font-size="31.8" textLength="46.7" lengthAdjust="spacingAndGlyphs" fill="#231f20"> 00</text>
<path d="M676.64,1294.29 L676.64,1275.08 L672.29,1278.61 L672.29,1275.97 L676.84,1272.41 L679.11,1272.41 L679.11,1294.29 Z" fill="#231f20"/>
<text x="685.2" y="1363.6" font-size="31.8" textLength="31.1" lengthAdjust="spacingAndGlyphs" fill="#231f20">50</text>
<text x="751.5" y="1389.3" font-size="31.5" textLength="44.6" lengthAdjust="spacingAndGlyphs" fill="#231f20">- 0</text>
<path d="M769.59,1389.30 L769.59,1370.27 L764.80,1373.77 L764.80,1371.15 L769.82,1367.63 L772.32,1367.63 L772.32,1389.30 Z" fill="#231f20"/>
<text x="844.1" y="1389.3" font-size="31.5" textLength="17.2" lengthAdjust="spacingAndGlyphs" fill="#231f20">0</text>
<text x="910.7" y="1389.3" font-size="31.5" textLength="34.3" lengthAdjust="spacingAndGlyphs" fill="#231f20"> 0</text>
<path d="M918.47,1389.30 L918.47,1370.27 L913.68,1373.77 L913.68,1371.15 L918.70,1367.63 L921.20,1367.63 L921.20,1389.30 Z" fill="#231f20"/>
<text x="987.5" y="1389.3" font-size="31.5" textLength="34.3" lengthAdjust="spacingAndGlyphs" fill="#231f20">20</text>
<text x="1063.7" y="1389.3" font-size="31.5" textLength="34.3" lengthAdjust="spacingAndGlyphs" fill="#231f20">30</text>
<text x="1140.0" y="1389.3" font-size="31.5" textLength="34.3" lengthAdjust="spacingAndGlyphs" fill="#231f20">40</text>
<text x="634.6" y="1263.8" font-size="29.7" transform="rotate(-90 634.6 1263.8)" textLength="370.3" lengthAdjust="spacingAndGlyphs" fill="#231f20">Postsynaptic Response (%)</text>
<text x="775.8" y="1420.4" font-size="30" textLength="390.6" lengthAdjust="spacingAndGlyphs" fill="#231f20">Time after the induction (min)</text>
<path d="M853.5,1321.2 L867.5,1335.5 L861.0,1335.5 L861.0,1343.8 L846.0,1343.8 L846.0,1335.5 L839.5,1335.5 Z" fill="#231f20"/>
<line x1="782.5" y1="1275.7" x2="782.5" y2="1286.8" stroke="#000" stroke-width="3.5"/>
<line x1="790.1" y1="1278.4" x2="790.1" y2="1289.5" stroke="#000" stroke-width="3.5"/>
<line x1="797.7" y1="1274.3" x2="797.7" y2="1285.4" stroke="#000" stroke-width="3.5"/>
<line x1="805.3" y1="1277.1" x2="805.3" y2="1288.1" stroke="#000" stroke-width="3.5"/>
<line x1="812.9" y1="1279.8" x2="812.9" y2="1290.9" stroke="#000" stroke-width="3.5"/>
<line x1="820.5" y1="1275.7" x2="820.5" y2="1286.8" stroke="#000" stroke-width="3.5"/>
<line x1="828.1" y1="1278.4" x2="828.1" y2="1289.5" stroke="#000" stroke-width="3.5"/>
<line x1="835.7" y1="1277.1" x2="835.7" y2="1288.1" stroke="#000" stroke-width="3.5"/>
<line x1="843.3" y1="1274.3" x2="843.3" y2="1285.4" stroke="#000" stroke-width="3.5"/>
<line x1="851.0" y1="1277.1" x2="851.0" y2="1288.1" stroke="#000" stroke-width="3.5"/>
<line x1="858.6" y1="1226.2" x2="858.6" y2="1259.4" stroke="#000" stroke-width="3.5"/>
<line x1="866.2" y1="1237.5" x2="866.2" y2="1265.3" stroke="#000" stroke-width="3.5"/>
<line x1="873.8" y1="1247.9" x2="873.8" y2="1272.9" stroke="#000" stroke-width="3.5"/>
<line x1="881.4" y1="1256.3" x2="881.4" y2="1281.2" stroke="#000" stroke-width="3.5"/>
<line x1="889.0" y1="1259.0" x2="889.0" y2="1284.0" stroke="#000" stroke-width="3.5"/>
<line x1="896.6" y1="1261.8" x2="896.6" y2="1286.8" stroke="#000" stroke-width="3.5"/>
<line x1="904.2" y1="1263.2" x2="904.2" y2="1290.9" stroke="#000" stroke-width="3.5"/>
<line x1="911.8" y1="1264.6" x2="911.8" y2="1292.3" stroke="#000" stroke-width="3.5"/>
<line x1="919.4" y1="1267.3" x2="919.4" y2="1295.1" stroke="#000" stroke-width="3.5"/>
<line x1="927.0" y1="1268.7" x2="927.0" y2="1296.5" stroke="#000" stroke-width="3.5"/>
<line x1="934.6" y1="1271.5" x2="934.6" y2="1299.2" stroke="#000" stroke-width="3.5"/>
<line x1="942.2" y1="1271.5" x2="942.2" y2="1302.0" stroke="#000" stroke-width="3.5"/>
<line x1="949.8" y1="1272.9" x2="949.8" y2="1303.4" stroke="#000" stroke-width="3.5"/>
<line x1="957.4" y1="1275.7" x2="957.4" y2="1306.2" stroke="#000" stroke-width="3.5"/>
<line x1="965.0" y1="1278.4" x2="965.0" y2="1308.9" stroke="#000" stroke-width="3.5"/>
<line x1="972.6" y1="1281.2" x2="972.6" y2="1311.7" stroke="#000" stroke-width="3.5"/>
<line x1="980.3" y1="1278.4" x2="980.3" y2="1308.9" stroke="#000" stroke-width="3.5"/>
<line x1="987.9" y1="1281.2" x2="987.9" y2="1314.5" stroke="#000" stroke-width="3.5"/>
<line x1="995.5" y1="1284.0" x2="995.5" y2="1314.5" stroke="#000" stroke-width="3.5"/>
<line x1="1003.1" y1="1286.8" x2="1003.1" y2="1317.3" stroke="#000" stroke-width="3.5"/>
<line x1="1010.7" y1="1279.8" x2="1010.7" y2="1313.1" stroke="#000" stroke-width="3.5"/>
<line x1="1018.3" y1="1284.0" x2="1018.3" y2="1314.5" stroke="#000" stroke-width="3.5"/>
<line x1="1025.9" y1="1285.4" x2="1025.9" y2="1318.7" stroke="#000" stroke-width="3.5"/>
<line x1="1033.5" y1="1282.6" x2="1033.5" y2="1315.9" stroke="#000" stroke-width="3.5"/>
<line x1="1041.1" y1="1279.8" x2="1041.1" y2="1313.1" stroke="#000" stroke-width="3.5"/>
<line x1="1048.7" y1="1278.4" x2="1048.7" y2="1308.9" stroke="#000" stroke-width="3.5"/>
<line x1="1056.3" y1="1274.3" x2="1056.3" y2="1307.6" stroke="#000" stroke-width="3.5"/>
<line x1="1063.9" y1="1272.9" x2="1063.9" y2="1306.2" stroke="#000" stroke-width="3.5"/>
<line x1="1071.5" y1="1275.7" x2="1071.5" y2="1308.9" stroke="#000" stroke-width="3.5"/>
<line x1="1079.1" y1="1271.5" x2="1079.1" y2="1302.0" stroke="#000" stroke-width="3.5"/>
<line x1="1086.7" y1="1274.3" x2="1086.7" y2="1307.6" stroke="#000" stroke-width="3.5"/>
<line x1="1094.3" y1="1277.1" x2="1094.3" y2="1310.3" stroke="#000" stroke-width="3.5"/>
<line x1="1101.9" y1="1277.1" x2="1101.9" y2="1307.6" stroke="#000" stroke-width="3.5"/>
<line x1="1109.6" y1="1272.9" x2="1109.6" y2="1306.2" stroke="#000" stroke-width="3.5"/>
<line x1="1117.2" y1="1277.1" x2="1117.2" y2="1310.3" stroke="#000" stroke-width="3.5"/>
<line x1="1124.8" y1="1281.2" x2="1124.8" y2="1311.7" stroke="#000" stroke-width="3.5"/>
<line x1="1132.4" y1="1281.2" x2="1132.4" y2="1314.5" stroke="#000" stroke-width="3.5"/>
<line x1="1140.0" y1="1278.4" x2="1140.0" y2="1311.7" stroke="#000" stroke-width="3.5"/>
<line x1="1147.6" y1="1275.7" x2="1147.6" y2="1308.9" stroke="#000" stroke-width="3.5"/>
<line x1="1155.2" y1="1274.3" x2="1155.2" y2="1307.6" stroke="#000" stroke-width="3.5"/>
<line x1="782.5" y1="1272.9" x2="782.5" y2="1286.8" stroke="#000" stroke-width="3.5"/>
<line x1="790.1" y1="1271.5" x2="790.1" y2="1285.4" stroke="#000" stroke-width="3.5"/>
<line x1="797.7" y1="1274.3" x2="797.7" y2="1288.1" stroke="#000" stroke-width="3.5"/>
<line x1="805.3" y1="1271.5" x2="805.3" y2="1285.4" stroke="#000" stroke-width="3.5"/>
<line x1="812.9" y1="1277.1" x2="812.9" y2="1290.9" stroke="#000" stroke-width="3.5"/>
<line x1="820.5" y1="1274.3" x2="820.5" y2="1288.1" stroke="#000" stroke-width="3.5"/>
<line x1="828.1" y1="1278.4" x2="828.1" y2="1292.3" stroke="#000" stroke-width="3.5"/>
<line x1="835.7" y1="1275.7" x2="835.7" y2="1289.5" stroke="#000" stroke-width="3.5"/>
<line x1="843.3" y1="1278.4" x2="843.3" y2="1292.3" stroke="#000" stroke-width="3.5"/>
<line x1="851.0" y1="1275.7" x2="851.0" y2="1289.5" stroke="#000" stroke-width="3.5"/>
<line x1="858.6" y1="884.6" x2="858.6" y2="1105.1" stroke="#000" stroke-width="3.5"/>
<line x1="866.2" y1="904.0" x2="866.2" y2="1089.8" stroke="#000" stroke-width="3.5"/>
<line x1="873.8" y1="1043.3" x2="873.8" y2="1244.3" stroke="#000" stroke-width="3.5"/>
<line x1="881.4" y1="1043.0" x2="881.4" y2="1201.1" stroke="#000" stroke-width="3.5"/>
<line x1="889.0" y1="1044.8" x2="889.0" y2="1222.3" stroke="#000" stroke-width="3.5"/>
<line x1="896.6" y1="1166.1" x2="896.6" y2="1252.1" stroke="#000" stroke-width="3.5"/>
<line x1="904.2" y1="1174.4" x2="904.2" y2="1252.1" stroke="#000" stroke-width="3.5"/>
<line x1="911.8" y1="1192.5" x2="911.8" y2="1275.7" stroke="#000" stroke-width="3.5"/>
<line x1="919.4" y1="1198.0" x2="919.4" y2="1278.4" stroke="#000" stroke-width="3.5"/>
<line x1="927.0" y1="1200.8" x2="927.0" y2="1284.0" stroke="#000" stroke-width="3.5"/>
<line x1="934.6" y1="1211.9" x2="934.6" y2="1286.8" stroke="#000" stroke-width="3.5"/>
<line x1="942.2" y1="1218.8" x2="942.2" y2="1296.5" stroke="#000" stroke-width="3.5"/>
<line x1="949.8" y1="1220.2" x2="949.8" y2="1300.6" stroke="#000" stroke-width="3.5"/>
<line x1="957.4" y1="1231.3" x2="957.4" y2="1281.2" stroke="#000" stroke-width="3.5"/>
<line x1="965.0" y1="1223.0" x2="965.0" y2="1281.2" stroke="#000" stroke-width="3.5"/>
<line x1="972.6" y1="1220.2" x2="972.6" y2="1275.7" stroke="#000" stroke-width="3.5"/>
<line x1="980.3" y1="1214.7" x2="980.3" y2="1286.8" stroke="#000" stroke-width="3.5"/>
<line x1="987.9" y1="1218.8" x2="987.9" y2="1288.1" stroke="#000" stroke-width="3.5"/>
<line x1="995.5" y1="1228.5" x2="995.5" y2="1284.0" stroke="#000" stroke-width="3.5"/>
<line x1="1003.1" y1="1229.9" x2="1003.1" y2="1296.5" stroke="#000" stroke-width="3.5"/>
<line x1="1010.7" y1="1229.9" x2="1010.7" y2="1302.0" stroke="#000" stroke-width="3.5"/>
<line x1="1018.3" y1="1229.9" x2="1018.3" y2="1307.6" stroke="#000" stroke-width="3.5"/>
<line x1="1025.9" y1="1234.1" x2="1025.9" y2="1308.9" stroke="#000" stroke-width="3.5"/>
<line x1="1033.5" y1="1235.5" x2="1033.5" y2="1315.9" stroke="#000" stroke-width="3.5"/>
<line x1="1041.1" y1="1241.0" x2="1041.1" y2="1315.9" stroke="#000" stroke-width="3.5"/>
<line x1="1048.7" y1="1239.6" x2="1048.7" y2="1322.8" stroke="#000" stroke-width="3.5"/>
<line x1="1056.3" y1="1238.2" x2="1056.3" y2="1315.9" stroke="#000" stroke-width="3.5"/>
<line x1="1063.9" y1="1234.1" x2="1063.9" y2="1306.2" stroke="#000" stroke-width="3.5"/>
<line x1="1071.5" y1="1234.1" x2="1071.5" y2="1314.5" stroke="#000" stroke-width="3.5"/>
<line x1="1079.1" y1="1236.8" x2="1079.1" y2="1322.8" stroke="#000" stroke-width="3.5"/>
<line x1="1086.7" y1="1245.2" x2="1086.7" y2="1320.0" stroke="#000" stroke-width="3.5"/>
<line x1="1094.3" y1="1246.5" x2="1094.3" y2="1324.2" stroke="#000" stroke-width="3.5"/>
<line x1="1101.9" y1="1241.0" x2="1101.9" y2="1324.2" stroke="#000" stroke-width="3.5"/>
<line x1="1109.6" y1="1242.4" x2="1109.6" y2="1317.3" stroke="#000" stroke-width="3.5"/>
<line x1="1117.2" y1="1241.0" x2="1117.2" y2="1313.1" stroke="#000" stroke-width="3.5"/>
<line x1="1124.8" y1="1238.2" x2="1124.8" y2="1318.7" stroke="#000" stroke-width="3.5"/>
<line x1="1132.4" y1="1242.4" x2="1132.4" y2="1320.0" stroke="#000" stroke-width="3.5"/>
<line x1="1140.0" y1="1247.9" x2="1140.0" y2="1322.8" stroke="#000" stroke-width="3.5"/>
<line x1="1147.6" y1="1254.9" x2="1147.6" y2="1338.1" stroke="#000" stroke-width="3.5"/>
<line x1="1155.2" y1="1241.0" x2="1155.2" y2="1318.7" stroke="#000" stroke-width="3.5"/>
<ellipse cx="782.5" cy="1281.2" rx="16.7" ry="15.6" fill="#dfdfe1" stroke="#000" stroke-width="3.5"/>
<ellipse cx="790.1" cy="1284.0" rx="16.7" ry="15.6" fill="#dfdfe1" stroke="#000" stroke-width="3.5"/>
<ellipse cx="797.7" cy="1279.8" rx="16.7" ry="15.6" fill="#dfdfe1" stroke="#000" stroke-width="3.5"/>
<ellipse cx="805.3" cy="1282.6" rx="16.7" ry="15.6" fill="#dfdfe1" stroke="#000" stroke-width="3.5"/>
<ellipse cx="812.9" cy="1285.4" rx="16.7" ry="15.6" fill="#dfdfe1" stroke="#000" stroke-width="3.5"/>
<ellipse cx="820.5" cy="1281.2" rx="16.7" ry="15.6" fill="#dfdfe1" stroke="#000" stroke-width="3.5"/>
<ellipse cx="828.1" cy="1284.0" rx="16.7" ry="15.6" fill="#dfdfe1" stroke="#000" stroke-width="3.5"/>
<ellipse cx="835.7" cy="1282.6" rx="16.7" ry="15.6" fill="#dfdfe1" stroke="#000" stroke-width="3.5"/>
<ellipse cx="843.3" cy="1279.8" rx="16.7" ry="15.6" fill="#dfdfe1" stroke="#000" stroke-width="3.5"/>
<ellipse cx="851.0" cy="1282.6" rx="16.7" ry="15.6" fill="#dfdfe1" stroke="#000" stroke-width="3.5"/>
<ellipse cx="858.6" cy="1242.8" rx="16.7" ry="15.6" fill="#dfdfe1" stroke="#000" stroke-width="3.5"/>
<ellipse cx="866.2" cy="1251.4" rx="16.7" ry="15.6" fill="#dfdfe1" stroke="#000" stroke-width="3.5"/>
<ellipse cx="873.8" cy="1260.4" rx="16.7" ry="15.6" fill="#dfdfe1" stroke="#000" stroke-width="3.5"/>
<ellipse cx="881.4" cy="1268.7" rx="16.7" ry="15.6" fill="#dfdfe1" stroke="#000" stroke-width="3.5"/>
<ellipse cx="889.0" cy="1271.5" rx="16.7" ry="15.6" fill="#dfdfe1" stroke="#000" stroke-width="3.5"/>
<ellipse cx="896.6" cy="1274.3" rx="16.7" ry="15.6" fill="#dfdfe1" stroke="#000" stroke-width="3.5"/>
<ellipse cx="904.2" cy="1277.1" rx="16.7" ry="15.6" fill="#dfdfe1" stroke="#000" stroke-width="3.5"/>
<ellipse cx="911.8" cy="1278.4" rx="16.7" ry="15.6" fill="#dfdfe1" stroke="#000" stroke-width="3.5"/>
<ellipse cx="919.4" cy="1281.2" rx="16.7" ry="15.6" fill="#dfdfe1" stroke="#000" stroke-width="3.5"/>
<ellipse cx="927.0" cy="1282.6" rx="16.7" ry="15.6" fill="#dfdfe1" stroke="#000" stroke-width="3.5"/>
<ellipse cx="934.6" cy="1285.4" rx="16.7" ry="15.6" fill="#dfdfe1" stroke="#000" stroke-width="3.5"/>
<ellipse cx="942.2" cy="1286.8" rx="16.7" ry="15.6" fill="#dfdfe1" stroke="#000" stroke-width="3.5"/>
<ellipse cx="949.8" cy="1288.1" rx="16.7" ry="15.6" fill="#dfdfe1" stroke="#000" stroke-width="3.5"/>
<ellipse cx="957.4" cy="1290.9" rx="16.7" ry="15.6" fill="#dfdfe1" stroke="#000" stroke-width="3.5"/>
<ellipse cx="965.0" cy="1293.7" rx="16.7" ry="15.6" fill="#dfdfe1" stroke="#000" stroke-width="3.5"/>
<ellipse cx="972.6" cy="1296.5" rx="16.7" ry="15.6" fill="#dfdfe1" stroke="#000" stroke-width="3.5"/>
<ellipse cx="980.3" cy="1293.7" rx="16.7" ry="15.6" fill="#dfdfe1" stroke="#000" stroke-width="3.5"/>
<ellipse cx="987.9" cy="1297.9" rx="16.7" ry="15.6" fill="#dfdfe1" stroke="#000" stroke-width="3.5"/>
<ellipse cx="995.5" cy="1299.2" rx="16.7" ry="15.6" fill="#dfdfe1" stroke="#000" stroke-width="3.5"/>
<ellipse cx="1003.1" cy="1302.0" rx="16.7" ry="15.6" fill="#dfdfe1" stroke="#000" stroke-width="3.5"/>
<ellipse cx="1010.7" cy="1296.5" rx="16.7" ry="15.6" fill="#dfdfe1" stroke="#000" stroke-width="3.5"/>
<ellipse cx="1018.3" cy="1299.2" rx="16.7" ry="15.6" fill="#dfdfe1" stroke="#000" stroke-width="3.5"/>
<ellipse cx="1025.9" cy="1302.0" rx="16.7" ry="15.6" fill="#dfdfe1" stroke="#000" stroke-width="3.5"/>
<ellipse cx="1033.5" cy="1299.2" rx="16.7" ry="15.6" fill="#dfdfe1" stroke="#000" stroke-width="3.5"/>
<ellipse cx="1041.1" cy="1296.5" rx="16.7" ry="15.6" fill="#dfdfe1" stroke="#000" stroke-width="3.5"/>
<ellipse cx="1048.7" cy="1293.7" rx="16.7" ry="15.6" fill="#dfdfe1" stroke="#000" stroke-width="3.5"/>
<ellipse cx="1056.3" cy="1290.9" rx="16.7" ry="15.6" fill="#dfdfe1" stroke="#000" stroke-width="3.5"/>
<ellipse cx="1063.9" cy="1289.5" rx="16.7" ry="15.6" fill="#dfdfe1" stroke="#000" stroke-width="3.5"/>
<ellipse cx="1071.5" cy="1292.3" rx="16.7" ry="15.6" fill="#dfdfe1" stroke="#000" stroke-width="3.5"/>
<ellipse cx="1079.1" cy="1286.8" rx="16.7" ry="15.6" fill="#dfdfe1" stroke="#000" stroke-width="3.5"/>
<ellipse cx="1086.7" cy="1290.9" rx="16.7" ry="15.6" fill="#dfdfe1" stroke="#000" stroke-width="3.5"/>
<ellipse cx="1094.3" cy="1293.7" rx="16.7" ry="15.6" fill="#dfdfe1" stroke="#000" stroke-width="3.5"/>
<ellipse cx="1101.9" cy="1292.3" rx="16.7" ry="15.6" fill="#dfdfe1" stroke="#000" stroke-width="3.5"/>
<ellipse cx="1109.6" cy="1289.5" rx="16.7" ry="15.6" fill="#dfdfe1" stroke="#000" stroke-width="3.5"/>
<ellipse cx="1117.2" cy="1293.7" rx="16.7" ry="15.6" fill="#dfdfe1" stroke="#000" stroke-width="3.5"/>
<ellipse cx="1124.8" cy="1296.5" rx="16.7" ry="15.6" fill="#dfdfe1" stroke="#000" stroke-width="3.5"/>
<ellipse cx="1132.4" cy="1297.9" rx="16.7" ry="15.6" fill="#dfdfe1" stroke="#000" stroke-width="3.5"/>
<ellipse cx="1140.0" cy="1295.1" rx="16.7" ry="15.6" fill="#dfdfe1" stroke="#000" stroke-width="3.5"/>
<ellipse cx="1147.6" cy="1292.3" rx="16.7" ry="15.6" fill="#dfdfe1" stroke="#000" stroke-width="3.5"/>
<ellipse cx="1155.2" cy="1290.9" rx="16.7" ry="15.6" fill="#dfdfe1" stroke="#000" stroke-width="3.5"/>
<ellipse cx="782.5" cy="1279.8" rx="16.7" ry="15.6" fill="#358944" stroke="#000" stroke-width="3.5"/>
<ellipse cx="790.1" cy="1278.4" rx="16.7" ry="15.6" fill="#358944" stroke="#000" stroke-width="3.5"/>
<ellipse cx="797.7" cy="1281.2" rx="16.7" ry="15.6" fill="#358944" stroke="#000" stroke-width="3.5"/>
<ellipse cx="805.3" cy="1278.4" rx="16.7" ry="15.6" fill="#358944" stroke="#000" stroke-width="3.5"/>
<ellipse cx="812.9" cy="1284.0" rx="16.7" ry="15.6" fill="#358944" stroke="#000" stroke-width="3.5"/>
<ellipse cx="820.5" cy="1281.2" rx="16.7" ry="15.6" fill="#358944" stroke="#000" stroke-width="3.5"/>
<ellipse cx="828.1" cy="1285.4" rx="16.7" ry="15.6" fill="#358944" stroke="#000" stroke-width="3.5"/>
<ellipse cx="835.7" cy="1282.6" rx="16.7" ry="15.6" fill="#358944" stroke="#000" stroke-width="3.5"/>
<ellipse cx="843.3" cy="1285.4" rx="16.7" ry="15.6" fill="#358944" stroke="#000" stroke-width="3.5"/>
<ellipse cx="851.0" cy="1282.6" rx="16.7" ry="15.6" fill="#358944" stroke="#000" stroke-width="3.5"/>
<ellipse cx="858.6" cy="992.8" rx="16.7" ry="15.6" fill="#358944" stroke="#000" stroke-width="3.5"/>
<ellipse cx="866.2" cy="1031.6" rx="16.7" ry="15.6" fill="#358944" stroke="#000" stroke-width="3.5"/>
<ellipse cx="873.8" cy="1168.1" rx="16.7" ry="15.6" fill="#358944" stroke="#000" stroke-width="3.5"/>
<ellipse cx="881.4" cy="1122.0" rx="16.7" ry="15.6" fill="#358944" stroke="#000" stroke-width="3.5"/>
<ellipse cx="889.0" cy="1133.5" rx="16.7" ry="15.6" fill="#358944" stroke="#000" stroke-width="3.5"/>
<ellipse cx="896.6" cy="1209.1" rx="16.7" ry="15.6" fill="#358944" stroke="#000" stroke-width="3.5"/>
<ellipse cx="904.2" cy="1213.3" rx="16.7" ry="15.6" fill="#358944" stroke="#000" stroke-width="3.5"/>
<ellipse cx="911.8" cy="1234.1" rx="16.7" ry="15.6" fill="#358944" stroke="#000" stroke-width="3.5"/>
<ellipse cx="919.4" cy="1238.2" rx="16.7" ry="15.6" fill="#358944" stroke="#000" stroke-width="3.5"/>
<ellipse cx="927.0" cy="1242.4" rx="16.7" ry="15.6" fill="#358944" stroke="#000" stroke-width="3.5"/>
<ellipse cx="934.6" cy="1249.3" rx="16.7" ry="15.6" fill="#358944" stroke="#000" stroke-width="3.5"/>
<ellipse cx="942.2" cy="1257.6" rx="16.7" ry="15.6" fill="#358944" stroke="#000" stroke-width="3.5"/>
<ellipse cx="949.8" cy="1260.4" rx="16.7" ry="15.6" fill="#358944" stroke="#000" stroke-width="3.5"/>
<ellipse cx="957.4" cy="1256.3" rx="16.7" ry="15.6" fill="#358944" stroke="#000" stroke-width="3.5"/>
<ellipse cx="965.0" cy="1252.1" rx="16.7" ry="15.6" fill="#358944" stroke="#000" stroke-width="3.5"/>
<ellipse cx="972.6" cy="1247.9" rx="16.7" ry="15.6" fill="#358944" stroke="#000" stroke-width="3.5"/>
<ellipse cx="980.3" cy="1250.7" rx="16.7" ry="15.6" fill="#358944" stroke="#000" stroke-width="3.5"/>
<ellipse cx="987.9" cy="1253.5" rx="16.7" ry="15.6" fill="#358944" stroke="#000" stroke-width="3.5"/>
<ellipse cx="995.5" cy="1256.3" rx="16.7" ry="15.6" fill="#358944" stroke="#000" stroke-width="3.5"/>
<ellipse cx="1003.1" cy="1263.2" rx="16.7" ry="15.6" fill="#358944" stroke="#000" stroke-width="3.5"/>
<ellipse cx="1010.7" cy="1266.0" rx="16.7" ry="15.6" fill="#358944" stroke="#000" stroke-width="3.5"/>
<ellipse cx="1018.3" cy="1268.7" rx="16.7" ry="15.6" fill="#358944" stroke="#000" stroke-width="3.5"/>
<ellipse cx="1025.9" cy="1271.5" rx="16.7" ry="15.6" fill="#358944" stroke="#000" stroke-width="3.5"/>
<ellipse cx="1033.5" cy="1275.7" rx="16.7" ry="15.6" fill="#358944" stroke="#000" stroke-width="3.5"/>
<ellipse cx="1041.1" cy="1278.4" rx="16.7" ry="15.6" fill="#358944" stroke="#000" stroke-width="3.5"/>
<ellipse cx="1048.7" cy="1281.2" rx="16.7" ry="15.6" fill="#358944" stroke="#000" stroke-width="3.5"/>
<ellipse cx="1056.3" cy="1277.1" rx="16.7" ry="15.6" fill="#358944" stroke="#000" stroke-width="3.5"/>
<ellipse cx="1063.9" cy="1270.1" rx="16.7" ry="15.6" fill="#358944" stroke="#000" stroke-width="3.5"/>
<ellipse cx="1071.5" cy="1274.3" rx="16.7" ry="15.6" fill="#358944" stroke="#000" stroke-width="3.5"/>
<ellipse cx="1079.1" cy="1279.8" rx="16.7" ry="15.6" fill="#358944" stroke="#000" stroke-width="3.5"/>
<ellipse cx="1086.7" cy="1282.6" rx="16.7" ry="15.6" fill="#358944" stroke="#000" stroke-width="3.5"/>
<ellipse cx="1094.3" cy="1285.4" rx="16.7" ry="15.6" fill="#358944" stroke="#000" stroke-width="3.5"/>
<ellipse cx="1101.9" cy="1282.6" rx="16.7" ry="15.6" fill="#358944" stroke="#000" stroke-width="3.5"/>
<ellipse cx="1109.6" cy="1279.8" rx="16.7" ry="15.6" fill="#358944" stroke="#000" stroke-width="3.5"/>
<ellipse cx="1117.2" cy="1277.1" rx="16.7" ry="15.6" fill="#358944" stroke="#000" stroke-width="3.5"/>
<ellipse cx="1124.8" cy="1278.4" rx="16.7" ry="15.6" fill="#358944" stroke="#000" stroke-width="3.5"/>
<ellipse cx="1132.4" cy="1281.2" rx="16.7" ry="15.6" fill="#358944" stroke="#000" stroke-width="3.5"/>
<ellipse cx="1140.0" cy="1285.4" rx="16.7" ry="15.6" fill="#358944" stroke="#000" stroke-width="3.5"/>
<ellipse cx="1147.6" cy="1296.5" rx="16.7" ry="15.6" fill="#358944" stroke="#000" stroke-width="3.5"/>
<ellipse cx="1155.2" cy="1279.8" rx="16.7" ry="15.6" fill="#358944" stroke="#000" stroke-width="3.5"/>
<line x1="738.3" y1="1283.0" x2="1179.0" y2="1283.0" stroke="#231f20" stroke-width="3.9" stroke-dasharray="27 21.3"/>
<path d="M848.30,1196.60 L848.30,1219.80 L842.35,1219.80 L842.35,1203.79 L836.40,1203.79 L836.40,1201.12 Q841.40,1200.54 843.30,1196.60 Z" fill="#231f20"/>
<text x="1180.4" y="1269.2" font-size="34" font-weight="bold" textLength="19.6" lengthAdjust="spacingAndGlyphs" fill="#d589ae">2</text>
<text x="0.2" y="1431.0" font-size="66.3" font-weight="bold" textLength="42.8" lengthAdjust="spacingAndGlyphs" fill="#231f20">E</text>
<circle cx="195" cy="1451.4" r="12" fill="#dfdfe1" stroke="#000" stroke-width="3.8"/>
<text x="224.0" y="1460.4" font-size="27" font-weight="bold" textLength="91.5" lengthAdjust="spacingAndGlyphs" fill="#231f20">Control</text>
<circle cx="195" cy="1487.4" r="12" fill="#00706f" stroke="#000" stroke-width="3.8"/>
<text x="224.0" y="1496.4" font-size="27" font-weight="bold" textLength="75.5" lengthAdjust="spacingAndGlyphs" fill="#231f20">TCB-2</text>
<circle cx="195" cy="1524" r="12" fill="#931633" stroke="#000" stroke-width="3.8"/>
<text x="224.0" y="1533.6" font-size="27" font-weight="bold" textLength="126.5" lengthAdjust="spacingAndGlyphs" fill="#231f20">8OH-DPAT</text>
<circle cx="195" cy="1560" r="12" fill="#358944" stroke="#000" stroke-width="3.8"/>
<text x="224.0" y="1570.5" font-size="27" font-weight="bold" textLength="69.5" lengthAdjust="spacingAndGlyphs" fill="#231f20">LP-44</text>
<line x1="147.1" y1="1538.4" x2="147.1" y2="1977.7" stroke="#000" stroke-width="4.5"/>
<line x1="135.2" y1="1540.4" x2="149.3" y2="1540.4" stroke="#000" stroke-width="4.0"/>
<line x1="135.2" y1="1613.8" x2="149.3" y2="1613.8" stroke="#000" stroke-width="4.0"/>
<line x1="135.2" y1="1686.3" x2="149.3" y2="1686.3" stroke="#000" stroke-width="4.0"/>
<line x1="135.2" y1="1758.8" x2="149.3" y2="1758.8" stroke="#000" stroke-width="4.0"/>
<line x1="135.2" y1="1831.5" x2="149.3" y2="1831.5" stroke="#000" stroke-width="4.0"/>
<line x1="135.2" y1="1904.0" x2="149.3" y2="1904.0" stroke="#000" stroke-width="4.0"/>
<line x1="135.2" y1="1975.7" x2="149.3" y2="1975.7" stroke="#000" stroke-width="4.0"/>
<text x="73.9" y="1550.9" font-size="32.5" textLength="54.8" lengthAdjust="spacingAndGlyphs" fill="#231f20">300</text>
<text x="73.5" y="1623.8" font-size="32.5" textLength="55.0" lengthAdjust="spacingAndGlyphs" fill="#231f20">250</text>
<text x="73.5" y="1696.8" font-size="32.5" textLength="55.0" lengthAdjust="spacingAndGlyphs" fill="#231f20">200</text>
<text x="73.2" y="1769.3" font-size="32.5" textLength="55.4" lengthAdjust="spacingAndGlyphs" fill="#231f20"> 50</text>
<path d="M81.55,1769.30 L81.55,1749.67 L76.40,1753.27 L76.40,1750.57 L81.80,1746.94 L84.49,1746.94 L84.49,1769.30 Z" fill="#231f20"/>
<text x="74.3" y="1841.4" font-size="32.5" textLength="55.8" lengthAdjust="spacingAndGlyphs" fill="#231f20"> 00</text>
<path d="M82.69,1841.40 L82.69,1821.77 L77.50,1825.37 L77.50,1822.67 L82.94,1819.04 L85.64,1819.04 L85.64,1841.40 Z" fill="#231f20"/>
<text x="85.2" y="1914.3" font-size="32.5" textLength="37.4" lengthAdjust="spacingAndGlyphs" fill="#231f20">50</text>
<text x="106.2" y="1988.0" font-size="32.5" textLength="18.9" lengthAdjust="spacingAndGlyphs" fill="#231f20">0</text>
<text x="51.0" y="1921.2" font-size="31.6" transform="rotate(-90 51.0 1921.2)" textLength="370.6" lengthAdjust="spacingAndGlyphs" fill="#231f20">Postsynaptic Response (%)</text>
<circle cx="206.6" cy="1701" r="5.1" fill="#dfdfe1" stroke="#000" stroke-width="1.5"/>
<circle cx="190.5" cy="1801.5" r="5.1" fill="#dfdfe1" stroke="#000" stroke-width="1.5"/>
<circle cx="206.6" cy="1798.3" r="5.1" fill="#dfdfe1" stroke="#000" stroke-width="1.5"/>
<circle cx="190.5" cy="1835.8" r="5.1" fill="#dfdfe1" stroke="#000" stroke-width="1.5"/>
<circle cx="223" cy="1849.8" r="5.1" fill="#dfdfe1" stroke="#000" stroke-width="1.5"/>
<circle cx="223" cy="1865.5" r="5.1" fill="#dfdfe1" stroke="#000" stroke-width="1.5"/>
<circle cx="206.6" cy="1874.3" r="5.1" fill="#dfdfe1" stroke="#000" stroke-width="1.5"/>
<circle cx="223" cy="1877.8" r="5.1" fill="#dfdfe1" stroke="#000" stroke-width="1.5"/>
<circle cx="190.5" cy="1888.3" r="5.1" fill="#dfdfe1" stroke="#000" stroke-width="1.5"/>
<circle cx="223" cy="1889" r="5.1" fill="#dfdfe1" stroke="#000" stroke-width="1.5"/>
<circle cx="206.6" cy="1901.6" r="5.1" fill="#dfdfe1" stroke="#000" stroke-width="1.5"/>
<circle cx="312.3" cy="1728" r="5.1" fill="#00706f" stroke="#000" stroke-width="1.5"/>
<circle cx="312.3" cy="1881.3" r="5.1" fill="#00706f" stroke="#000" stroke-width="1.5"/>
<circle cx="329" cy="1912.8" r="5.1" fill="#00706f" stroke="#000" stroke-width="1.5"/>
<circle cx="296.5" cy="1943.2" r="5.1" fill="#00706f" stroke="#000" stroke-width="1.5"/>
<circle cx="296.5" cy="1951.3" r="5.1" fill="#00706f" stroke="#000" stroke-width="1.5"/>
<circle cx="329" cy="1936.2" r="5.1" fill="#00706f" stroke="#000" stroke-width="1.5"/>
<circle cx="329" cy="1945" r="5.1" fill="#00706f" stroke="#000" stroke-width="1.5"/>
<circle cx="312.3" cy="1957.2" r="5.1" fill="#00706f" stroke="#000" stroke-width="1.5"/>
<circle cx="329" cy="1957.2" r="5.1" fill="#00706f" stroke="#000" stroke-width="1.5"/>
<circle cx="426.6" cy="1609" r="5.1" fill="#931633" stroke="#000" stroke-width="1.5"/>
<circle cx="426.7" cy="1739.5" r="5.1" fill="#931633" stroke="#000" stroke-width="1.5"/>
<circle cx="426.7" cy="1750.7" r="5.1" fill="#931633" stroke="#000" stroke-width="1.5"/>
<circle cx="410.3" cy="1804.3" r="5.1" fill="#931633" stroke="#000" stroke-width="1.5"/>
<circle cx="443.5" cy="1803.2" r="5.1" fill="#931633" stroke="#000" stroke-width="1.5"/>
<circle cx="443.5" cy="1828.8" r="5.1" fill="#931633" stroke="#000" stroke-width="1.5"/>
<circle cx="410.3" cy="1855" r="5.1" fill="#931633" stroke="#000" stroke-width="1.5"/>
<circle cx="410.3" cy="1860.3" r="5.1" fill="#931633" stroke="#000" stroke-width="1.5"/>
<circle cx="410.3" cy="1868.3" r="5.1" fill="#931633" stroke="#000" stroke-width="1.5"/>
<circle cx="443.5" cy="1866.2" r="5.1" fill="#931633" stroke="#000" stroke-width="1.5"/>
<circle cx="426.7" cy="1876.7" r="5.1" fill="#931633" stroke="#000" stroke-width="1.5"/>
<circle cx="410.3" cy="1891.8" r="5.1" fill="#931633" stroke="#000" stroke-width="1.5"/>
<circle cx="443.5" cy="1887.6" r="5.1" fill="#931633" stroke="#000" stroke-width="1.5"/>
<circle cx="410.3" cy="1912.8" r="5.1" fill="#931633" stroke="#000" stroke-width="1.5"/>
<circle cx="426.7" cy="1917.3" r="5.1" fill="#931633" stroke="#000" stroke-width="1.5"/>
<circle cx="536.5" cy="1539.5" r="5.1" fill="#358944" stroke="#000" stroke-width="1.5"/>
<circle cx="536.5" cy="1633.5" r="5.1" fill="#358944" stroke="#000" stroke-width="1.5"/>
<circle cx="536.3" cy="1732.5" r="5.1" fill="#358944" stroke="#000" stroke-width="1.5"/>
<circle cx="519.5" cy="1838.2" r="5.1" fill="#358944" stroke="#000" stroke-width="1.5"/>
<circle cx="552.7" cy="1830.5" r="5.1" fill="#358944" stroke="#000" stroke-width="1.5"/>
<circle cx="552.7" cy="1873.2" r="5.1" fill="#358944" stroke="#000" stroke-width="1.5"/>
<circle cx="536.3" cy="1900.5" r="5.1" fill="#358944" stroke="#000" stroke-width="1.5"/>
<circle cx="536.3" cy="1920.8" r="5.1" fill="#358944" stroke="#000" stroke-width="1.5"/>
<circle cx="519.5" cy="1926.8" r="5.1" fill="#358944" stroke="#000" stroke-width="1.5"/>
<circle cx="519.5" cy="1930.3" r="5.1" fill="#358944" stroke="#000" stroke-width="1.5"/>
<circle cx="536.3" cy="1927.5" r="5.1" fill="#358944" stroke="#000" stroke-width="1.5"/>
<circle cx="536.3" cy="1947" r="5.1" fill="#358944" stroke="#000" stroke-width="1.5"/>
<line x1="206.6" y1="1825.3" x2="206.6" y2="1862.0" stroke="#231f20" stroke-width="4.6"/>
<line x1="312.3" y1="1898.8" x2="312.3" y2="1939.0" stroke="#231f20" stroke-width="4.6"/>
<line x1="427.3" y1="1809.5" x2="427.3" y2="1852.6" stroke="#231f20" stroke-width="4.6"/>
<line x1="536.3" y1="1799.0" x2="536.3" y2="1874.3" stroke="#231f20" stroke-width="4.6"/>
<line x1="151.9" y1="1831.5" x2="590.6" y2="1831.5" stroke="#231f20" stroke-width="4" stroke-dasharray="28.1 19.95"/>
<circle cx="206.6" cy="1844.5" r="11.6" fill="#dfdfe1" stroke="#000" stroke-width="5"/>
<circle cx="312.3" cy="1919" r="11.6" fill="#00706f" stroke="#000" stroke-width="5"/>
<circle cx="427.3" cy="1831.6" r="11.6" fill="#931633" stroke="#000" stroke-width="5"/>
<circle cx="536.3" cy="1838" r="11.6" fill="#358944" stroke="#000" stroke-width="5"/>
<path d="M285.70,1918.30 L286.70,1908.90 L282.90,1908.90 L283.90,1918.30 Z" fill="#231f20"/>
<path d="M285.02,1917.43 L275.87,1914.06 L274.93,1917.74 L284.58,1919.17 Z" fill="#231f20"/>
<path d="M285.02,1919.17 L294.67,1917.74 L293.73,1914.06 L284.58,1917.43 Z" fill="#231f20"/>
<path d="M284.10,1917.74 L277.11,1924.92 L280.09,1927.28 L285.50,1918.86 Z" fill="#231f20"/>
<path d="M284.10,1918.86 L289.51,1927.28 L292.49,1924.92 L285.50,1917.74 Z" fill="#231f20"/>
<text x="564.6" y="1433.8" font-size="64" font-weight="bold" textLength="35.8" lengthAdjust="spacingAndGlyphs" fill="#231f20">F</text>
<line x1="689.0" y1="1414.4" x2="689.0" y2="1845.1" stroke="#000" stroke-width="4.5"/>
<line x1="676.5" y1="1416.2" x2="691.2" y2="1416.2" stroke="#000" stroke-width="3.6"/>
<line x1="676.5" y1="1501.4" x2="691.2" y2="1501.4" stroke="#000" stroke-width="3.6"/>
<line x1="676.5" y1="1587.2" x2="691.2" y2="1587.2" stroke="#000" stroke-width="3.6"/>
<line x1="676.5" y1="1672.5" x2="691.2" y2="1672.5" stroke="#000" stroke-width="3.6"/>
<line x1="676.5" y1="1758.0" x2="691.2" y2="1758.0" stroke="#000" stroke-width="3.6"/>
<line x1="676.5" y1="1843.3" x2="691.2" y2="1843.3" stroke="#000" stroke-width="3.6"/>
<text x="621.7" y="1428.4" font-size="31.8" textLength="51.5" lengthAdjust="spacingAndGlyphs" fill="#231f20"> 00</text>
<path d="M629.50,1428.44 L629.50,1409.23 L624.71,1412.76 L624.71,1410.12 L629.72,1406.56 L632.22,1406.56 L632.22,1428.44 Z" fill="#231f20"/>
<text x="638.9" y="1513.6" font-size="31.8" textLength="34.3" lengthAdjust="spacingAndGlyphs" fill="#231f20">80</text>
<text x="638.9" y="1599.4" font-size="31.8" textLength="34.3" lengthAdjust="spacingAndGlyphs" fill="#231f20">60</text>
<text x="638.9" y="1684.7" font-size="31.8" textLength="34.3" lengthAdjust="spacingAndGlyphs" fill="#231f20">40</text>
<text x="638.9" y="1770.2" font-size="31.8" textLength="34.3" lengthAdjust="spacingAndGlyphs" fill="#231f20">20</text>
<text x="656.0" y="1855.5" font-size="31.8" textLength="17.2" lengthAdjust="spacingAndGlyphs" fill="#231f20">0</text>
<text x="621.0" y="1695.1" font-size="31" transform="rotate(-90 621.0 1695.1)" textLength="126.5" lengthAdjust="spacingAndGlyphs" fill="#231f20">Cells (%)</text>
<rect x="723.30" y="1572.40" width="25.45" height="271.80" fill="#f3efb3" stroke="#231f20" stroke-width="3.2"/>
<rect x="748.75" y="1805.80" width="22.95" height="38.40" fill="#e5b35d" stroke="#231f20" stroke-width="3.2"/>
<rect x="771.70" y="1727.85" width="25.45" height="116.35" fill="#a18852" stroke="#231f20" stroke-width="3.2"/>
<rect x="848.30" y="1452.00" width="24.30" height="392.20" fill="#f3efb3" stroke="#231f20" stroke-width="3.2"/>
<rect x="899.50" y="1808.30" width="23.90" height="35.90" fill="#a18852" stroke="#231f20" stroke-width="3.2"/>
<rect x="973.30" y="1588.30" width="25.90" height="255.90" fill="#f3efb3" stroke="#231f20" stroke-width="3.2"/>
<rect x="999.20" y="1815.35" width="23.70" height="28.85" fill="#e5b35d" stroke="#231f20" stroke-width="3.2"/>
<rect x="1022.90" y="1701.60" width="24.70" height="142.60" fill="#a18852" stroke="#231f20" stroke-width="3.2"/>
<rect x="1095.35" y="1614.10" width="24.65" height="230.10" fill="#f3efb3" stroke="#231f20" stroke-width="3.2"/>
<rect x="1120.00" y="1745.35" width="25.00" height="98.85" fill="#e5b35d" stroke="#231f20" stroke-width="3.2"/>
<rect x="1145.00" y="1745.35" width="24.20" height="98.85" fill="#a18852" stroke="#231f20" stroke-width="3.2"/>
<line x1="874.2" y1="1844.2" x2="897.9" y2="1844.2" stroke="#231f20" stroke-width="3.2"/>
<line x1="1093.8" y1="1843.8" x2="1170.8" y2="1843.8" stroke="#231f20" stroke-width="4"/>
<text x="719.8" y="1883.5" font-size="26" font-weight="bold" textLength="92.5" lengthAdjust="spacingAndGlyphs" fill="#231f20">Control</text>
<text x="848.0" y="1883.5" font-size="26" font-weight="bold" textLength="77.0" lengthAdjust="spacingAndGlyphs" fill="#231f20">TCB-2</text>
<text x="949.0" y="1883.5" font-size="26" font-weight="bold" textLength="129.0" lengthAdjust="spacingAndGlyphs" fill="#231f20">8OH-DPAT</text>
<text x="1098.8" y="1883.5" font-size="26" font-weight="bold" textLength="70.5" lengthAdjust="spacingAndGlyphs" fill="#231f20">LP-44</text>
<rect x="972.15" y="1439.15" width="46.10" height="33.10" fill="#f3efb3" stroke="#000" stroke-width="3.5"/>
<text x="1030.0" y="1468.0" font-size="30" font-weight="bold" textLength="55.0" lengthAdjust="spacingAndGlyphs" fill="#231f20">LTD</text>
<rect x="972.15" y="1482.35" width="46.10" height="32.90" fill="#e5b35d" stroke="#000" stroke-width="3.5"/>
<text x="1030.0" y="1512.0" font-size="30" font-weight="bold" textLength="156.5" lengthAdjust="spacingAndGlyphs" fill="#231f20">No Change</text>
<rect x="972.15" y="1525.75" width="46.10" height="33.10" fill="#a18852" stroke="#000" stroke-width="3.5"/>
<text x="1030.0" y="1557.0" font-size="30" font-weight="bold" textLength="53.0" lengthAdjust="spacingAndGlyphs" fill="#231f20">LTP</text>
</svg>
</body></html>
